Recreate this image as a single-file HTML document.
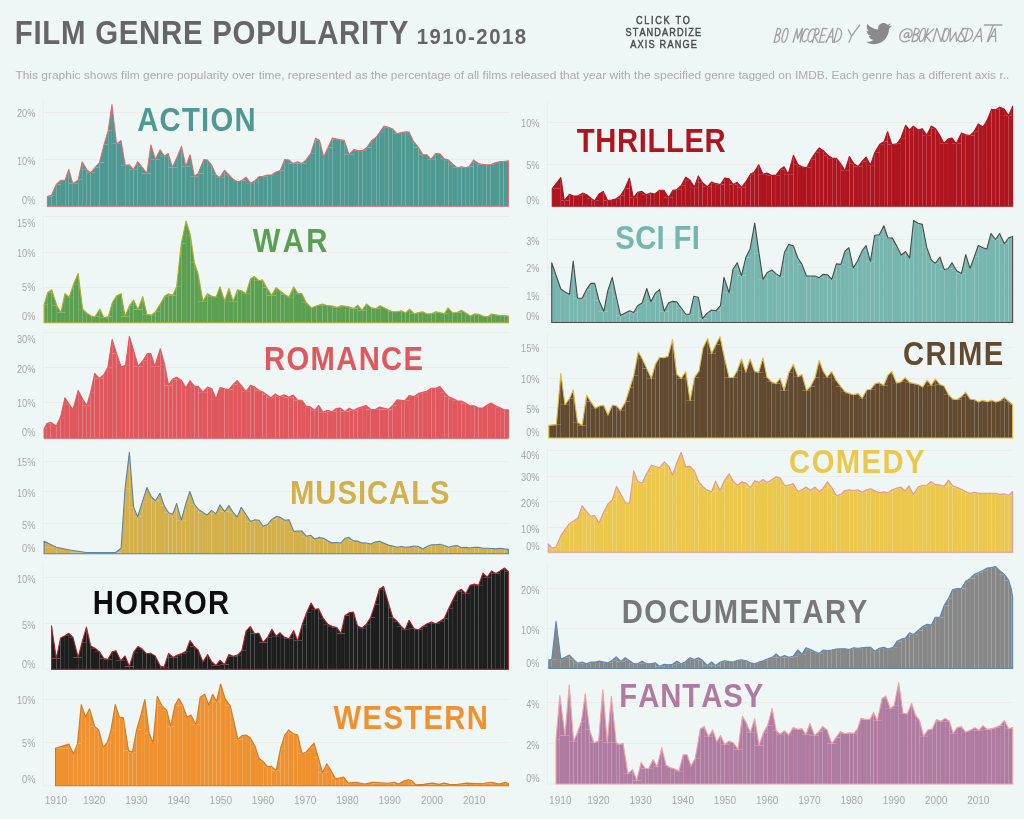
<!DOCTYPE html>
<html><head><meta charset="utf-8"><style>
html,body{margin:0;padding:0;background:#eff7f6;}
body{width:1024px;height:819px;overflow:hidden;position:relative;}
svg{position:absolute;left:0;top:0;will-change:transform;}
svg text{font-family:"Liberation Sans",sans-serif;}
</style></head><body>
<svg width="1024" height="819" viewBox="0 0 1024 819">
<text transform="translate(14.73,44) scale(0.88,1)" x="0" y="0" font-size="33.43" font-weight="bold" fill="#666666" letter-spacing="0.83" style="font-kerning:none">FILM GENRE POPULARITY</text>
<text transform="translate(416.71,44.3) scale(0.9,1)" x="0" y="0" font-size="22.67" font-weight="bold" fill="#666666" letter-spacing="1.66" style="font-kerning:none">1910-2018</text>
<text x="15.43" y="78.8" font-size="11.8" font-weight="normal" fill="#ababab" textLength="993.96" lengthAdjust="spacingAndGlyphs">This graphic shows film genre popularity over time, represented as the percentage of all films released that year with the specified genre tagged on IMDB. Each genre has a different axis r..</text>
<text transform="translate(636.03,23.6) scale(0.84,1)" x="0" y="0" font-size="10.9" font-weight="normal" fill="#4a4a4a" letter-spacing="1.99" style="font-kerning:none" stroke="#4a4a4a" stroke-width="0.45">CLICK TO</text>
<text transform="translate(625.48,35.7) scale(0.84,1)" x="0" y="0" font-size="10.9" font-weight="normal" fill="#4a4a4a" letter-spacing="1.32" style="font-kerning:none" stroke="#4a4a4a" stroke-width="0.45">STANDARDIZE</text>
<text transform="translate(630.28,47.8) scale(0.84,1)" x="0" y="0" font-size="10.9" font-weight="normal" fill="#4a4a4a" letter-spacing="1.42" style="font-kerning:none" stroke="#4a4a4a" stroke-width="0.45">AXIS RANGE</text>
<path d="M777.5,28.4 L774.1,42.3 M777.5,28.4 C782.7,28.1 781.2,34.8 776.0,34.9 M775.9,34.9 C781.9,34.7 780.2,42.6 774.1,42.3 M786.7,28.4 C783.7,28.4 779.9,42.3 783.3,42.3 C786.7,42.3 790.1,28.4 786.7,28.4 M793.1,42.3 L797.0,28.7 L797.5,38.8 L802.4,28.4 L800.1,42.3 M808.6,30.1 C807.3,27.0 803.8,29.8 802.4,36.0 C801.1,42.3 804.0,43.0 806.4,40.2 M814.7,30.1 C813.2,27.0 809.5,29.8 808.2,36.0 C806.8,42.3 810.0,43.0 812.4,40.2 M812.6,42.3 L816.0,28.4 C821.1,28.1 819.5,35.3 814.3,35.3 L817.7,42.3 M827.2,28.7 L822.8,28.4 L819.3,42.3 L824.0,42.0 M821.1,35.3 L824.9,35.1 M826.0,42.3 L832.8,28.4 L832.7,42.3 M829.0,37.0 L832.6,36.7 M837.5,28.4 L833.8,42.3 M837.5,28.4 C844.7,29.1 841.9,41.6 833.8,42.3 M848.3,29.8 L851.6,36.0 L859.8,24.9 M851.6,36.0 L849.0,42.3 M908.0,32.9 C905.4,31.6 903.1,36.2 904.8,37.5 C906.6,38.2 908.6,34.9 908.8,32.9 L908.3,37.5 C909.8,38.2 911.9,36.2 912.1,33.6 C912.5,29.0 907.6,27.6 903.1,30.3 C899.3,32.9 898.3,40.2 902.6,41.5 C904.4,42.0 907.1,41.5 909.4,40.2 M915.3,28.3 L912.0,41.5 M915.3,28.3 C921.4,28.0 920.0,34.4 914.0,34.5 M913.8,34.5 C920.8,34.2 919.1,41.8 912.0,41.5 M924.0,28.3 C920.8,28.3 917.2,41.5 920.7,41.5 C924.2,41.5 927.5,28.3 924.0,28.3 M928.2,28.3 L924.5,41.5 M933.7,29.0 L926.1,36.2 L930.5,41.5 M933.0,41.5 L936.9,28.3 L941.1,41.5 L945.0,28.3 M947.5,28.3 C944.3,28.3 940.7,41.5 944.2,41.5 C947.7,41.5 951.0,28.3 947.5,28.3 M950.5,28.3 L950.0,41.5 L955.8,32.3 L956.5,41.5 L963.0,28.3 M967.2,29.0 C963.9,27.0 960.4,30.9 961.9,34.2 C963.4,37.5 965.9,38.2 962.6,41.2 C960.9,42.2 959.2,41.5 958.3,40.2 M968.1,28.3 L964.5,41.5 M968.1,28.3 C975.8,29.0 973.2,40.8 964.5,41.5 M973.0,41.5 L980.7,28.3 L981.6,41.5 M976.5,36.5 L981.0,36.2 M984.3,25.0 L1001.9,25.0 M993.1,25.0 L987.4,41.5 M988.0,41.5 L995.2,28.3 L995.7,41.5 M991.3,36.5 L995.3,36.2" fill="none" stroke="#a0a0a0" stroke-width="1.3" stroke-linecap="round" stroke-linejoin="round"/>
<path transform="translate(865.6,21.6) scale(0.113)" fill="#8a8a8a" d="M228 34c-8 4-17 6-26 7 9-6 17-14 20-25-9 5-19 9-29 11C184 18 172 13 158 13c-26 0-47 21-47 47 0 4 0 7 1 11C73 69 39 50 16 22c-4 7-6 15-6 24 0 16 8 31 21 39-8 0-15-2-21-6v1c0 23 16 42 38 46-4 1-8 2-12 2-3 0-6 0-9-1 6 19 23 32 44 33-16 13-37 20-59 20-4 0-8 0-11-1 21 13 46 21 72 21 87 0 134-72 134-134v-6c9-7 17-15 23-24z"/>
<line x1="43.2" y1="100" x2="43.2" y2="206.3" stroke="#e6ecec" stroke-width="0.8"/>
<line x1="43.2" y1="206.3" x2="510" y2="206.3" stroke="#e6ecec" stroke-width="0.8"/>
<line x1="43.2" y1="159.5" x2="510" y2="159.5" stroke="#ebe8e8" stroke-width="0.8"/>
<line x1="43.2" y1="112.5" x2="510" y2="112.5" stroke="#ebe8e8" stroke-width="0.8"/>
<text x="16.91" y="117.3" font-size="10" fill="#a8a8a8" textLength="18.41" lengthAdjust="spacingAndGlyphs">20%</text>
<text x="16.91" y="164.6" font-size="10" fill="#a8a8a8" textLength="18.41" lengthAdjust="spacingAndGlyphs">10%</text>
<text x="22.03" y="204.2" font-size="10" fill="#a8a8a8" textLength="13.3" lengthAdjust="spacingAndGlyphs">0%</text>
<g fill="#4e9991"><path d="M47.36 206.3V196.53H51.61V206.3Z"/><path d="M51.61 206.3V195.12H56.28V206.3Z"/><path d="M56.28 206.3V184.5H60.96V206.3Z"/><path d="M60.96 206.3V180.25H65.2V206.3Z"/><path d="M65.2 206.3V179.96H68.74V206.3Z"/><path d="M68.74 206.3V183.79H72.85V206.3Z"/><path d="M72.85 206.3V183.79H78.23V206.3Z"/><path d="M78.23 206.3V179.82H82.19V206.3Z"/><path d="M82.19 206.3V169.63H86.73V206.3Z"/><path d="M86.73 206.3V172.74H90.55V206.3Z"/><path d="M90.55 206.3V172.74H94.94V206.3Z"/><path d="M94.94 206.3V167.5H99.47V206.3Z"/><path d="M99.47 206.3V162.55H104V206.3Z"/><path d="M104 206.3V144.85H108.25V206.3Z"/><path d="M108.25 206.3V130.69H111.93V206.3Z"/><path d="M111.93 206.3V143.86H116.46V206.3Z"/><path d="M116.46 206.3V143.86H120.99V206.3Z"/><path d="M120.99 206.3V165.38H125.24V206.3Z"/><path d="M125.24 206.3V165.38H129.2V206.3Z"/><path d="M129.2 206.3V169.63H133.45V206.3Z"/><path d="M133.45 206.3V169.63H137.7V206.3Z"/><path d="M137.7 206.3V166.8H141.95V206.3Z"/><path d="M141.95 206.3V173.59H146.9V206.3Z"/><path d="M146.9 206.3V173.59H150.87V206.3Z"/><path d="M150.87 206.3V159.43H155.4V206.3Z"/><path d="M155.4 206.3V159.43H160.07V206.3Z"/><path d="M160.07 206.3V156.18H164.32V206.3Z"/><path d="M164.32 206.3V156.18H168.25V206.3Z"/><path d="M168.25 206.3V167.33H172.38V206.3Z"/><path d="M172.38 206.3V167.33H177.19V206.3Z"/><path d="M177.19 206.3V157.02H181.48V206.3Z"/><path d="M181.48 206.3V166.47H185.78V206.3Z"/><path d="M185.78 206.3V166.47H190.08V206.3Z"/><path d="M190.08 206.3V176.44H194.38V206.3Z"/><path d="M194.38 206.3V176.44H198.16V206.3Z"/><path d="M198.16 206.3V173.34H203.83V206.3Z"/><path d="M203.83 206.3V159.94H207.27V206.3Z"/><path d="M207.27 206.3V165.09H211.56V206.3Z"/><path d="M211.56 206.3V174.72H215.86V206.3Z"/><path d="M215.86 206.3V177.64H219.81V206.3Z"/><path d="M219.81 206.3V177.64H224.45V206.3Z"/><path d="M224.45 206.3V174.72H228.75V206.3Z"/><path d="M228.75 206.3V179.02H233.05V206.3Z"/><path d="M233.05 206.3V181.94H237.34V206.3Z"/><path d="M237.34 206.3V181.94H241.64V206.3Z"/><path d="M241.64 206.3V180.56H245.94V206.3Z"/><path d="M245.94 206.3V183.14H250.58V206.3Z"/><path d="M250.58 206.3V183.14H254.53V206.3Z"/><path d="M254.53 206.3V181.08H258.83V206.3Z"/><path d="M258.83 206.3V176.78H263.12V206.3Z"/><path d="M263.12 206.3V176.27H267.42V206.3Z"/><path d="M267.42 206.3V175.06H271.72V206.3Z"/><path d="M271.72 206.3V175.06H276.02V206.3Z"/><path d="M276.02 206.3V171.97H280.31V206.3Z"/><path d="M280.31 206.3V170.42H284.61V206.3Z"/><path d="M284.61 206.3V159.94H288.91V206.3Z"/><path d="M288.91 206.3V163.55H293.2V206.3Z"/><path d="M293.2 206.3V163.55H297.5V206.3Z"/><path d="M297.5 206.3V163.55H301.8V206.3Z"/><path d="M301.8 206.3V163.55H306.09V206.3Z"/><path d="M306.09 206.3V159.94H310.91V206.3Z"/><path d="M310.91 206.3V153.23H315.55V206.3Z"/><path d="M315.55 206.3V140.34H319.5V206.3Z"/><path d="M319.5 206.3V157.02H323.62V206.3Z"/><path d="M323.62 206.3V157.02H328.09V206.3Z"/><path d="M328.09 206.3V147.56H332.39V206.3Z"/><path d="M332.39 206.3V139.83H340.3V206.3Z"/><path d="M340.3 206.3V140.34H344.25V206.3Z"/><path d="M344.25 206.3V154.44H348.89V206.3Z"/><path d="M348.89 206.3V154.44H354.05V206.3Z"/><path d="M354.05 206.3V150.66H358.34V206.3Z"/><path d="M358.34 206.3V150.66H362.64V206.3Z"/><path d="M362.64 206.3V150.66H366.94V206.3Z"/><path d="M366.94 206.3V147.56H371.23V206.3Z"/><path d="M371.23 206.3V141.03H376.39V206.3Z"/><path d="M376.39 206.3V136.91H379.83V206.3Z"/><path d="M379.83 206.3V132.09H384.12V206.3Z"/><path d="M384.12 206.3V127.28H388.42V206.3Z"/><path d="M388.42 206.3V129H392.72V206.3Z"/><path d="M392.72 206.3V133.81H397.02V206.3Z"/><path d="M397.02 206.3V133.81H401.31V206.3Z"/><path d="M401.31 206.3V132.61H405.61V206.3Z"/><path d="M405.61 206.3V132.09H409.05V206.3Z"/><path d="M409.05 206.3V141.03H413.34V206.3Z"/><path d="M413.34 206.3V147.56H418.5V206.3Z"/><path d="M418.5 206.3V154.44H422.8V206.3Z"/><path d="M422.8 206.3V154.78H427.09V206.3Z"/><path d="M427.09 206.3V159.25H430.88V206.3Z"/><path d="M430.88 206.3V159.25H435.69V206.3Z"/><path d="M435.69 206.3V153.92H439.98V206.3Z"/><path d="M439.98 206.3V158.73H444.28V206.3Z"/><path d="M444.28 206.3V160.11H448.58V206.3Z"/><path d="M448.58 206.3V164.23H452.88V206.3Z"/><path d="M452.88 206.3V167.84H457.17V206.3Z"/><path d="M457.17 206.3V167.84H461.47V206.3Z"/><path d="M461.47 206.3V167.84H465.77V206.3Z"/><path d="M465.77 206.3V167.84H469.2V206.3Z"/><path d="M469.2 206.3V166.47H473.5V206.3Z"/><path d="M473.5 206.3V163.03H477.8V206.3Z"/><path d="M477.8 206.3V164.41H482.09V206.3Z"/><path d="M482.09 206.3V164.75H486.39V206.3Z"/><path d="M486.39 206.3V164.75H490.69V206.3Z"/><path d="M490.69 206.3V164.75H494.98V206.3Z"/><path d="M494.98 206.3V162.69H499.28V206.3Z"/><path d="M499.28 206.3V161.66H503.58V206.3Z"/><path d="M503.58 206.3V161.66H508.39V206.3Z"/><path d="M47.36 196.53L47.36 196.53L51.61 195.12L51.61 196.53Z"/><path d="M51.61 195.12L51.61 195.12L56.28 184.5L56.28 195.12Z"/><path d="M56.28 184.5L56.28 184.5L60.96 180.25L60.96 184.5Z"/><path d="M60.96 180.25L60.96 180.25L65.2 179.96L65.2 180.25Z"/><path d="M65.2 179.96L65.2 179.96L68.74 169.35L68.74 179.96Z"/><path d="M68.74 183.79L68.74 169.35L72.85 183.79L72.85 183.79Z"/><path d="M72.85 183.79L72.85 183.79L78.23 179.82L78.23 183.79Z"/><path d="M78.23 179.82L78.23 179.82L82.19 161.84L82.19 179.82Z"/><path d="M82.19 169.63L82.19 161.84L86.73 169.63L86.73 169.63Z"/><path d="M86.73 172.74L86.73 169.63L90.55 172.74L90.55 172.74Z"/><path d="M90.55 172.74L90.55 172.74L94.94 167.5L94.94 172.74Z"/><path d="M94.94 167.5L94.94 167.5L99.47 162.55L99.47 167.5Z"/><path d="M99.47 162.55L99.47 162.55L104 144.85L104 162.55Z"/><path d="M104 144.85L104 144.85L108.25 130.69L108.25 144.85Z"/><path d="M108.25 130.69L108.25 130.69L111.93 104.5L111.93 130.69Z"/><path d="M111.93 143.86L111.93 104.5L116.46 143.86L116.46 143.86Z"/><path d="M116.46 143.86L116.46 143.86L120.99 140.6L120.99 143.86Z"/><path d="M120.99 165.38L120.99 140.6L125.24 165.38L125.24 165.38Z"/><path d="M125.24 165.38L125.24 165.38L129.2 164.67L129.2 165.38Z"/><path d="M129.2 169.63L129.2 164.67L133.45 169.63L133.45 169.63Z"/><path d="M133.45 169.63L133.45 169.63L137.7 161.84L137.7 169.63Z"/><path d="M137.7 166.8L137.7 161.84L141.95 166.8L141.95 166.8Z"/><path d="M141.95 173.59L141.95 166.8L146.9 173.59L146.9 173.59Z"/><path d="M146.9 173.59L146.9 173.59L150.87 144.85L150.87 173.59Z"/><path d="M150.87 159.43L150.87 144.85L155.4 159.43L155.4 159.43Z"/><path d="M155.4 159.43L155.4 159.43L160.07 149.81L160.07 159.43Z"/><path d="M160.07 156.18L160.07 149.81L164.32 156.18L164.32 156.18Z"/><path d="M164.32 156.18L164.32 156.18L168.25 153.58L168.25 156.18Z"/><path d="M168.25 167.33L168.25 153.58L172.38 167.33L172.38 167.33Z"/><path d="M172.38 167.33L172.38 167.33L177.19 157.02L177.19 167.33Z"/><path d="M177.19 157.02L177.19 157.02L181.48 146.36L181.48 157.02Z"/><path d="M181.48 166.47L181.48 146.36L185.78 166.47L185.78 166.47Z"/><path d="M185.78 166.47L185.78 166.47L190.08 154.78L190.08 166.47Z"/><path d="M190.08 176.44L190.08 154.78L194.38 176.44L194.38 176.44Z"/><path d="M194.38 176.44L194.38 176.44L198.16 173.34L198.16 176.44Z"/><path d="M198.16 173.34L198.16 173.34L203.83 159.59L203.83 173.34Z"/><path d="M203.83 159.94L203.83 159.59L207.27 159.94L207.27 159.94Z"/><path d="M207.27 165.09L207.27 159.94L211.56 165.09L211.56 165.09Z"/><path d="M211.56 174.72L211.56 165.09L215.86 174.72L215.86 174.72Z"/><path d="M215.86 177.64L215.86 174.72L219.81 177.64L219.81 177.64Z"/><path d="M219.81 177.64L219.81 177.64L224.45 170.25L224.45 177.64Z"/><path d="M224.45 174.72L224.45 170.25L228.75 174.72L228.75 174.72Z"/><path d="M228.75 179.02L228.75 174.72L233.05 179.02L233.05 179.02Z"/><path d="M233.05 181.94L233.05 179.02L237.34 181.94L237.34 181.94Z"/><path d="M237.34 181.94L237.34 181.94L241.64 180.56L241.64 181.94Z"/><path d="M241.64 180.56L241.64 180.56L245.94 177.12L245.94 180.56Z"/><path d="M245.94 183.14L245.94 177.12L250.58 183.14L250.58 183.14Z"/><path d="M250.58 183.14L250.58 183.14L254.53 181.08L254.53 183.14Z"/><path d="M254.53 181.08L254.53 181.08L258.83 176.78L258.83 181.08Z"/><path d="M258.83 176.78L258.83 176.78L263.12 176.27L263.12 176.78Z"/><path d="M263.12 176.27L263.12 176.27L267.42 175.06L267.42 176.27Z"/><path d="M271.72 175.06L271.72 175.06L276.02 171.97L276.02 175.06Z"/><path d="M276.02 171.97L276.02 171.97L280.31 170.42L280.31 171.97Z"/><path d="M280.31 170.42L280.31 170.42L284.61 159.59L284.61 170.42Z"/><path d="M284.61 159.94L284.61 159.59L288.91 159.94L288.91 159.94Z"/><path d="M288.91 163.55L288.91 159.94L293.2 163.55L293.2 163.55Z"/><path d="M293.2 163.55L293.2 163.55L297.5 161.66L297.5 163.55Z"/><path d="M297.5 163.55L297.5 161.66L301.8 163.55L301.8 163.55Z"/><path d="M301.8 163.55L301.8 163.55L306.09 159.94L306.09 163.55Z"/><path d="M306.09 159.94L306.09 159.94L310.91 153.23L310.91 159.94Z"/><path d="M310.91 153.23L310.91 153.23L315.55 138.11L315.55 153.23Z"/><path d="M315.55 140.34L315.55 138.11L319.5 140.34L319.5 140.34Z"/><path d="M319.5 157.02L319.5 140.34L323.62 157.02L323.62 157.02Z"/><path d="M323.62 157.02L323.62 157.02L328.09 147.56L328.09 157.02Z"/><path d="M328.09 147.56L328.09 147.56L332.39 138.11L332.39 147.56Z"/><path d="M332.39 139.83L332.39 138.11L340.3 139.83L340.3 139.83Z"/><path d="M340.3 140.34L340.3 139.83L344.25 140.34L344.25 140.34Z"/><path d="M344.25 154.44L344.25 140.34L348.89 154.44L348.89 154.44Z"/><path d="M348.89 154.44L348.89 154.44L354.05 149.62L354.05 154.44Z"/><path d="M354.05 150.66L354.05 149.62L358.34 150.66L358.34 150.66Z"/><path d="M362.64 150.66L362.64 150.66L366.94 147.56L366.94 150.66Z"/><path d="M366.94 147.56L366.94 147.56L371.23 141.03L371.23 147.56Z"/><path d="M371.23 141.03L371.23 141.03L376.39 136.91L376.39 141.03Z"/><path d="M376.39 136.91L376.39 136.91L379.83 132.09L379.83 136.91Z"/><path d="M379.83 132.09L379.83 132.09L384.12 126.08L384.12 132.09Z"/><path d="M384.12 127.28L384.12 126.08L388.42 127.28L388.42 127.28Z"/><path d="M388.42 129L388.42 127.28L392.72 129L392.72 129Z"/><path d="M392.72 133.81L392.72 129L397.02 133.81L397.02 133.81Z"/><path d="M397.02 133.81L397.02 133.81L401.31 132.61L401.31 133.81Z"/><path d="M401.31 132.61L401.31 132.61L405.61 131.75L405.61 132.61Z"/><path d="M405.61 132.09L405.61 131.75L409.05 132.09L409.05 132.09Z"/><path d="M409.05 141.03L409.05 132.09L413.34 141.03L413.34 141.03Z"/><path d="M413.34 147.56L413.34 141.03L418.5 147.56L418.5 147.56Z"/><path d="M418.5 154.44L418.5 147.56L422.8 154.44L422.8 154.44Z"/><path d="M422.8 154.78L422.8 154.44L427.09 154.78L427.09 154.78Z"/><path d="M427.09 159.25L427.09 154.78L430.88 159.25L430.88 159.25Z"/><path d="M430.88 159.25L430.88 159.25L435.69 153.58L435.69 159.25Z"/><path d="M435.69 153.92L435.69 153.58L439.98 153.92L439.98 153.92Z"/><path d="M439.98 158.73L439.98 153.92L444.28 158.73L444.28 158.73Z"/><path d="M444.28 160.11L444.28 158.73L448.58 160.11L448.58 160.11Z"/><path d="M448.58 164.23L448.58 160.11L452.88 164.23L452.88 164.23Z"/><path d="M452.88 167.84L452.88 164.23L457.17 167.84L457.17 167.84Z"/><path d="M457.17 167.84L457.17 167.84L461.47 166.81L461.47 167.84Z"/><path d="M461.47 167.84L461.47 166.81L465.77 167.84L465.77 167.84Z"/><path d="M465.77 167.84L465.77 167.84L469.2 166.47L469.2 167.84Z"/><path d="M469.2 166.47L469.2 166.47L473.5 159.94L473.5 166.47Z"/><path d="M473.5 163.03L473.5 159.94L477.8 163.03L477.8 163.03Z"/><path d="M477.8 164.41L477.8 163.03L482.09 164.41L482.09 164.41Z"/><path d="M482.09 164.75L482.09 164.41L486.39 164.75L486.39 164.75Z"/><path d="M490.69 164.75L490.69 164.75L494.98 162.69L494.98 164.75Z"/><path d="M494.98 162.69L494.98 162.69L499.28 161.66L499.28 162.69Z"/><path d="M503.58 161.66L503.58 161.66L508.39 160.8L508.39 161.66Z"/></g>
<polygon points="47.36,206.3 47.36,196.53 51.61,195.12 56.28,184.5 60.96,180.25 65.2,179.96 68.74,169.35 72.85,183.79 78.23,179.82 82.19,161.84 86.73,169.63 90.55,172.74 94.94,167.5 99.47,162.55 104,144.85 108.25,130.69 111.93,104.5 116.46,143.86 120.99,140.6 125.24,165.38 129.2,164.67 133.45,169.63 137.7,161.84 141.95,166.8 146.9,173.59 150.87,144.85 155.4,159.43 160.07,149.81 164.32,156.18 168.25,153.58 172.38,167.33 177.19,157.02 181.48,146.36 185.78,166.47 190.08,154.78 194.38,176.44 198.16,173.34 203.83,159.59 207.27,159.94 211.56,165.09 215.86,174.72 219.81,177.64 224.45,170.25 228.75,174.72 233.05,179.02 237.34,181.94 241.64,180.56 245.94,177.12 250.58,183.14 254.53,181.08 258.83,176.78 263.12,176.27 267.42,175.06 271.72,175.06 276.02,171.97 280.31,170.42 284.61,159.59 288.91,159.94 293.2,163.55 297.5,161.66 301.8,163.55 306.09,159.94 310.91,153.23 315.55,138.11 319.5,140.34 323.62,157.02 328.09,147.56 332.39,138.11 340.3,139.83 344.25,140.34 348.89,154.44 354.05,149.62 358.34,150.66 362.64,150.66 366.94,147.56 371.23,141.03 376.39,136.91 379.83,132.09 384.12,126.08 388.42,127.28 392.72,129 397.02,133.81 401.31,132.61 405.61,131.75 409.05,132.09 413.34,141.03 418.5,147.56 422.8,154.44 427.09,154.78 430.88,159.25 435.69,153.58 439.98,153.92 444.28,158.73 448.58,160.11 452.88,164.23 457.17,167.84 461.47,166.81 465.77,167.84 469.2,166.47 473.5,159.94 477.8,163.03 482.09,164.41 486.39,164.75 490.69,164.75 494.98,162.69 499.28,161.66 503.58,161.66 508.39,160.8 508.39,206.3" fill="none" stroke="#de6b70" stroke-width="1.1" stroke-linejoin="round"/>
<text transform="translate(137.17,131.3) scale(0.86,1)" x="0" y="0" font-size="34.01" font-weight="bold" fill="#4e9991" letter-spacing="1.48" style="font-kerning:none">ACTION</text>
<line x1="43.2" y1="216.3" x2="43.2" y2="322.7" stroke="#e6ecec" stroke-width="0.8"/>
<line x1="43.2" y1="322.7" x2="510" y2="322.7" stroke="#e6ecec" stroke-width="0.8"/>
<line x1="43.2" y1="287.5" x2="510" y2="287.5" stroke="#ebe8e8" stroke-width="0.8"/>
<line x1="43.2" y1="252.5" x2="510" y2="252.5" stroke="#ebe8e8" stroke-width="0.8"/>
<line x1="43.2" y1="216.5" x2="510" y2="216.5" stroke="#ebe8e8" stroke-width="0.8"/>
<text x="16.91" y="226.6" font-size="10" fill="#a8a8a8" textLength="18.41" lengthAdjust="spacingAndGlyphs">15%</text>
<text x="16.91" y="257.2" font-size="10" fill="#a8a8a8" textLength="18.41" lengthAdjust="spacingAndGlyphs">10%</text>
<text x="22.03" y="291.4" font-size="10" fill="#a8a8a8" textLength="13.3" lengthAdjust="spacingAndGlyphs">5%</text>
<text x="22.03" y="319.6" font-size="10" fill="#a8a8a8" textLength="13.3" lengthAdjust="spacingAndGlyphs">0%</text>
<g fill="#5ba050"><path d="M44.12 322.7V304.81H47.73V322.7Z"/><path d="M47.73 322.7V292.44H51.69V322.7Z"/><path d="M51.69 322.7V305.67H56.84V322.7Z"/><path d="M56.84 322.7V312.55H60.97V322.7Z"/><path d="M60.97 322.7V312.55H64.92V322.7Z"/><path d="M64.92 322.7V297.08H69.22V322.7Z"/><path d="M69.22 322.7V297.08H73.52V322.7Z"/><path d="M73.52 322.7V284.19H78.16V322.7Z"/><path d="M78.16 322.7V309.11H82.62V322.7Z"/><path d="M82.62 322.7V313.06H86.75V322.7Z"/><path d="M86.75 322.7V315.98H91.22V322.7Z"/><path d="M91.22 322.7V316.84H95V322.7Z"/><path d="M95 322.7V316.84H99.81V322.7Z"/><path d="M99.81 322.7V317.7H103.94V322.7Z"/><path d="M103.94 322.7V317.7H108.41V322.7Z"/><path d="M108.41 322.7V316.5H112.19V322.7Z"/><path d="M112.19 322.7V303.09H116.48V322.7Z"/><path d="M116.48 322.7V295.88H121.12V322.7Z"/><path d="M121.12 322.7V316.5H125.08V322.7Z"/><path d="M125.08 322.7V316.5H129.38V322.7Z"/><path d="M129.38 322.7V305.67H133.67V322.7Z"/><path d="M133.67 322.7V309.62H137.97V322.7Z"/><path d="M137.97 322.7V309.62H142.78V322.7Z"/><path d="M142.78 322.7V314.27H146.91V322.7Z"/><path d="M146.91 322.7V315.12H151.38V322.7Z"/><path d="M151.38 322.7V315.12H155.5V322.7Z"/><path d="M155.5 322.7V311.69H160.31V322.7Z"/><path d="M160.31 322.7V303.95H164.61V322.7Z"/><path d="M164.61 322.7V296.22H168.56V322.7Z"/><path d="M168.56 322.7V295.36H172.69V322.7Z"/><path d="M172.69 322.7V295.36H176.64V322.7Z"/><path d="M176.64 322.7V286.77H181.28V322.7Z"/><path d="M181.28 322.7V243.8H186.09V322.7Z"/><path d="M186.09 322.7V235.2H190.39V322.7Z"/><path d="M190.39 322.7V262.7H194.34V322.7Z"/><path d="M194.34 322.7V273.88H198.12V322.7Z"/><path d="M198.12 322.7V301.38H202.94V322.7Z"/><path d="M202.94 322.7V301.38H207.58V322.7Z"/><path d="M207.58 322.7V296.22H211.88V322.7Z"/><path d="M211.88 322.7V297.08H216.02V322.7Z"/><path d="M216.02 322.7V297.08H219.97V322.7Z"/><path d="M219.97 322.7V301.03H224.61V322.7Z"/><path d="M224.61 322.7V301.03H228.91V322.7Z"/><path d="M228.91 322.7V301.38H233.2V322.7Z"/><path d="M233.2 322.7V301.38H237.5V322.7Z"/><path d="M237.5 322.7V291.06H241.8V322.7Z"/><path d="M241.8 322.7V293.64H246.09V322.7Z"/><path d="M246.09 322.7V293.64H250.39V322.7Z"/><path d="M250.39 322.7V279.03H254.34V322.7Z"/><path d="M254.34 322.7V280.75H258.98V322.7Z"/><path d="M258.98 322.7V280.75H262.42V322.7Z"/><path d="M262.42 322.7V287.62H266.72V322.7Z"/><path d="M266.72 322.7V295.36H271.53V322.7Z"/><path d="M271.53 322.7V295.36H276.17V322.7Z"/><path d="M276.17 322.7V291.06H280.47V322.7Z"/><path d="M280.47 322.7V294.5H284.77V322.7Z"/><path d="M284.77 322.7V297.08H289.06V322.7Z"/><path d="M289.06 322.7V297.08H293.7V322.7Z"/><path d="M293.7 322.7V293.64H298V322.7Z"/><path d="M298 322.7V293.64H301.95V322.7Z"/><path d="M301.95 322.7V302.23H305.91V322.7Z"/><path d="M305.91 322.7V307.91H311.41V322.7Z"/><path d="M311.41 322.7V307.91H316.56V322.7Z"/><path d="M316.56 322.7V305.67H322.58V322.7Z"/><path d="M322.58 322.7V305.67H327.73V322.7Z"/><path d="M327.73 322.7V306.02H332.38V322.7Z"/><path d="M332.38 322.7V307.39H336.84V322.7Z"/><path d="M336.84 322.7V307.39H340.97V322.7Z"/><path d="M340.97 322.7V306.19H345.78V322.7Z"/><path d="M345.78 322.7V307.05H349.56V322.7Z"/><path d="M349.56 322.7V308.59H353.52V322.7Z"/><path d="M353.52 322.7V308.59H357.81V322.7Z"/><path d="M357.81 322.7V310.31H362.11V322.7Z"/><path d="M362.11 322.7V310.31H366.41V322.7Z"/><path d="M366.41 322.7V307.91H371.56V322.7Z"/><path d="M371.56 322.7V308.59H375.86V322.7Z"/><path d="M375.86 322.7V308.59H380.16V322.7Z"/><path d="M380.16 322.7V309.97H388.42V322.7Z"/><path d="M388.42 322.7V311.69H392.72V322.7Z"/><path d="M392.72 322.7V311.69H397.02V322.7Z"/><path d="M397.02 322.7V311.69H401.31V322.7Z"/><path d="M401.31 322.7V312.89H405.61V322.7Z"/><path d="M405.61 322.7V312.89H409.56V322.7Z"/><path d="M409.56 322.7V313.75H414.2V322.7Z"/><path d="M414.2 322.7V313.75H418.5V322.7Z"/><path d="M418.5 322.7V312.55H422.8V322.7Z"/><path d="M422.8 322.7V313.92H427.09V322.7Z"/><path d="M427.09 322.7V313.92H431.39V322.7Z"/><path d="M431.39 322.7V313.75H435.69V322.7Z"/><path d="M435.69 322.7V312.55H439.98V322.7Z"/><path d="M439.98 322.7V313.75H444.28V322.7Z"/><path d="M444.28 322.7V313.75H448.06V322.7Z"/><path d="M448.06 322.7V312.89H452.53V322.7Z"/><path d="M452.53 322.7V312.89H457.17V322.7Z"/><path d="M457.17 322.7V312.55H461.47V322.7Z"/><path d="M461.47 322.7V312.89H465.77V322.7Z"/><path d="M465.77 322.7V315.98H470.41V322.7Z"/><path d="M470.41 322.7V315.98H474.36V322.7Z"/><path d="M474.36 322.7V314.27H478.66V322.7Z"/><path d="M478.66 322.7V315.98H482.95V322.7Z"/><path d="M482.95 322.7V316.84H487.25V322.7Z"/><path d="M487.25 322.7V316.84H491.55V322.7Z"/><path d="M491.55 322.7V314.78H495.84V322.7Z"/><path d="M495.84 322.7V315.64H500.14V322.7Z"/><path d="M500.14 322.7V315.64H504.44V322.7Z"/><path d="M504.44 322.7V315.98H508.39V322.7Z"/><path d="M44.12 304.81L44.12 304.81L47.73 292.44L47.73 304.81Z"/><path d="M47.73 292.44L47.73 292.44L51.69 289.69L51.69 292.44Z"/><path d="M51.69 305.67L51.69 289.69L56.84 305.67L56.84 305.67Z"/><path d="M56.84 312.55L56.84 305.67L60.97 312.55L60.97 312.55Z"/><path d="M60.97 312.55L60.97 312.55L64.92 293.64L64.92 312.55Z"/><path d="M64.92 297.08L64.92 293.64L69.22 297.08L69.22 297.08Z"/><path d="M69.22 297.08L69.22 297.08L73.52 284.19L73.52 297.08Z"/><path d="M73.52 284.19L73.52 284.19L78.16 273.36L78.16 284.19Z"/><path d="M78.16 309.11L78.16 273.36L82.62 309.11L82.62 309.11Z"/><path d="M82.62 313.06L82.62 309.11L86.75 313.06L86.75 313.06Z"/><path d="M86.75 315.98L86.75 313.06L91.22 315.98L91.22 315.98Z"/><path d="M91.22 316.84L91.22 315.98L95 316.84L95 316.84Z"/><path d="M95 316.84L95 316.84L99.81 309.11L99.81 316.84Z"/><path d="M99.81 317.7L99.81 309.11L103.94 317.7L103.94 317.7Z"/><path d="M103.94 317.7L103.94 317.7L108.41 316.5L108.41 317.7Z"/><path d="M108.41 316.5L108.41 316.5L112.19 303.09L112.19 316.5Z"/><path d="M112.19 303.09L112.19 303.09L116.48 295.88L116.48 303.09Z"/><path d="M116.48 295.88L116.48 295.88L121.12 293.64L121.12 295.88Z"/><path d="M121.12 316.5L121.12 293.64L125.08 316.5L125.08 316.5Z"/><path d="M125.08 316.5L125.08 316.5L129.38 305.67L129.38 316.5Z"/><path d="M129.38 305.67L129.38 305.67L133.67 300L133.67 305.67Z"/><path d="M133.67 309.62L133.67 300L137.97 309.62L137.97 309.62Z"/><path d="M137.97 309.62L137.97 309.62L142.78 296.56L142.78 309.62Z"/><path d="M142.78 314.27L142.78 296.56L146.91 314.27L146.91 314.27Z"/><path d="M146.91 315.12L146.91 314.27L151.38 315.12L151.38 315.12Z"/><path d="M151.38 315.12L151.38 315.12L155.5 311.69L155.5 315.12Z"/><path d="M155.5 311.69L155.5 311.69L160.31 303.95L160.31 311.69Z"/><path d="M160.31 303.95L160.31 303.95L164.61 296.22L164.61 303.95Z"/><path d="M164.61 296.22L164.61 296.22L168.56 293.64L168.56 296.22Z"/><path d="M168.56 295.36L168.56 293.64L172.69 295.36L172.69 295.36Z"/><path d="M172.69 295.36L172.69 295.36L176.64 286.77L176.64 295.36Z"/><path d="M176.64 286.77L176.64 286.77L181.28 243.8L181.28 286.77Z"/><path d="M181.28 243.8L181.28 243.8L186.09 220.94L186.09 243.8Z"/><path d="M186.09 235.2L186.09 220.94L190.39 235.2L190.39 235.2Z"/><path d="M190.39 262.7L190.39 235.2L194.34 262.7L194.34 262.7Z"/><path d="M194.34 273.88L194.34 262.7L198.12 273.88L198.12 273.88Z"/><path d="M198.12 301.38L198.12 273.88L202.94 301.38L202.94 301.38Z"/><path d="M202.94 301.38L202.94 301.38L207.58 293.64L207.58 301.38Z"/><path d="M207.58 296.22L207.58 293.64L211.88 296.22L211.88 296.22Z"/><path d="M211.88 297.08L211.88 296.22L216.02 297.08L216.02 297.08Z"/><path d="M216.02 297.08L216.02 297.08L219.97 286.77L219.97 297.08Z"/><path d="M219.97 301.03L219.97 286.77L224.61 301.03L224.61 301.03Z"/><path d="M224.61 301.03L224.61 301.03L228.91 288.48L228.91 301.03Z"/><path d="M228.91 301.38L228.91 288.48L233.2 301.38L233.2 301.38Z"/><path d="M233.2 301.38L233.2 301.38L237.5 289.69L237.5 301.38Z"/><path d="M237.5 291.06L237.5 289.69L241.8 291.06L241.8 291.06Z"/><path d="M241.8 293.64L241.8 291.06L246.09 293.64L246.09 293.64Z"/><path d="M246.09 293.64L246.09 293.64L250.39 279.03L250.39 293.64Z"/><path d="M250.39 279.03L250.39 279.03L254.34 276.45L254.34 279.03Z"/><path d="M254.34 280.75L254.34 276.45L258.98 280.75L258.98 280.75Z"/><path d="M258.98 280.75L258.98 280.75L262.42 279.89L262.42 280.75Z"/><path d="M262.42 287.62L262.42 279.89L266.72 287.62L266.72 287.62Z"/><path d="M266.72 295.36L266.72 287.62L271.53 295.36L271.53 295.36Z"/><path d="M271.53 295.36L271.53 295.36L276.17 287.62L276.17 295.36Z"/><path d="M276.17 291.06L276.17 287.62L280.47 291.06L280.47 291.06Z"/><path d="M280.47 294.5L280.47 291.06L284.77 294.5L284.77 294.5Z"/><path d="M284.77 297.08L284.77 294.5L289.06 297.08L289.06 297.08Z"/><path d="M289.06 297.08L289.06 297.08L293.7 286.77L293.7 297.08Z"/><path d="M293.7 293.64L293.7 286.77L298 293.64L298 293.64Z"/><path d="M301.95 302.23L301.95 293.64L305.91 302.23L305.91 302.23Z"/><path d="M305.91 307.91L305.91 302.23L311.41 307.91L311.41 307.91Z"/><path d="M311.41 307.91L311.41 307.91L316.56 305.67L316.56 307.91Z"/><path d="M316.56 305.67L316.56 305.67L322.58 303.95L322.58 305.67Z"/><path d="M322.58 305.67L322.58 303.95L327.73 305.67L327.73 305.67Z"/><path d="M327.73 306.02L327.73 305.67L332.38 306.02L332.38 306.02Z"/><path d="M332.38 307.39L332.38 306.02L336.84 307.39L336.84 307.39Z"/><path d="M336.84 307.39L336.84 307.39L340.97 305.67L340.97 307.39Z"/><path d="M340.97 306.19L340.97 305.67L345.78 306.19L345.78 306.19Z"/><path d="M345.78 307.05L345.78 306.19L349.56 307.05L349.56 307.05Z"/><path d="M349.56 308.59L349.56 307.05L353.52 308.59L353.52 308.59Z"/><path d="M353.52 308.59L353.52 308.59L357.81 305.16L357.81 308.59Z"/><path d="M357.81 310.31L357.81 305.16L362.11 310.31L362.11 310.31Z"/><path d="M362.11 310.31L362.11 310.31L366.41 303.95L366.41 310.31Z"/><path d="M366.41 307.91L366.41 303.95L371.56 307.91L371.56 307.91Z"/><path d="M371.56 308.59L371.56 307.91L375.86 308.59L375.86 308.59Z"/><path d="M375.86 308.59L375.86 308.59L380.16 305.67L380.16 308.59Z"/><path d="M380.16 309.97L380.16 305.67L388.42 309.97L388.42 309.97Z"/><path d="M388.42 311.69L388.42 309.97L392.72 311.69L392.72 311.69Z"/><path d="M397.02 311.69L397.02 311.69L401.31 310.83L401.31 311.69Z"/><path d="M401.31 312.89L401.31 310.83L405.61 312.89L405.61 312.89Z"/><path d="M405.61 312.89L405.61 312.89L409.56 309.11L409.56 312.89Z"/><path d="M409.56 313.75L409.56 309.11L414.2 313.75L414.2 313.75Z"/><path d="M414.2 313.75L414.2 313.75L418.5 312.55L418.5 313.75Z"/><path d="M418.5 312.55L418.5 312.55L422.8 311.69L422.8 312.55Z"/><path d="M422.8 313.92L422.8 311.69L427.09 313.92L427.09 313.92Z"/><path d="M427.09 313.92L427.09 313.92L431.39 313.75L431.39 313.92Z"/><path d="M431.39 313.75L431.39 313.75L435.69 311.69L435.69 313.75Z"/><path d="M435.69 312.55L435.69 311.69L439.98 312.55L439.98 312.55Z"/><path d="M439.98 313.75L439.98 312.55L444.28 313.75L444.28 313.75Z"/><path d="M444.28 313.75L444.28 313.75L448.06 307.91L448.06 313.75Z"/><path d="M448.06 312.89L448.06 307.91L452.53 312.89L452.53 312.89Z"/><path d="M452.53 312.89L452.53 312.89L457.17 312.55L457.17 312.89Z"/><path d="M457.17 312.55L457.17 312.55L461.47 310.31L461.47 312.55Z"/><path d="M461.47 312.89L461.47 310.31L465.77 312.89L465.77 312.89Z"/><path d="M465.77 315.98L465.77 312.89L470.41 315.98L470.41 315.98Z"/><path d="M470.41 315.98L470.41 315.98L474.36 313.92L474.36 315.98Z"/><path d="M474.36 314.27L474.36 313.92L478.66 314.27L478.66 314.27Z"/><path d="M478.66 315.98L478.66 314.27L482.95 315.98L482.95 315.98Z"/><path d="M482.95 316.84L482.95 315.98L487.25 316.84L487.25 316.84Z"/><path d="M487.25 316.84L487.25 316.84L491.55 313.92L491.55 316.84Z"/><path d="M491.55 314.78L491.55 313.92L495.84 314.78L495.84 314.78Z"/><path d="M495.84 315.64L495.84 314.78L500.14 315.64L500.14 315.64Z"/><path d="M504.44 315.98L504.44 315.64L508.39 315.98L508.39 315.98Z"/></g>
<polygon points="44.12,322.7 44.12,304.81 47.73,292.44 51.69,289.69 56.84,305.67 60.97,312.55 64.92,293.64 69.22,297.08 73.52,284.19 78.16,273.36 82.62,309.11 86.75,313.06 91.22,315.98 95,316.84 99.81,309.11 103.94,317.7 108.41,316.5 112.19,303.09 116.48,295.88 121.12,293.64 125.08,316.5 129.38,305.67 133.67,300 137.97,309.62 142.78,296.56 146.91,314.27 151.38,315.12 155.5,311.69 160.31,303.95 164.61,296.22 168.56,293.64 172.69,295.36 176.64,286.77 181.28,243.8 186.09,220.94 190.39,235.2 194.34,262.7 198.12,273.88 202.94,301.38 207.58,293.64 211.88,296.22 216.02,297.08 219.97,286.77 224.61,301.03 228.91,288.48 233.2,301.38 237.5,289.69 241.8,291.06 246.09,293.64 250.39,279.03 254.34,276.45 258.98,280.75 262.42,279.89 266.72,287.62 271.53,295.36 276.17,287.62 280.47,291.06 284.77,294.5 289.06,297.08 293.7,286.77 298,293.64 301.95,293.64 305.91,302.23 311.41,307.91 316.56,305.67 322.58,303.95 327.73,305.67 332.38,306.02 336.84,307.39 340.97,305.67 345.78,306.19 349.56,307.05 353.52,308.59 357.81,305.16 362.11,310.31 366.41,303.95 371.56,307.91 375.86,308.59 380.16,305.67 388.42,309.97 392.72,311.69 397.02,311.69 401.31,310.83 405.61,312.89 409.56,309.11 414.2,313.75 418.5,312.55 422.8,311.69 427.09,313.92 431.39,313.75 435.69,311.69 439.98,312.55 444.28,313.75 448.06,307.91 452.53,312.89 457.17,312.55 461.47,310.31 465.77,312.89 470.41,315.98 474.36,313.92 478.66,314.27 482.95,315.98 487.25,316.84 491.55,313.92 495.84,314.78 500.14,315.64 504.44,315.64 508.39,315.98 508.39,322.7" fill="none" stroke="#b3ad2a" stroke-width="1.1" stroke-linejoin="round"/>
<text transform="translate(252.67,252.4) scale(0.86,1)" x="0" y="0" font-size="34.01" font-weight="bold" fill="#5ba050" letter-spacing="2.89" style="font-kerning:none">WAR</text>
<line x1="43.2" y1="332" x2="43.2" y2="438.2" stroke="#e6ecec" stroke-width="0.8"/>
<line x1="43.2" y1="438.2" x2="510" y2="438.2" stroke="#e6ecec" stroke-width="0.8"/>
<line x1="43.2" y1="402.5" x2="510" y2="402.5" stroke="#ebe8e8" stroke-width="0.8"/>
<line x1="43.2" y1="367.5" x2="510" y2="367.5" stroke="#ebe8e8" stroke-width="0.8"/>
<line x1="43.2" y1="332.5" x2="510" y2="332.5" stroke="#ebe8e8" stroke-width="0.8"/>
<text x="16.91" y="343.4" font-size="10" fill="#a8a8a8" textLength="18.41" lengthAdjust="spacingAndGlyphs">30%</text>
<text x="16.91" y="372.6" font-size="10" fill="#a8a8a8" textLength="18.41" lengthAdjust="spacingAndGlyphs">20%</text>
<text x="16.91" y="407.2" font-size="10" fill="#a8a8a8" textLength="18.41" lengthAdjust="spacingAndGlyphs">10%</text>
<text x="22.03" y="435.6" font-size="10" fill="#a8a8a8" textLength="13.3" lengthAdjust="spacingAndGlyphs">0%</text>
<g fill="#e0585d"><path d="M44.12 438.2V428.78H46.88V438.2Z"/><path d="M46.88 438.2V423.62H50.66V438.2Z"/><path d="M50.66 438.2V426.03H56.33V438.2Z"/><path d="M56.33 438.2V426.03H60.62V438.2Z"/><path d="M60.62 438.2V417.09H64.92V438.2Z"/><path d="M64.92 438.2V404.2H69.22V438.2Z"/><path d="M69.22 438.2V409.88H73V438.2Z"/><path d="M73 438.2V409.88H78.16V438.2Z"/><path d="M78.16 438.2V399.05H82.62V438.2Z"/><path d="M82.62 438.2V405.41H86.75V438.2Z"/><path d="M86.75 438.2V405.41H90.7V438.2Z"/><path d="M90.7 438.2V392.17H94.66V438.2Z"/><path d="M94.66 438.2V378.42H99.3V438.2Z"/><path d="M99.3 438.2V378.42H103.59V438.2Z"/><path d="M103.59 438.2V374.98H107.89V438.2Z"/><path d="M107.89 438.2V367.25H112.19V438.2Z"/><path d="M112.19 438.2V353.5H116.48V438.2Z"/><path d="M116.48 438.2V366.91H121.12V438.2Z"/><path d="M121.12 438.2V366.91H125.59V438.2Z"/><path d="M125.59 438.2V365.19H129.38V438.2Z"/><path d="M129.38 438.2V350.92H133.67V438.2Z"/><path d="M133.67 438.2V366.39H138.31V438.2Z"/><path d="M138.31 438.2V366.39H143.12V438.2Z"/><path d="M143.12 438.2V360.38H147.42V438.2Z"/><path d="M147.42 438.2V353.5H150.86V438.2Z"/><path d="M150.86 438.2V366.39H154.81V438.2Z"/><path d="M154.81 438.2V366.39H160.31V438.2Z"/><path d="M160.31 438.2V364.67H164.61V438.2Z"/><path d="M164.61 438.2V385.3H168.56V438.2Z"/><path d="M168.56 438.2V385.3H172.34V438.2Z"/><path d="M172.34 438.2V379.28H176.64V438.2Z"/><path d="M176.64 438.2V380.14H181.28V438.2Z"/><path d="M181.28 438.2V387.88H185.75V438.2Z"/><path d="M185.75 438.2V387.88H190.05V438.2Z"/><path d="M190.05 438.2V386.16H194.34V438.2Z"/><path d="M194.34 438.2V386.5H198.47V438.2Z"/><path d="M198.47 438.2V392.17H202.94V438.2Z"/><path d="M202.94 438.2V392.17H207.58V438.2Z"/><path d="M207.58 438.2V388.73H211.88V438.2Z"/><path d="M211.88 438.2V399.05H216.02V438.2Z"/><path d="M216.02 438.2V399.05H219.97V438.2Z"/><path d="M219.97 438.2V388.73H224.61V438.2Z"/><path d="M224.61 438.2V389.59H228.91V438.2Z"/><path d="M228.91 438.2V389.59H233.2V438.2Z"/><path d="M233.2 438.2V384.44H237.16V438.2Z"/><path d="M237.16 438.2V386.16H241.8V438.2Z"/><path d="M241.8 438.2V391.66H246.09V438.2Z"/><path d="M246.09 438.2V391.66H250.39V438.2Z"/><path d="M250.39 438.2V387.02H254.69V438.2Z"/><path d="M254.69 438.2V390.45H258.98V438.2Z"/><path d="M258.98 438.2V391.66H262.42V438.2Z"/><path d="M262.42 438.2V394.75H266.72V438.2Z"/><path d="M266.72 438.2V397.84H271.02V438.2Z"/><path d="M271.02 438.2V397.84H275.31V438.2Z"/><path d="M275.31 438.2V396.81H279.61V438.2Z"/><path d="M279.61 438.2V396.81H283.91V438.2Z"/><path d="M283.91 438.2V397.33H288.72V438.2Z"/><path d="M288.72 438.2V397.33H293.36V438.2Z"/><path d="M293.36 438.2V400.25H297.66V438.2Z"/><path d="M297.66 438.2V400.25H301.95V438.2Z"/><path d="M301.95 438.2V405.92H305.91V438.2Z"/><path d="M305.91 438.2V407.12H310.55V438.2Z"/><path d="M310.55 438.2V410.22H314.84V438.2Z"/><path d="M314.84 438.2V410.22H318.62V438.2Z"/><path d="M318.62 438.2V412.28H323.09V438.2Z"/><path d="M323.09 438.2V412.28H327.22V438.2Z"/><path d="M327.22 438.2V411.59H332.03V438.2Z"/><path d="M332.03 438.2V411.59H336.33V438.2Z"/><path d="M336.33 438.2V408.5H340.62V438.2Z"/><path d="M340.62 438.2V411.59H344.92V438.2Z"/><path d="M344.92 438.2V411.59H349.22V438.2Z"/><path d="M349.22 438.2V410.56H353.52V438.2Z"/><path d="M353.52 438.2V410.56H357.47V438.2Z"/><path d="M357.47 438.2V408.16H362.11V438.2Z"/><path d="M362.11 438.2V406.78H366.06V438.2Z"/><path d="M366.06 438.2V409.36H370.7V438.2Z"/><path d="M370.7 438.2V409.7H375V438.2Z"/><path d="M375 438.2V409.7H379.3V438.2Z"/><path d="M379.3 438.2V409.36H388.42V438.2Z"/><path d="M388.42 438.2V409.36H392.72V438.2Z"/><path d="M392.72 438.2V405.41H397.02V438.2Z"/><path d="M397.02 438.2V400.25H401.31V438.2Z"/><path d="M401.31 438.2V400.77H404.75V438.2Z"/><path d="M404.75 438.2V400.77H409.05V438.2Z"/><path d="M409.05 438.2V396.47H414.2V438.2Z"/><path d="M414.2 438.2V396.47H418.5V438.2Z"/><path d="M418.5 438.2V393.38H422.8V438.2Z"/><path d="M422.8 438.2V392.17H427.09V438.2Z"/><path d="M427.09 438.2V390.97H431.39V438.2Z"/><path d="M431.39 438.2V388.22H435.69V438.2Z"/><path d="M435.69 438.2V388.22H439.98V438.2Z"/><path d="M439.98 438.2V392.17H444.28V438.2Z"/><path d="M444.28 438.2V396.81H448.58V438.2Z"/><path d="M448.58 438.2V398.53H452.88V438.2Z"/><path d="M452.88 438.2V400.77H457.17V438.2Z"/><path d="M457.17 438.2V401.11H461.47V438.2Z"/><path d="M461.47 438.2V403.34H465.77V438.2Z"/><path d="M465.77 438.2V405.92H470.06V438.2Z"/><path d="M470.06 438.2V405.92H474.36V438.2Z"/><path d="M474.36 438.2V407.98H478.66V438.2Z"/><path d="M478.66 438.2V407.98H482.95V438.2Z"/><path d="M482.95 438.2V407.98H487.25V438.2Z"/><path d="M487.25 438.2V405.06H491.03V438.2Z"/><path d="M491.03 438.2V405.92H495.84V438.2Z"/><path d="M495.84 438.2V407.64H500.14V438.2Z"/><path d="M500.14 438.2V409.88H504.44V438.2Z"/><path d="M504.44 438.2V409.88H508.39V438.2Z"/><path d="M44.12 428.78L44.12 428.78L46.88 423.62L46.88 428.78Z"/><path d="M46.88 423.62L46.88 423.62L50.66 422.25L50.66 423.62Z"/><path d="M50.66 426.03L50.66 422.25L56.33 426.03L56.33 426.03Z"/><path d="M56.33 426.03L56.33 426.03L60.62 417.09L60.62 426.03Z"/><path d="M60.62 417.09L60.62 417.09L64.92 397.84L64.92 417.09Z"/><path d="M64.92 404.2L64.92 397.84L69.22 404.2L69.22 404.2Z"/><path d="M69.22 409.88L69.22 404.2L73 409.88L73 409.88Z"/><path d="M73 409.88L73 409.88L78.16 390.45L78.16 409.88Z"/><path d="M78.16 399.05L78.16 390.45L82.62 399.05L82.62 399.05Z"/><path d="M82.62 405.41L82.62 399.05L86.75 405.41L86.75 405.41Z"/><path d="M86.75 405.41L86.75 405.41L90.7 392.17L90.7 405.41Z"/><path d="M90.7 392.17L90.7 392.17L94.66 373.27L94.66 392.17Z"/><path d="M94.66 378.42L94.66 373.27L99.3 378.42L99.3 378.42Z"/><path d="M99.3 378.42L99.3 378.42L103.59 374.98L103.59 378.42Z"/><path d="M103.59 374.98L103.59 374.98L107.89 367.25L107.89 374.98Z"/><path d="M107.89 367.25L107.89 367.25L112.19 339.41L112.19 367.25Z"/><path d="M112.19 353.5L112.19 339.41L116.48 353.5L116.48 353.5Z"/><path d="M116.48 366.91L116.48 353.5L121.12 366.91L121.12 366.91Z"/><path d="M121.12 366.91L121.12 366.91L125.59 365.19L125.59 366.91Z"/><path d="M125.59 365.19L125.59 365.19L129.38 336.31L129.38 365.19Z"/><path d="M129.38 350.92L129.38 336.31L133.67 350.92L133.67 350.92Z"/><path d="M133.67 366.39L133.67 350.92L138.31 366.39L138.31 366.39Z"/><path d="M138.31 366.39L138.31 366.39L143.12 360.38L143.12 366.39Z"/><path d="M143.12 360.38L143.12 360.38L147.42 353.5L147.42 360.38Z"/><path d="M150.86 366.39L150.86 353.5L154.81 366.39L154.81 366.39Z"/><path d="M154.81 366.39L154.81 366.39L160.31 348.69L160.31 366.39Z"/><path d="M160.31 364.67L160.31 348.69L164.61 364.67L164.61 364.67Z"/><path d="M164.61 385.3L164.61 364.67L168.56 385.3L168.56 385.3Z"/><path d="M168.56 385.3L168.56 385.3L172.34 379.28L172.34 385.3Z"/><path d="M172.34 379.28L172.34 379.28L176.64 377.22L176.64 379.28Z"/><path d="M176.64 380.14L176.64 377.22L181.28 380.14L181.28 380.14Z"/><path d="M181.28 387.88L181.28 380.14L185.75 387.88L185.75 387.88Z"/><path d="M185.75 387.88L185.75 387.88L190.05 380.66L190.05 387.88Z"/><path d="M190.05 386.16L190.05 380.66L194.34 386.16L194.34 386.16Z"/><path d="M194.34 386.5L194.34 386.16L198.47 386.5L198.47 386.5Z"/><path d="M198.47 392.17L198.47 386.5L202.94 392.17L202.94 392.17Z"/><path d="M202.94 392.17L202.94 392.17L207.58 387.02L207.58 392.17Z"/><path d="M207.58 388.73L207.58 387.02L211.88 388.73L211.88 388.73Z"/><path d="M211.88 399.05L211.88 388.73L216.02 399.05L216.02 399.05Z"/><path d="M216.02 399.05L216.02 399.05L219.97 387.53L219.97 399.05Z"/><path d="M219.97 388.73L219.97 387.53L224.61 388.73L224.61 388.73Z"/><path d="M224.61 389.59L224.61 388.73L228.91 389.59L228.91 389.59Z"/><path d="M228.91 389.59L228.91 389.59L233.2 384.44L233.2 389.59Z"/><path d="M233.2 384.44L233.2 384.44L237.16 380.66L237.16 384.44Z"/><path d="M237.16 386.16L237.16 380.66L241.8 386.16L241.8 386.16Z"/><path d="M241.8 391.66L241.8 386.16L246.09 391.66L246.09 391.66Z"/><path d="M246.09 391.66L246.09 391.66L250.39 385.3L250.39 391.66Z"/><path d="M250.39 387.02L250.39 385.3L254.69 387.02L254.69 387.02Z"/><path d="M254.69 390.45L254.69 387.02L258.98 390.45L258.98 390.45Z"/><path d="M258.98 391.66L258.98 390.45L262.42 391.66L262.42 391.66Z"/><path d="M262.42 394.75L262.42 391.66L266.72 394.75L266.72 394.75Z"/><path d="M266.72 397.84L266.72 394.75L271.02 397.84L271.02 397.84Z"/><path d="M271.02 397.84L271.02 397.84L275.31 393.89L275.31 397.84Z"/><path d="M275.31 396.81L275.31 393.89L279.61 396.81L279.61 396.81Z"/><path d="M279.61 396.81L279.61 396.81L283.91 394.75L283.91 396.81Z"/><path d="M283.91 397.33L283.91 394.75L288.72 397.33L288.72 397.33Z"/><path d="M288.72 397.33L288.72 397.33L293.36 395.09L293.36 397.33Z"/><path d="M293.36 400.25L293.36 395.09L297.66 400.25L297.66 400.25Z"/><path d="M301.95 405.92L301.95 400.25L305.91 405.92L305.91 405.92Z"/><path d="M305.91 407.12L305.91 405.92L310.55 407.12L310.55 407.12Z"/><path d="M310.55 410.22L310.55 407.12L314.84 410.22L314.84 410.22Z"/><path d="M314.84 410.22L314.84 410.22L318.62 405.41L318.62 410.22Z"/><path d="M318.62 412.28L318.62 405.41L323.09 412.28L323.09 412.28Z"/><path d="M323.09 412.28L323.09 412.28L327.22 410.22L327.22 412.28Z"/><path d="M327.22 411.59L327.22 410.22L332.03 411.59L332.03 411.59Z"/><path d="M332.03 411.59L332.03 411.59L336.33 408.5L336.33 411.59Z"/><path d="M336.33 408.5L336.33 408.5L340.62 408.16L340.62 408.5Z"/><path d="M340.62 411.59L340.62 408.16L344.92 411.59L344.92 411.59Z"/><path d="M344.92 411.59L344.92 411.59L349.22 408.16L349.22 411.59Z"/><path d="M349.22 410.56L349.22 408.16L353.52 410.56L353.52 410.56Z"/><path d="M353.52 410.56L353.52 410.56L357.47 408.16L357.47 410.56Z"/><path d="M357.47 408.16L357.47 408.16L362.11 406.78L362.11 408.16Z"/><path d="M362.11 406.78L362.11 406.78L366.06 405.41L366.06 406.78Z"/><path d="M366.06 409.36L366.06 405.41L370.7 409.36L370.7 409.36Z"/><path d="M370.7 409.7L370.7 409.36L375 409.7L375 409.7Z"/><path d="M375 409.7L375 409.7L379.3 407.12L379.3 409.7Z"/><path d="M379.3 409.36L379.3 407.12L388.42 409.36L388.42 409.36Z"/><path d="M388.42 409.36L388.42 409.36L392.72 405.41L392.72 409.36Z"/><path d="M392.72 405.41L392.72 405.41L397.02 399.91L397.02 405.41Z"/><path d="M397.02 400.25L397.02 399.91L401.31 400.25L401.31 400.25Z"/><path d="M401.31 400.77L401.31 400.25L404.75 400.77L404.75 400.77Z"/><path d="M404.75 400.77L404.75 400.77L409.05 395.61L409.05 400.77Z"/><path d="M409.05 396.47L409.05 395.61L414.2 396.47L414.2 396.47Z"/><path d="M414.2 396.47L414.2 396.47L418.5 393.38L418.5 396.47Z"/><path d="M418.5 393.38L418.5 393.38L422.8 392.17L422.8 393.38Z"/><path d="M422.8 392.17L422.8 392.17L427.09 390.97L427.09 392.17Z"/><path d="M427.09 390.97L427.09 390.97L431.39 388.22L431.39 390.97Z"/><path d="M435.69 388.22L435.69 388.22L439.98 386.5L439.98 388.22Z"/><path d="M439.98 392.17L439.98 386.5L444.28 392.17L444.28 392.17Z"/><path d="M444.28 396.81L444.28 392.17L448.58 396.81L448.58 396.81Z"/><path d="M448.58 398.53L448.58 396.81L452.88 398.53L452.88 398.53Z"/><path d="M452.88 400.77L452.88 398.53L457.17 400.77L457.17 400.77Z"/><path d="M457.17 401.11L457.17 400.77L461.47 401.11L461.47 401.11Z"/><path d="M461.47 403.34L461.47 401.11L465.77 403.34L465.77 403.34Z"/><path d="M465.77 405.92L465.77 403.34L470.06 405.92L470.06 405.92Z"/><path d="M474.36 407.98L474.36 405.92L478.66 407.98L478.66 407.98Z"/><path d="M482.95 407.98L482.95 407.98L487.25 405.06L487.25 407.98Z"/><path d="M487.25 405.06L487.25 405.06L491.03 403L491.03 405.06Z"/><path d="M491.03 405.92L491.03 403L495.84 405.92L495.84 405.92Z"/><path d="M495.84 407.64L495.84 405.92L500.14 407.64L500.14 407.64Z"/><path d="M500.14 409.88L500.14 407.64L504.44 409.88L504.44 409.88Z"/></g>
<polygon points="44.12,438.2 44.12,428.78 46.88,423.62 50.66,422.25 56.33,426.03 60.62,417.09 64.92,397.84 69.22,404.2 73,409.88 78.16,390.45 82.62,399.05 86.75,405.41 90.7,392.17 94.66,373.27 99.3,378.42 103.59,374.98 107.89,367.25 112.19,339.41 116.48,353.5 121.12,366.91 125.59,365.19 129.38,336.31 133.67,350.92 138.31,366.39 143.12,360.38 147.42,353.5 150.86,353.5 154.81,366.39 160.31,348.69 164.61,364.67 168.56,385.3 172.34,379.28 176.64,377.22 181.28,380.14 185.75,387.88 190.05,380.66 194.34,386.16 198.47,386.5 202.94,392.17 207.58,387.02 211.88,388.73 216.02,399.05 219.97,387.53 224.61,388.73 228.91,389.59 233.2,384.44 237.16,380.66 241.8,386.16 246.09,391.66 250.39,385.3 254.69,387.02 258.98,390.45 262.42,391.66 266.72,394.75 271.02,397.84 275.31,393.89 279.61,396.81 283.91,394.75 288.72,397.33 293.36,395.09 297.66,400.25 301.95,400.25 305.91,405.92 310.55,407.12 314.84,410.22 318.62,405.41 323.09,412.28 327.22,410.22 332.03,411.59 336.33,408.5 340.62,408.16 344.92,411.59 349.22,408.16 353.52,410.56 357.47,408.16 362.11,406.78 366.06,405.41 370.7,409.36 375,409.7 379.3,407.12 388.42,409.36 392.72,405.41 397.02,399.91 401.31,400.25 404.75,400.77 409.05,395.61 414.2,396.47 418.5,393.38 422.8,392.17 427.09,390.97 431.39,388.22 435.69,388.22 439.98,386.5 444.28,392.17 448.58,396.81 452.88,398.53 457.17,400.77 461.47,401.11 465.77,403.34 470.06,405.92 474.36,405.92 478.66,407.98 482.95,407.98 487.25,405.06 491.03,403 495.84,405.92 500.14,407.64 504.44,409.88 508.39,409.88 508.39,438.2" fill="none" stroke="#e0585d" stroke-width="1.1" stroke-linejoin="round"/>
<text transform="translate(263.94,369.8) scale(0.86,1)" x="0" y="0" font-size="34.01" font-weight="bold" fill="#e0585d" letter-spacing="1.57" style="font-kerning:none">ROMANCE</text>
<line x1="43.2" y1="447" x2="43.2" y2="553.8" stroke="#e6ecec" stroke-width="0.8"/>
<line x1="43.2" y1="553.8" x2="510" y2="553.8" stroke="#e6ecec" stroke-width="0.8"/>
<line x1="43.2" y1="523.5" x2="510" y2="523.5" stroke="#ebe8e8" stroke-width="0.8"/>
<line x1="43.2" y1="491.5" x2="510" y2="491.5" stroke="#ebe8e8" stroke-width="0.8"/>
<line x1="43.2" y1="461.5" x2="510" y2="461.5" stroke="#ebe8e8" stroke-width="0.8"/>
<text x="16.91" y="466.3" font-size="10" fill="#a8a8a8" textLength="18.41" lengthAdjust="spacingAndGlyphs">15%</text>
<text x="16.91" y="496.6" font-size="10" fill="#a8a8a8" textLength="18.41" lengthAdjust="spacingAndGlyphs">10%</text>
<text x="22.03" y="528.6" font-size="10" fill="#a8a8a8" textLength="13.3" lengthAdjust="spacingAndGlyphs">5%</text>
<text x="22.03" y="552.3" font-size="10" fill="#a8a8a8" textLength="13.3" lengthAdjust="spacingAndGlyphs">0%</text>
<g fill="#d4b04b"><path d="M44.12 553.8V547.19H56.33V553.8Z"/><path d="M56.33 553.8V549.94H70.08V553.8Z"/><path d="M70.08 553.8V552.52H86.06V553.8Z"/><path d="M86.06 553.8V552.52H115.62V553.8Z"/><path d="M115.62 553.8V552.52H121.12V553.8Z"/><path d="M121.12 553.8V548.22H125.08V553.8Z"/><path d="M125.08 553.8V488.41H129.38V553.8Z"/><path d="M129.38 553.8V507.31H133.67V553.8Z"/><path d="M133.67 553.8V516.77H137.62V553.8Z"/><path d="M137.62 553.8V516.77H142.27V553.8Z"/><path d="M142.27 553.8V502.16H146.91V553.8Z"/><path d="M146.91 553.8V497H151.38V553.8Z"/><path d="M151.38 553.8V500.78H155.5V553.8Z"/><path d="M155.5 553.8V500.78H159.97V553.8Z"/><path d="M159.97 553.8V505.59H164.09V553.8Z"/><path d="M164.09 553.8V512.81H168.56V553.8Z"/><path d="M168.56 553.8V514.19H172.69V553.8Z"/><path d="M172.69 553.8V514.19H176.64V553.8Z"/><path d="M176.64 553.8V520.2H181.28V553.8Z"/><path d="M181.28 553.8V520.2H185.75V553.8Z"/><path d="M185.75 553.8V503.88H189.88V553.8Z"/><path d="M189.88 553.8V504.22H194.34V553.8Z"/><path d="M194.34 553.8V509.38H198.47V553.8Z"/><path d="M198.47 553.8V512.47H202.94V553.8Z"/><path d="M202.94 553.8V515.05H207.06V553.8Z"/><path d="M207.06 553.8V515.05H211.53V553.8Z"/><path d="M211.53 553.8V513.84H216.02V553.8Z"/><path d="M216.02 553.8V513.84H219.97V553.8Z"/><path d="M219.97 553.8V511.61H224.61V553.8Z"/><path d="M224.61 553.8V511.61H228.91V553.8Z"/><path d="M228.91 553.8V512.47H233.2V553.8Z"/><path d="M233.2 553.8V517.11H237.16V553.8Z"/><path d="M237.16 553.8V517.11H241.28V553.8Z"/><path d="M241.28 553.8V514.19H245.75V553.8Z"/><path d="M245.75 553.8V521.41H250.39V553.8Z"/><path d="M250.39 553.8V521.41H254.69V553.8Z"/><path d="M254.69 553.8V520.2H258.98V553.8Z"/><path d="M258.98 553.8V526.22H263.28V553.8Z"/><path d="M263.28 553.8V526.22H267.58V553.8Z"/><path d="M267.58 553.8V524.5H271.88V553.8Z"/><path d="M271.88 553.8V519.34H276.69V553.8Z"/><path d="M276.69 553.8V517.62H280.81V553.8Z"/><path d="M280.81 553.8V520.2H284.77V553.8Z"/><path d="M284.77 553.8V520.2H289.06V553.8Z"/><path d="M289.06 553.8V531.38H293.7V553.8Z"/><path d="M293.7 553.8V531.38H298V553.8Z"/><path d="M298 553.8V531.03H301.95V553.8Z"/><path d="M301.95 553.8V536.19H306.25V553.8Z"/><path d="M306.25 553.8V536.19H310.55V553.8Z"/><path d="M310.55 553.8V539.11H314.84V553.8Z"/><path d="M314.84 553.8V539.11H319.14V553.8Z"/><path d="M319.14 553.8V538.25H323.44V553.8Z"/><path d="M323.44 553.8V540.83H327.73V553.8Z"/><path d="M327.73 553.8V542.89H332.03V553.8Z"/><path d="M332.03 553.8V542.89H336.33V553.8Z"/><path d="M336.33 553.8V543.06H340.62V553.8Z"/><path d="M340.62 553.8V543.06H344.92V553.8Z"/><path d="M344.92 553.8V538.25H348.88V553.8Z"/><path d="M348.88 553.8V540.83H353.52V553.8Z"/><path d="M353.52 553.8V541.17H357.81V553.8Z"/><path d="M357.81 553.8V542.89H362.11V553.8Z"/><path d="M362.11 553.8V543.06H366.41V553.8Z"/><path d="M366.41 553.8V543.92H370.7V553.8Z"/><path d="M370.7 553.8V543.92H375V553.8Z"/><path d="M375 553.8V542.03H379.3V553.8Z"/><path d="M379.3 553.8V545.12H388.42V553.8Z"/><path d="M388.42 553.8V545.98H392.72V553.8Z"/><path d="M392.72 553.8V547.19H397.02V553.8Z"/><path d="M397.02 553.8V547.19H401.31V553.8Z"/><path d="M401.31 553.8V547.19H405.61V553.8Z"/><path d="M405.61 553.8V547.19H409.91V553.8Z"/><path d="M409.91 553.8V546.84H414.2V553.8Z"/><path d="M414.2 553.8V546.5H418.5V553.8Z"/><path d="M418.5 553.8V548.91H422.8V553.8Z"/><path d="M422.8 553.8V548.91H427.09V553.8Z"/><path d="M427.09 553.8V546.5H431.39V553.8Z"/><path d="M431.39 553.8V544.78H435.69V553.8Z"/><path d="M435.69 553.8V544.78H439.98V553.8Z"/><path d="M439.98 553.8V545.47H444.28V553.8Z"/><path d="M444.28 553.8V547.19H448.58V553.8Z"/><path d="M448.58 553.8V547.19H452.88V553.8Z"/><path d="M452.88 553.8V545.98H457.17V553.8Z"/><path d="M457.17 553.8V547.7H461.47V553.8Z"/><path d="M461.47 553.8V547.7H465.77V553.8Z"/><path d="M465.77 553.8V548.05H470.06V553.8Z"/><path d="M470.06 553.8V548.05H474.36V553.8Z"/><path d="M474.36 553.8V547.36H478.66V553.8Z"/><path d="M478.66 553.8V548.22H482.95V553.8Z"/><path d="M482.95 553.8V548.22H487.25V553.8Z"/><path d="M487.25 553.8V548.56H491.55V553.8Z"/><path d="M491.55 553.8V548.91H495.84V553.8Z"/><path d="M495.84 553.8V548.91H500.14V553.8Z"/><path d="M500.14 553.8V548.91H504.44V553.8Z"/><path d="M504.44 553.8V549.42H508.39V553.8Z"/><path d="M44.12 547.19L44.12 541.34L56.33 547.19L56.33 547.19Z"/><path d="M56.33 549.94L56.33 547.19L70.08 549.94L70.08 549.94Z"/><path d="M70.08 552.52L70.08 549.94L86.06 552.52L86.06 552.52Z"/><path d="M115.62 552.52L115.62 552.52L121.12 548.22L121.12 552.52Z"/><path d="M121.12 548.22L121.12 548.22L125.08 488.41L125.08 548.22Z"/><path d="M125.08 488.41L125.08 488.41L129.38 452.31L129.38 488.41Z"/><path d="M129.38 507.31L129.38 452.31L133.67 507.31L133.67 507.31Z"/><path d="M133.67 516.77L133.67 507.31L137.62 516.77L137.62 516.77Z"/><path d="M137.62 516.77L137.62 516.77L142.27 502.16L142.27 516.77Z"/><path d="M142.27 502.16L142.27 502.16L146.91 487.55L146.91 502.16Z"/><path d="M146.91 497L146.91 487.55L151.38 497L151.38 497Z"/><path d="M151.38 500.78L151.38 497L155.5 500.78L155.5 500.78Z"/><path d="M155.5 500.78L155.5 500.78L159.97 493.22L159.97 500.78Z"/><path d="M159.97 505.59L159.97 493.22L164.09 505.59L164.09 505.59Z"/><path d="M164.09 512.81L164.09 505.59L168.56 512.81L168.56 512.81Z"/><path d="M168.56 514.19L168.56 512.81L172.69 514.19L172.69 514.19Z"/><path d="M172.69 514.19L172.69 514.19L176.64 503.53L176.64 514.19Z"/><path d="M176.64 520.2L176.64 503.53L181.28 520.2L181.28 520.2Z"/><path d="M181.28 520.2L181.28 520.2L185.75 503.88L185.75 520.2Z"/><path d="M185.75 503.88L185.75 503.88L189.88 491.5L189.88 503.88Z"/><path d="M189.88 504.22L189.88 491.5L194.34 504.22L194.34 504.22Z"/><path d="M194.34 509.38L194.34 504.22L198.47 509.38L198.47 509.38Z"/><path d="M198.47 512.47L198.47 509.38L202.94 512.47L202.94 512.47Z"/><path d="M202.94 515.05L202.94 512.47L207.06 515.05L207.06 515.05Z"/><path d="M207.06 515.05L207.06 515.05L211.53 510.41L211.53 515.05Z"/><path d="M211.53 513.84L211.53 510.41L216.02 513.84L216.02 513.84Z"/><path d="M216.02 513.84L216.02 513.84L219.97 504.73L219.97 513.84Z"/><path d="M219.97 511.61L219.97 504.73L224.61 511.61L224.61 511.61Z"/><path d="M224.61 511.61L224.61 511.61L228.91 505.59L228.91 511.61Z"/><path d="M228.91 512.47L228.91 505.59L233.2 512.47L233.2 512.47Z"/><path d="M233.2 517.11L233.2 512.47L237.16 517.11L237.16 517.11Z"/><path d="M237.16 517.11L237.16 517.11L241.28 507.31L241.28 517.11Z"/><path d="M241.28 514.19L241.28 507.31L245.75 514.19L245.75 514.19Z"/><path d="M245.75 521.41L245.75 514.19L250.39 521.41L250.39 521.41Z"/><path d="M250.39 521.41L250.39 521.41L254.69 519.69L254.69 521.41Z"/><path d="M254.69 520.2L254.69 519.69L258.98 520.2L258.98 520.2Z"/><path d="M258.98 526.22L258.98 520.2L263.28 526.22L263.28 526.22Z"/><path d="M263.28 526.22L263.28 526.22L267.58 524.5L267.58 526.22Z"/><path d="M267.58 524.5L267.58 524.5L271.88 519.34L271.88 524.5Z"/><path d="M271.88 519.34L271.88 519.34L276.69 516.25L276.69 519.34Z"/><path d="M276.69 517.62L276.69 516.25L280.81 517.62L280.81 517.62Z"/><path d="M280.81 520.2L280.81 517.62L284.77 520.2L284.77 520.2Z"/><path d="M284.77 520.2L284.77 520.2L289.06 519.69L289.06 520.2Z"/><path d="M289.06 531.38L289.06 519.69L293.7 531.38L293.7 531.38Z"/><path d="M293.7 531.38L293.7 531.38L298 531.03L298 531.38Z"/><path d="M301.95 536.19L301.95 531.03L306.25 536.19L306.25 536.19Z"/><path d="M306.25 536.19L306.25 536.19L310.55 535.16L310.55 536.19Z"/><path d="M310.55 539.11L310.55 535.16L314.84 539.11L314.84 539.11Z"/><path d="M314.84 539.11L314.84 539.11L319.14 537.39L319.14 539.11Z"/><path d="M319.14 538.25L319.14 537.39L323.44 538.25L323.44 538.25Z"/><path d="M323.44 540.83L323.44 538.25L327.73 540.83L327.73 540.83Z"/><path d="M327.73 542.89L327.73 540.83L332.03 542.89L332.03 542.89Z"/><path d="M332.03 542.89L332.03 542.89L336.33 542.55L336.33 542.89Z"/><path d="M336.33 543.06L336.33 542.55L340.62 543.06L340.62 543.06Z"/><path d="M340.62 543.06L340.62 543.06L344.92 538.25L344.92 543.06Z"/><path d="M344.92 538.25L344.92 538.25L348.88 537.39L348.88 538.25Z"/><path d="M348.88 540.83L348.88 537.39L353.52 540.83L353.52 540.83Z"/><path d="M353.52 541.17L353.52 540.83L357.81 541.17L357.81 541.17Z"/><path d="M357.81 542.89L357.81 541.17L362.11 542.89L362.11 542.89Z"/><path d="M362.11 543.06L362.11 542.89L366.41 543.06L366.41 543.06Z"/><path d="M366.41 543.92L366.41 543.06L370.7 543.92L370.7 543.92Z"/><path d="M370.7 543.92L370.7 543.92L375 542.03L375 543.92Z"/><path d="M375 542.03L375 542.03L379.3 541.34L379.3 542.03Z"/><path d="M379.3 545.12L379.3 541.34L388.42 545.12L388.42 545.12Z"/><path d="M388.42 545.98L388.42 545.12L392.72 545.98L392.72 545.98Z"/><path d="M392.72 547.19L392.72 545.98L397.02 547.19L397.02 547.19Z"/><path d="M397.02 547.19L397.02 547.19L401.31 546.5L401.31 547.19Z"/><path d="M401.31 547.19L401.31 546.5L405.61 547.19L405.61 547.19Z"/><path d="M405.61 547.19L405.61 547.19L409.91 546.84L409.91 547.19Z"/><path d="M409.91 546.84L409.91 546.84L414.2 545.98L414.2 546.84Z"/><path d="M414.2 546.5L414.2 545.98L418.5 546.5L418.5 546.5Z"/><path d="M418.5 548.91L418.5 546.5L422.8 548.91L422.8 548.91Z"/><path d="M422.8 548.91L422.8 548.91L427.09 546.5L427.09 548.91Z"/><path d="M427.09 546.5L427.09 546.5L431.39 544.78L431.39 546.5Z"/><path d="M435.69 544.78L435.69 544.78L439.98 544.27L439.98 544.78Z"/><path d="M439.98 545.47L439.98 544.27L444.28 545.47L444.28 545.47Z"/><path d="M444.28 547.19L444.28 545.47L448.58 547.19L448.58 547.19Z"/><path d="M448.58 547.19L448.58 547.19L452.88 545.98L452.88 547.19Z"/><path d="M452.88 545.98L452.88 545.98L457.17 545.47L457.17 545.98Z"/><path d="M457.17 547.7L457.17 545.47L461.47 547.7L461.47 547.7Z"/><path d="M461.47 547.7L461.47 547.7L465.77 547.36L465.77 547.7Z"/><path d="M465.77 548.05L465.77 547.36L470.06 548.05L470.06 548.05Z"/><path d="M470.06 548.05L470.06 548.05L474.36 547.19L474.36 548.05Z"/><path d="M474.36 547.36L474.36 547.19L478.66 547.36L478.66 547.36Z"/><path d="M478.66 548.22L478.66 547.36L482.95 548.22L482.95 548.22Z"/><path d="M487.25 548.56L487.25 548.22L491.55 548.56L491.55 548.56Z"/><path d="M491.55 548.91L491.55 548.56L495.84 548.91L495.84 548.91Z"/><path d="M495.84 548.91L495.84 548.91L500.14 548.22L500.14 548.91Z"/><path d="M500.14 548.91L500.14 548.22L504.44 548.91L504.44 548.91Z"/><path d="M504.44 549.42L504.44 548.91L508.39 549.42L508.39 549.42Z"/></g>
<polygon points="44.12,553.8 44.12,541.34 56.33,547.19 70.08,549.94 86.06,552.52 115.62,552.52 121.12,548.22 125.08,488.41 129.38,452.31 133.67,507.31 137.62,516.77 142.27,502.16 146.91,487.55 151.38,497 155.5,500.78 159.97,493.22 164.09,505.59 168.56,512.81 172.69,514.19 176.64,503.53 181.28,520.2 185.75,503.88 189.88,491.5 194.34,504.22 198.47,509.38 202.94,512.47 207.06,515.05 211.53,510.41 216.02,513.84 219.97,504.73 224.61,511.61 228.91,505.59 233.2,512.47 237.16,517.11 241.28,507.31 245.75,514.19 250.39,521.41 254.69,519.69 258.98,520.2 263.28,526.22 267.58,524.5 271.88,519.34 276.69,516.25 280.81,517.62 284.77,520.2 289.06,519.69 293.7,531.38 298,531.03 301.95,531.03 306.25,536.19 310.55,535.16 314.84,539.11 319.14,537.39 323.44,538.25 327.73,540.83 332.03,542.89 336.33,542.55 340.62,543.06 344.92,538.25 348.88,537.39 353.52,540.83 357.81,541.17 362.11,542.89 366.41,543.06 370.7,543.92 375,542.03 379.3,541.34 388.42,545.12 392.72,545.98 397.02,547.19 401.31,546.5 405.61,547.19 409.91,546.84 414.2,545.98 418.5,546.5 422.8,548.91 427.09,546.5 431.39,544.78 435.69,544.78 439.98,544.27 444.28,545.47 448.58,547.19 452.88,545.98 457.17,545.47 461.47,547.7 465.77,547.36 470.06,548.05 474.36,547.19 478.66,547.36 482.95,548.22 487.25,548.22 491.55,548.56 495.84,548.91 500.14,548.22 504.44,548.91 508.39,549.42 508.39,553.8" fill="none" stroke="#5b83a6" stroke-width="1.1" stroke-linejoin="round"/>
<text transform="translate(290.04,504.3) scale(0.86,1)" x="0" y="0" font-size="34.01" font-weight="bold" fill="#d4b04b" letter-spacing="1.12" style="font-kerning:none">MUSICALS</text>
<line x1="43.2" y1="563" x2="43.2" y2="669.4" stroke="#e6ecec" stroke-width="0.8"/>
<line x1="43.2" y1="669.4" x2="510" y2="669.4" stroke="#e6ecec" stroke-width="0.8"/>
<line x1="43.2" y1="623.5" x2="510" y2="623.5" stroke="#ebe8e8" stroke-width="0.8"/>
<line x1="43.2" y1="577.5" x2="510" y2="577.5" stroke="#ebe8e8" stroke-width="0.8"/>
<text x="16.91" y="582.6" font-size="10" fill="#a8a8a8" textLength="18.41" lengthAdjust="spacingAndGlyphs">10%</text>
<text x="22.03" y="628.6" font-size="10" fill="#a8a8a8" textLength="13.3" lengthAdjust="spacingAndGlyphs">5%</text>
<text x="22.03" y="667.6" font-size="10" fill="#a8a8a8" textLength="13.3" lengthAdjust="spacingAndGlyphs">0%</text>
<g fill="#1e1e1e"><path d="M51.52 669.4V658.55H56.33V669.4Z"/><path d="M56.33 669.4V658.55H60.62V669.4Z"/><path d="M60.62 669.4V637.92H64.92V669.4Z"/><path d="M64.92 669.4V635.69H68.88V669.4Z"/><path d="M68.88 669.4V637.41H73V669.4Z"/><path d="M73 669.4V657.34H78.16V669.4Z"/><path d="M78.16 669.4V657.34H82.11V669.4Z"/><path d="M82.11 669.4V642.22H86.41V669.4Z"/><path d="M86.41 669.4V646H90.7V669.4Z"/><path d="M90.7 669.4V648.23H95V669.4Z"/><path d="M95 669.4V651.67H99.3V669.4Z"/><path d="M99.3 669.4V658.55H103.94V669.4Z"/><path d="M103.94 669.4V659.41H107.89V669.4Z"/><path d="M107.89 669.4V659.41H112.19V669.4Z"/><path d="M112.19 669.4V651.67H115.97V669.4Z"/><path d="M115.97 669.4V660.78H120.78V669.4Z"/><path d="M120.78 669.4V660.78H125.08V669.4Z"/><path d="M125.08 669.4V666.62H129.38V669.4Z"/><path d="M129.38 669.4V666.62H133.67V669.4Z"/><path d="M133.67 669.4V652.19H137.97V669.4Z"/><path d="M137.97 669.4V649.09H142.27V669.4Z"/><path d="M142.27 669.4V653.91H146.56V669.4Z"/><path d="M146.56 669.4V653.91H150.86V669.4Z"/><path d="M150.86 669.4V655.97H155.16V669.4Z"/><path d="M155.16 669.4V665.94H160.31V669.4Z"/><path d="M160.31 669.4V667.14H164.09V669.4Z"/><path d="M164.09 669.4V667.14H168.56V669.4Z"/><path d="M168.56 669.4V657.34H173.2V669.4Z"/><path d="M173.2 669.4V657.34H177.5V669.4Z"/><path d="M177.5 669.4V655.11H181.8V669.4Z"/><path d="M181.8 669.4V653.39H186.09V669.4Z"/><path d="M186.09 669.4V651.16H190.05V669.4Z"/><path d="M190.05 669.4V646.52H194.34V669.4Z"/><path d="M194.34 669.4V649.95H198.12V669.4Z"/><path d="M198.12 669.4V661.98H202.94V669.4Z"/><path d="M202.94 669.4V661.98H207.58V669.4Z"/><path d="M207.58 669.4V661.98H211.88V669.4Z"/><path d="M211.88 669.4V665.42H216.02V669.4Z"/><path d="M216.02 669.4V665.42H219.97V669.4Z"/><path d="M219.97 669.4V664.56H224.61V669.4Z"/><path d="M224.61 669.4V664.56H228.91V669.4Z"/><path d="M228.91 669.4V656.31H233.2V669.4Z"/><path d="M233.2 669.4V656.31H237.5V669.4Z"/><path d="M237.5 669.4V655.11H241.8V669.4Z"/><path d="M241.8 669.4V650.81H246.09V669.4Z"/><path d="M246.09 669.4V631.05H250.39V669.4Z"/><path d="M250.39 669.4V633.62H254.34V669.4Z"/><path d="M254.34 669.4V633.62H258.98V669.4Z"/><path d="M258.98 669.4V642.56H262.94V669.4Z"/><path d="M262.94 669.4V642.56H267.58V669.4Z"/><path d="M267.58 669.4V637.41H271.88V669.4Z"/><path d="M271.88 669.4V636.2H276.17V669.4Z"/><path d="M276.17 669.4V636.2H280.12V669.4Z"/><path d="M280.12 669.4V637.06H284.25V669.4Z"/><path d="M284.25 669.4V638.78H289.06V669.4Z"/><path d="M289.06 669.4V638.78H293.7V669.4Z"/><path d="M293.7 669.4V640.84H297.66V669.4Z"/><path d="M297.66 669.4V640.84H302.3V669.4Z"/><path d="M302.3 669.4V624.17H306.59V669.4Z"/><path d="M306.59 669.4V612.66H311.06V669.4Z"/><path d="M311.06 669.4V609.22H314.84V669.4Z"/><path d="M314.84 669.4V609.22H318.62V669.4Z"/><path d="M318.62 669.4V618.16H323.09V669.4Z"/><path d="M323.09 669.4V624.17H327.73V669.4Z"/><path d="M327.73 669.4V626.23H332.03V669.4Z"/><path d="M332.03 669.4V627.61H336.84V669.4Z"/><path d="M336.84 669.4V633.62H340.97V669.4Z"/><path d="M340.97 669.4V633.62H344.92V669.4Z"/><path d="M344.92 669.4V615.58H349.22V669.4Z"/><path d="M349.22 669.4V612.66H353.52V669.4Z"/><path d="M353.52 669.4V625.89H357.47V669.4Z"/><path d="M357.47 669.4V628.12H362.11V669.4Z"/><path d="M362.11 669.4V628.12H366.41V669.4Z"/><path d="M366.41 669.4V624.17H370.7V669.4Z"/><path d="M370.7 669.4V617.3H375V669.4Z"/><path d="M375 669.4V604.41H379.3V669.4Z"/><path d="M379.3 669.4V589.28H383.59V669.4Z"/><path d="M383.59 669.4V603.03H388.42V669.4Z"/><path d="M388.42 669.4V617.3H392.72V669.4Z"/><path d="M392.72 669.4V621.25H397.02V669.4Z"/><path d="M397.02 669.4V626.41H401.31V669.4Z"/><path d="M401.31 669.4V629.84H405.09V669.4Z"/><path d="M405.09 669.4V629.84H409.05V669.4Z"/><path d="M409.05 669.4V628.81H414.2V669.4Z"/><path d="M414.2 669.4V629.84H418.5V669.4Z"/><path d="M418.5 669.4V629.84H422.8V669.4Z"/><path d="M422.8 669.4V626.41H427.09V669.4Z"/><path d="M427.09 669.4V623.66H431.39V669.4Z"/><path d="M431.39 669.4V623.66H435.69V669.4Z"/><path d="M435.69 669.4V623.66H439.98V669.4Z"/><path d="M439.98 669.4V621.25H444.28V669.4Z"/><path d="M444.28 669.4V618.5H448.58V669.4Z"/><path d="M448.58 669.4V608.7H452.88V669.4Z"/><path d="M452.88 669.4V600.11H457.17V669.4Z"/><path d="M457.17 669.4V591.52H461.47V669.4Z"/><path d="M461.47 669.4V593.75H465.77V669.4Z"/><path d="M465.77 669.4V593.75H470.06V669.4Z"/><path d="M470.06 669.4V585.16H474.36V669.4Z"/><path d="M474.36 669.4V585.16H478.66V669.4Z"/><path d="M478.66 669.4V585.16H482.95V669.4Z"/><path d="M482.95 669.4V577.25H487.25V669.4Z"/><path d="M487.25 669.4V577.25H491.55V669.4Z"/><path d="M491.55 669.4V573.47H495.84V669.4Z"/><path d="M495.84 669.4V573.47H500.14V669.4Z"/><path d="M500.14 669.4V570.89H504.44V669.4Z"/><path d="M504.44 669.4V571.41H508.39V669.4Z"/><path d="M51.52 658.55L51.52 625.89L56.33 658.55L56.33 658.55Z"/><path d="M56.33 658.55L56.33 658.55L60.62 637.92L60.62 658.55Z"/><path d="M60.62 637.92L60.62 637.92L64.92 635.69L64.92 637.92Z"/><path d="M64.92 635.69L64.92 635.69L68.88 633.28L68.88 635.69Z"/><path d="M68.88 637.41L68.88 633.28L73 637.41L73 637.41Z"/><path d="M73 657.34L73 637.41L78.16 657.34L78.16 657.34Z"/><path d="M78.16 657.34L78.16 657.34L82.11 642.22L82.11 657.34Z"/><path d="M82.11 642.22L82.11 642.22L86.41 627.09L86.41 642.22Z"/><path d="M86.41 646L86.41 627.09L90.7 646L90.7 646Z"/><path d="M90.7 648.23L90.7 646L95 648.23L95 648.23Z"/><path d="M95 651.67L95 648.23L99.3 651.67L99.3 651.67Z"/><path d="M99.3 658.55L99.3 651.67L103.94 658.55L103.94 658.55Z"/><path d="M103.94 659.41L103.94 658.55L107.89 659.41L107.89 659.41Z"/><path d="M107.89 659.41L107.89 659.41L112.19 651.67L112.19 659.41Z"/><path d="M112.19 651.67L112.19 651.67L115.97 650.81L115.97 651.67Z"/><path d="M115.97 660.78L115.97 650.81L120.78 660.78L120.78 660.78Z"/><path d="M120.78 660.78L120.78 660.78L125.08 655.97L125.08 660.78Z"/><path d="M125.08 666.62L125.08 655.97L129.38 666.62L129.38 666.62Z"/><path d="M129.38 666.62L129.38 666.62L133.67 652.19L133.67 666.62Z"/><path d="M133.67 652.19L133.67 652.19L137.97 646.52L137.97 652.19Z"/><path d="M137.97 649.09L137.97 646.52L142.27 649.09L142.27 649.09Z"/><path d="M142.27 653.91L142.27 649.09L146.56 653.91L146.56 653.91Z"/><path d="M146.56 653.91L146.56 653.91L150.86 653.39L150.86 653.91Z"/><path d="M150.86 655.97L150.86 653.39L155.16 655.97L155.16 655.97Z"/><path d="M155.16 665.94L155.16 655.97L160.31 665.94L160.31 665.94Z"/><path d="M160.31 667.14L160.31 665.94L164.09 667.14L164.09 667.14Z"/><path d="M164.09 667.14L164.09 667.14L168.56 653.39L168.56 667.14Z"/><path d="M168.56 657.34L168.56 653.39L173.2 657.34L173.2 657.34Z"/><path d="M173.2 657.34L173.2 657.34L177.5 655.11L177.5 657.34Z"/><path d="M177.5 655.11L177.5 655.11L181.8 653.39L181.8 655.11Z"/><path d="M181.8 653.39L181.8 653.39L186.09 651.16L186.09 653.39Z"/><path d="M186.09 651.16L186.09 651.16L190.05 640.5L190.05 651.16Z"/><path d="M190.05 646.52L190.05 640.5L194.34 646.52L194.34 646.52Z"/><path d="M194.34 649.95L194.34 646.52L198.12 649.95L198.12 649.95Z"/><path d="M198.12 661.98L198.12 649.95L202.94 661.98L202.94 661.98Z"/><path d="M202.94 661.98L202.94 661.98L207.58 654.59L207.58 661.98Z"/><path d="M207.58 661.98L207.58 654.59L211.88 661.98L211.88 661.98Z"/><path d="M211.88 665.42L211.88 661.98L216.02 665.42L216.02 665.42Z"/><path d="M216.02 665.42L216.02 665.42L219.97 660.27L219.97 665.42Z"/><path d="M219.97 664.56L219.97 660.27L224.61 664.56L224.61 664.56Z"/><path d="M224.61 664.56L224.61 664.56L228.91 654.59L228.91 664.56Z"/><path d="M228.91 656.31L228.91 654.59L233.2 656.31L233.2 656.31Z"/><path d="M233.2 656.31L233.2 656.31L237.5 655.11L237.5 656.31Z"/><path d="M237.5 655.11L237.5 655.11L241.8 650.81L241.8 655.11Z"/><path d="M241.8 650.81L241.8 650.81L246.09 631.05L246.09 650.81Z"/><path d="M246.09 631.05L246.09 631.05L250.39 626.41L250.39 631.05Z"/><path d="M250.39 633.62L250.39 626.41L254.34 633.62L254.34 633.62Z"/><path d="M254.34 633.62L254.34 633.62L258.98 633.28L258.98 633.62Z"/><path d="M258.98 642.56L258.98 633.28L262.94 642.56L262.94 642.56Z"/><path d="M262.94 642.56L262.94 642.56L267.58 637.41L267.58 642.56Z"/><path d="M267.58 637.41L267.58 637.41L271.88 629.33L271.88 637.41Z"/><path d="M271.88 636.2L271.88 629.33L276.17 636.2L276.17 636.2Z"/><path d="M276.17 636.2L276.17 636.2L280.12 632.77L280.12 636.2Z"/><path d="M280.12 637.06L280.12 632.77L284.25 637.06L284.25 637.06Z"/><path d="M284.25 638.78L284.25 637.06L289.06 638.78L289.06 638.78Z"/><path d="M289.06 638.78L289.06 638.78L293.7 630.53L293.7 638.78Z"/><path d="M293.7 640.84L293.7 630.53L297.66 640.84L297.66 640.84Z"/><path d="M297.66 640.84L297.66 640.84L302.3 624.17L302.3 640.84Z"/><path d="M302.3 624.17L302.3 624.17L306.59 612.66L306.59 624.17Z"/><path d="M306.59 612.66L306.59 612.66L311.06 603.03L311.06 612.66Z"/><path d="M311.06 609.22L311.06 603.03L314.84 609.22L314.84 609.22Z"/><path d="M314.84 609.22L314.84 609.22L318.62 608.7L318.62 609.22Z"/><path d="M318.62 618.16L318.62 608.7L323.09 618.16L323.09 618.16Z"/><path d="M323.09 624.17L323.09 618.16L327.73 624.17L327.73 624.17Z"/><path d="M327.73 626.23L327.73 624.17L332.03 626.23L332.03 626.23Z"/><path d="M332.03 627.61L332.03 626.23L336.84 627.61L336.84 627.61Z"/><path d="M336.84 633.62L336.84 627.61L340.97 633.62L340.97 633.62Z"/><path d="M340.97 633.62L340.97 633.62L344.92 615.58L344.92 633.62Z"/><path d="M344.92 615.58L344.92 615.58L349.22 612.66L349.22 615.58Z"/><path d="M349.22 612.66L349.22 612.66L353.52 612.14L353.52 612.66Z"/><path d="M353.52 625.89L353.52 612.14L357.47 625.89L357.47 625.89Z"/><path d="M357.47 628.12L357.47 625.89L362.11 628.12L362.11 628.12Z"/><path d="M362.11 628.12L362.11 628.12L366.41 624.17L366.41 628.12Z"/><path d="M366.41 624.17L366.41 624.17L370.7 617.3L370.7 624.17Z"/><path d="M370.7 617.3L370.7 617.3L375 604.41L375 617.3Z"/><path d="M375 604.41L375 604.41L379.3 589.28L379.3 604.41Z"/><path d="M379.3 589.28L379.3 589.28L383.59 586.36L383.59 589.28Z"/><path d="M383.59 603.03L383.59 586.36L388.42 603.03L388.42 603.03Z"/><path d="M388.42 617.3L388.42 603.03L392.72 617.3L392.72 617.3Z"/><path d="M392.72 621.25L392.72 617.3L397.02 621.25L397.02 621.25Z"/><path d="M397.02 626.41L397.02 621.25L401.31 626.41L401.31 626.41Z"/><path d="M401.31 629.84L401.31 626.41L405.09 629.84L405.09 629.84Z"/><path d="M405.09 629.84L405.09 629.84L409.05 620.22L409.05 629.84Z"/><path d="M409.05 628.81L409.05 620.22L414.2 628.81L414.2 628.81Z"/><path d="M414.2 629.84L414.2 628.81L418.5 629.84L418.5 629.84Z"/><path d="M418.5 629.84L418.5 629.84L422.8 626.41L422.8 629.84Z"/><path d="M422.8 626.41L422.8 626.41L427.09 623.66L427.09 626.41Z"/><path d="M427.09 623.66L427.09 623.66L431.39 621.94L431.39 623.66Z"/><path d="M431.39 623.66L431.39 621.94L435.69 623.66L435.69 623.66Z"/><path d="M435.69 623.66L435.69 623.66L439.98 621.25L439.98 623.66Z"/><path d="M439.98 621.25L439.98 621.25L444.28 618.5L444.28 621.25Z"/><path d="M444.28 618.5L444.28 618.5L448.58 608.7L448.58 618.5Z"/><path d="M448.58 608.7L448.58 608.7L452.88 600.11L452.88 608.7Z"/><path d="M452.88 600.11L452.88 600.11L457.17 591.52L457.17 600.11Z"/><path d="M457.17 591.52L457.17 591.52L461.47 589.28L461.47 591.52Z"/><path d="M461.47 593.75L461.47 589.28L465.77 593.75L465.77 593.75Z"/><path d="M465.77 593.75L465.77 593.75L470.06 585.16L470.06 593.75Z"/><path d="M470.06 585.16L470.06 585.16L474.36 584.12L474.36 585.16Z"/><path d="M474.36 585.16L474.36 584.12L478.66 585.16L478.66 585.16Z"/><path d="M478.66 585.16L478.66 585.16L482.95 573.12L482.95 585.16Z"/><path d="M482.95 577.25L482.95 573.12L487.25 577.25L487.25 577.25Z"/><path d="M487.25 577.25L487.25 577.25L491.55 570.89L491.55 577.25Z"/><path d="M491.55 573.47L491.55 570.89L495.84 573.47L495.84 573.47Z"/><path d="M495.84 573.47L495.84 573.47L500.14 570.89L500.14 573.47Z"/><path d="M500.14 570.89L500.14 570.89L504.44 567.97L504.44 570.89Z"/><path d="M504.44 571.41L504.44 567.97L508.39 571.41L508.39 571.41Z"/></g>
<polygon points="51.52,669.4 51.52,625.89 56.33,658.55 60.62,637.92 64.92,635.69 68.88,633.28 73,637.41 78.16,657.34 82.11,642.22 86.41,627.09 90.7,646 95,648.23 99.3,651.67 103.94,658.55 107.89,659.41 112.19,651.67 115.97,650.81 120.78,660.78 125.08,655.97 129.38,666.62 133.67,652.19 137.97,646.52 142.27,649.09 146.56,653.91 150.86,653.39 155.16,655.97 160.31,665.94 164.09,667.14 168.56,653.39 173.2,657.34 177.5,655.11 181.8,653.39 186.09,651.16 190.05,640.5 194.34,646.52 198.12,649.95 202.94,661.98 207.58,654.59 211.88,661.98 216.02,665.42 219.97,660.27 224.61,664.56 228.91,654.59 233.2,656.31 237.5,655.11 241.8,650.81 246.09,631.05 250.39,626.41 254.34,633.62 258.98,633.28 262.94,642.56 267.58,637.41 271.88,629.33 276.17,636.2 280.12,632.77 284.25,637.06 289.06,638.78 293.7,630.53 297.66,640.84 302.3,624.17 306.59,612.66 311.06,603.03 314.84,609.22 318.62,608.7 323.09,618.16 327.73,624.17 332.03,626.23 336.84,627.61 340.97,633.62 344.92,615.58 349.22,612.66 353.52,612.14 357.47,625.89 362.11,628.12 366.41,624.17 370.7,617.3 375,604.41 379.3,589.28 383.59,586.36 388.42,603.03 392.72,617.3 397.02,621.25 401.31,626.41 405.09,629.84 409.05,620.22 414.2,628.81 418.5,629.84 422.8,626.41 427.09,623.66 431.39,621.94 435.69,623.66 439.98,621.25 444.28,618.5 448.58,608.7 452.88,600.11 457.17,591.52 461.47,589.28 465.77,593.75 470.06,585.16 474.36,584.12 478.66,585.16 482.95,573.12 487.25,577.25 491.55,570.89 495.84,573.47 500.14,570.89 504.44,567.97 508.39,571.41 508.39,669.4" fill="none" stroke="#b0222c" stroke-width="1.1" stroke-linejoin="round"/>
<text transform="translate(92.84,613.5) scale(0.86,1)" x="0" y="0" font-size="34.01" font-weight="bold" fill="#0d0d0d" letter-spacing="1.46" style="font-kerning:none">HORROR</text>
<line x1="43.2" y1="679" x2="43.2" y2="785.8" stroke="#e6ecec" stroke-width="0.8"/>
<line x1="43.2" y1="785.8" x2="510" y2="785.8" stroke="#e6ecec" stroke-width="0.8"/>
<line x1="43.2" y1="742.5" x2="510" y2="742.5" stroke="#ebe8e8" stroke-width="0.8"/>
<line x1="43.2" y1="699.5" x2="510" y2="699.5" stroke="#ebe8e8" stroke-width="0.8"/>
<text x="16.91" y="704.2" font-size="10" fill="#a8a8a8" textLength="18.41" lengthAdjust="spacingAndGlyphs">10%</text>
<text x="22.03" y="746.9" font-size="10" fill="#a8a8a8" textLength="13.3" lengthAdjust="spacingAndGlyphs">5%</text>
<text x="22.03" y="783.1" font-size="10" fill="#a8a8a8" textLength="13.3" lengthAdjust="spacingAndGlyphs">0%</text>
<g fill="#f0912f"><path d="M55.47 785.8V748.25H68.88V785.8Z"/><path d="M68.88 785.8V753.92H73.52V785.8Z"/><path d="M73.52 785.8V753.92H77.47V785.8Z"/><path d="M77.47 785.8V743.61H81.25V785.8Z"/><path d="M81.25 785.8V716.97H85.55V785.8Z"/><path d="M85.55 785.8V716.97H89.5V785.8Z"/><path d="M89.5 785.8V726.42H94.66V785.8Z"/><path d="M94.66 785.8V729.86H98.78V785.8Z"/><path d="M98.78 785.8V747.05H103.25V785.8Z"/><path d="M103.25 785.8V747.05H107.38V785.8Z"/><path d="M107.38 785.8V742.41H110.81V785.8Z"/><path d="M110.81 785.8V730.72H115.28V785.8Z"/><path d="M115.28 785.8V716.97H119.41V785.8Z"/><path d="M119.41 785.8V717.83H123.36V785.8Z"/><path d="M123.36 785.8V750.48H128.52V785.8Z"/><path d="M128.52 785.8V752.2H132.47V785.8Z"/><path d="M132.47 785.8V752.2H136.59V785.8Z"/><path d="M136.59 785.8V729.86H141.06V785.8Z"/><path d="M141.06 785.8V714.39H144.84V785.8Z"/><path d="M144.84 785.8V733.3H149.14V785.8Z"/><path d="M149.14 785.8V742.75H153.09V785.8Z"/><path d="M153.09 785.8V742.75H157.22V785.8Z"/><path d="M157.22 785.8V705.8H162.03V785.8Z"/><path d="M162.03 785.8V710.44H166.84V785.8Z"/><path d="M166.84 785.8V726.42H170.62V785.8Z"/><path d="M170.62 785.8V726.42H174.92V785.8Z"/><path d="M174.92 785.8V705.28H178.88V785.8Z"/><path d="M178.88 785.8V705.28H182.66V785.8Z"/><path d="M182.66 785.8V716.97H186.95V785.8Z"/><path d="M186.95 785.8V716.97H190.91V785.8Z"/><path d="M190.91 785.8V724.7H196.06V785.8Z"/><path d="M196.06 785.8V724.7H200.19V785.8Z"/><path d="M200.19 785.8V697.2H204.66V785.8Z"/><path d="M204.66 785.8V704.94H208.78V785.8Z"/><path d="M208.78 785.8V704.94H212.73V785.8Z"/><path d="M212.73 785.8V701.5H216.53V785.8Z"/><path d="M216.53 785.8V701.5H220.66V785.8Z"/><path d="M220.66 785.8V698.92H225.12V785.8Z"/><path d="M225.12 785.8V705.8H230.28V785.8Z"/><path d="M230.28 785.8V722.12H234.06V785.8Z"/><path d="M234.06 785.8V739.31H237.84V785.8Z"/><path d="M237.84 785.8V739.31H242.31V785.8Z"/><path d="M242.31 785.8V735.53H246.09V785.8Z"/><path d="M246.09 785.8V737.94H250.39V785.8Z"/><path d="M250.39 785.8V746.19H255.03V785.8Z"/><path d="M255.03 785.8V758.22H258.98V785.8Z"/><path d="M258.98 785.8V761.66H263.28V785.8Z"/><path d="M263.28 785.8V766.81H267.58V785.8Z"/><path d="M267.58 785.8V766.81H271.53V785.8Z"/><path d="M271.53 785.8V770.59H276.17V785.8Z"/><path d="M276.17 785.8V770.59H280.47V785.8Z"/><path d="M280.47 785.8V748.77H284.77V785.8Z"/><path d="M284.77 785.8V735.02H288.72V785.8Z"/><path d="M288.72 785.8V733.81H293.36V785.8Z"/><path d="M293.36 785.8V735.02H297.66V785.8Z"/><path d="M297.66 785.8V753.41H301.95V785.8Z"/><path d="M301.95 785.8V753.41H305.91V785.8Z"/><path d="M305.91 785.8V752.2H310.03V785.8Z"/><path d="M310.03 785.8V747.56H313.98V785.8Z"/><path d="M313.98 785.8V757.36H318.28V785.8Z"/><path d="M318.28 785.8V772.83H322.58V785.8Z"/><path d="M322.58 785.8V772.83H326.88V785.8Z"/><path d="M326.88 785.8V771.11H331.17V785.8Z"/><path d="M331.17 785.8V778.84H335.47V785.8Z"/><path d="M335.47 785.8V778.84H339.77V785.8Z"/><path d="M339.77 785.8V777.98H343.72V785.8Z"/><path d="M343.72 785.8V783.14H348.36V785.8Z"/><path d="M348.36 785.8V783.14H356.09V785.8Z"/><path d="M356.09 785.8V784H364.69V785.8Z"/><path d="M364.69 785.8V784H372.42V785.8Z"/><path d="M372.42 785.8V783.31H388.42V785.8Z"/><path d="M388.42 785.8V783.31H394.44V785.8Z"/><path d="M394.44 785.8V784H398.73V785.8Z"/><path d="M398.73 785.8V784H403.89V785.8Z"/><path d="M403.89 785.8V780.91H408.19V785.8Z"/><path d="M408.19 785.8V780.56H411.62V785.8Z"/><path d="M411.62 785.8V784.86H415.92V785.8Z"/><path d="M415.92 785.8V784.86H423.66V785.8Z"/><path d="M423.66 785.8V784.34H432.25V785.8Z"/><path d="M432.25 785.8V784.34H439.12V785.8Z"/><path d="M439.12 785.8V784.34H444.28V785.8Z"/><path d="M444.28 785.8V784.34H449.44V785.8Z"/><path d="M449.44 785.8V784.52H456.31V785.8Z"/><path d="M456.31 785.8V784.52H466.62V785.8Z"/><path d="M466.62 785.8V783.48H475.22V785.8Z"/><path d="M475.22 785.8V783.48H483.81V785.8Z"/><path d="M483.81 785.8V783.31H491.55V785.8Z"/><path d="M491.55 785.8V784H499.28V785.8Z"/><path d="M499.28 785.8V784H505.3V785.8Z"/><path d="M505.3 785.8V783.48H508.39V785.8Z"/><path d="M55.47 748.25L55.47 748.25L68.88 744.12L68.88 748.25Z"/><path d="M68.88 753.92L68.88 744.12L73.52 753.92L73.52 753.92Z"/><path d="M73.52 753.92L73.52 753.92L77.47 743.61L77.47 753.92Z"/><path d="M77.47 743.61L77.47 743.61L81.25 704.59L81.25 743.61Z"/><path d="M81.25 716.97L81.25 704.59L85.55 716.97L85.55 716.97Z"/><path d="M85.55 716.97L85.55 716.97L89.5 708.72L89.5 716.97Z"/><path d="M89.5 726.42L89.5 708.72L94.66 726.42L94.66 726.42Z"/><path d="M94.66 729.86L94.66 726.42L98.78 729.86L98.78 729.86Z"/><path d="M98.78 747.05L98.78 729.86L103.25 747.05L103.25 747.05Z"/><path d="M103.25 747.05L103.25 747.05L107.38 742.41L107.38 747.05Z"/><path d="M107.38 742.41L107.38 742.41L110.81 730.72L110.81 742.41Z"/><path d="M110.81 730.72L110.81 730.72L115.28 704.59L115.28 730.72Z"/><path d="M115.28 716.97L115.28 704.59L119.41 716.97L119.41 716.97Z"/><path d="M119.41 717.83L119.41 716.97L123.36 717.83L123.36 717.83Z"/><path d="M123.36 750.48L123.36 717.83L128.52 750.48L128.52 750.48Z"/><path d="M128.52 752.2L128.52 750.48L132.47 752.2L132.47 752.2Z"/><path d="M132.47 752.2L132.47 752.2L136.59 729.86L136.59 752.2Z"/><path d="M136.59 729.86L136.59 729.86L141.06 714.39L141.06 729.86Z"/><path d="M141.06 714.39L141.06 714.39L144.84 699.44L144.84 714.39Z"/><path d="M144.84 733.3L144.84 699.44L149.14 733.3L149.14 733.3Z"/><path d="M149.14 742.75L149.14 733.3L153.09 742.75L153.09 742.75Z"/><path d="M153.09 742.75L153.09 742.75L157.22 696.34L157.22 742.75Z"/><path d="M157.22 705.8L157.22 696.34L162.03 705.8L162.03 705.8Z"/><path d="M162.03 710.44L162.03 705.8L166.84 710.44L166.84 710.44Z"/><path d="M166.84 726.42L166.84 710.44L170.62 726.42L170.62 726.42Z"/><path d="M170.62 726.42L170.62 726.42L174.92 705.28L174.92 726.42Z"/><path d="M174.92 705.28L174.92 705.28L178.88 698.41L178.88 705.28Z"/><path d="M178.88 705.28L178.88 698.41L182.66 705.28L182.66 705.28Z"/><path d="M182.66 716.97L182.66 705.28L186.95 716.97L186.95 716.97Z"/><path d="M186.95 716.97L186.95 716.97L190.91 714.91L190.91 716.97Z"/><path d="M190.91 724.7L190.91 714.91L196.06 724.7L196.06 724.7Z"/><path d="M196.06 724.7L196.06 724.7L200.19 697.2L200.19 724.7Z"/><path d="M200.19 697.2L200.19 697.2L204.66 694.28L204.66 697.2Z"/><path d="M204.66 704.94L204.66 694.28L208.78 704.94L208.78 704.94Z"/><path d="M208.78 704.94L208.78 704.94L212.73 694.28L212.73 704.94Z"/><path d="M212.73 701.5L212.73 694.28L216.53 701.5L216.53 701.5Z"/><path d="M216.53 701.5L216.53 701.5L220.66 683.97L220.66 701.5Z"/><path d="M220.66 698.92L220.66 683.97L225.12 698.92L225.12 698.92Z"/><path d="M225.12 705.8L225.12 698.92L230.28 705.8L230.28 705.8Z"/><path d="M230.28 722.12L230.28 705.8L234.06 722.12L234.06 722.12Z"/><path d="M234.06 739.31L234.06 722.12L237.84 739.31L237.84 739.31Z"/><path d="M237.84 739.31L237.84 739.31L242.31 735.53L242.31 739.31Z"/><path d="M242.31 735.53L242.31 735.53L246.09 735.02L246.09 735.53Z"/><path d="M246.09 737.94L246.09 735.02L250.39 737.94L250.39 737.94Z"/><path d="M250.39 746.19L250.39 737.94L255.03 746.19L255.03 746.19Z"/><path d="M255.03 758.22L255.03 746.19L258.98 758.22L258.98 758.22Z"/><path d="M258.98 761.66L258.98 758.22L263.28 761.66L263.28 761.66Z"/><path d="M263.28 766.81L263.28 761.66L267.58 766.81L267.58 766.81Z"/><path d="M267.58 766.81L267.58 766.81L271.53 766.3L271.53 766.81Z"/><path d="M271.53 770.59L271.53 766.3L276.17 770.59L276.17 770.59Z"/><path d="M276.17 770.59L276.17 770.59L280.47 748.77L280.47 770.59Z"/><path d="M280.47 748.77L280.47 748.77L284.77 735.02L284.77 748.77Z"/><path d="M284.77 735.02L284.77 735.02L288.72 729.86L288.72 735.02Z"/><path d="M288.72 733.81L288.72 729.86L293.36 733.81L293.36 733.81Z"/><path d="M293.36 735.02L293.36 733.81L297.66 735.02L297.66 735.02Z"/><path d="M297.66 753.41L297.66 735.02L301.95 753.41L301.95 753.41Z"/><path d="M301.95 753.41L301.95 753.41L305.91 752.2L305.91 753.41Z"/><path d="M305.91 752.2L305.91 752.2L310.03 747.56L310.03 752.2Z"/><path d="M310.03 747.56L310.03 747.56L313.98 743.09L313.98 747.56Z"/><path d="M313.98 757.36L313.98 743.09L318.28 757.36L318.28 757.36Z"/><path d="M318.28 772.83L318.28 757.36L322.58 772.83L322.58 772.83Z"/><path d="M322.58 772.83L322.58 772.83L326.88 763.72L326.88 772.83Z"/><path d="M326.88 771.11L326.88 763.72L331.17 771.11L331.17 771.11Z"/><path d="M331.17 778.84L331.17 771.11L335.47 778.84L335.47 778.84Z"/><path d="M335.47 778.84L335.47 778.84L339.77 777.98L339.77 778.84Z"/><path d="M339.77 777.98L339.77 777.98L343.72 777.12L343.72 777.98Z"/><path d="M343.72 783.14L343.72 777.12L348.36 783.14L348.36 783.14Z"/><path d="M348.36 783.14L348.36 783.14L356.09 782.28L356.09 783.14Z"/><path d="M356.09 784L356.09 782.28L364.69 784L364.69 784Z"/><path d="M364.69 784L364.69 784L372.42 782.28L372.42 784Z"/><path d="M372.42 783.31L372.42 782.28L388.42 783.31L388.42 783.31Z"/><path d="M388.42 783.31L388.42 783.31L394.44 782.28L394.44 783.31Z"/><path d="M394.44 784L394.44 782.28L398.73 784L398.73 784Z"/><path d="M398.73 784L398.73 784L403.89 780.91L403.89 784Z"/><path d="M403.89 780.91L403.89 780.91L408.19 779.7L408.19 780.91Z"/><path d="M408.19 780.56L408.19 779.7L411.62 780.56L411.62 780.56Z"/><path d="M411.62 784.86L411.62 780.56L415.92 784.86L415.92 784.86Z"/><path d="M415.92 784.86L415.92 784.86L423.66 784.34L423.66 784.86Z"/><path d="M423.66 784.34L423.66 784.34L432.25 783.14L432.25 784.34Z"/><path d="M432.25 784.34L432.25 783.14L439.12 784.34L439.12 784.34Z"/><path d="M439.12 784.34L439.12 784.34L444.28 783.14L444.28 784.34Z"/><path d="M444.28 784.34L444.28 783.14L449.44 784.34L449.44 784.34Z"/><path d="M449.44 784.52L449.44 784.34L456.31 784.52L456.31 784.52Z"/><path d="M456.31 784.52L456.31 784.52L466.62 783.14L466.62 784.52Z"/><path d="M466.62 783.48L466.62 783.14L475.22 783.48L475.22 783.48Z"/><path d="M475.22 783.48L475.22 783.48L483.81 783.31L483.81 783.48Z"/><path d="M483.81 783.31L483.81 783.31L491.55 782.28L491.55 783.31Z"/><path d="M491.55 784L491.55 782.28L499.28 784L499.28 784Z"/><path d="M499.28 784L499.28 784L505.3 782.28L505.3 784Z"/><path d="M505.3 783.48L505.3 782.28L508.39 783.48L508.39 783.48Z"/></g>
<polygon points="55.47,785.8 55.47,748.25 68.88,744.12 73.52,753.92 77.47,743.61 81.25,704.59 85.55,716.97 89.5,708.72 94.66,726.42 98.78,729.86 103.25,747.05 107.38,742.41 110.81,730.72 115.28,704.59 119.41,716.97 123.36,717.83 128.52,750.48 132.47,752.2 136.59,729.86 141.06,714.39 144.84,699.44 149.14,733.3 153.09,742.75 157.22,696.34 162.03,705.8 166.84,710.44 170.62,726.42 174.92,705.28 178.88,698.41 182.66,705.28 186.95,716.97 190.91,714.91 196.06,724.7 200.19,697.2 204.66,694.28 208.78,704.94 212.73,694.28 216.53,701.5 220.66,683.97 225.12,698.92 230.28,705.8 234.06,722.12 237.84,739.31 242.31,735.53 246.09,735.02 250.39,737.94 255.03,746.19 258.98,758.22 263.28,761.66 267.58,766.81 271.53,766.3 276.17,770.59 280.47,748.77 284.77,735.02 288.72,729.86 293.36,733.81 297.66,735.02 301.95,753.41 305.91,752.2 310.03,747.56 313.98,743.09 318.28,757.36 322.58,772.83 326.88,763.72 331.17,771.11 335.47,778.84 339.77,777.98 343.72,777.12 348.36,783.14 356.09,782.28 364.69,784 372.42,782.28 388.42,783.31 394.44,782.28 398.73,784 403.89,780.91 408.19,779.7 411.62,780.56 415.92,784.86 423.66,784.34 432.25,783.14 439.12,784.34 444.28,783.14 449.44,784.34 456.31,784.52 466.62,783.14 475.22,783.48 483.81,783.31 491.55,782.28 499.28,784 505.3,782.28 508.39,783.48 508.39,785.8" fill="none" stroke="#d27a22" stroke-width="1.1" stroke-linejoin="round"/>
<text transform="translate(333.57,728.9) scale(0.86,1)" x="0" y="0" font-size="34.01" font-weight="bold" fill="#f0912f" letter-spacing="1.58" style="font-kerning:none">WESTERN</text>
<line x1="547.5" y1="100" x2="547.5" y2="206.2" stroke="#e6ecec" stroke-width="0.8"/>
<line x1="547.5" y1="206.2" x2="1014" y2="206.2" stroke="#e6ecec" stroke-width="0.8"/>
<line x1="547.5" y1="164.5" x2="1014" y2="164.5" stroke="#ebe8e8" stroke-width="0.8"/>
<line x1="547.5" y1="122.5" x2="1014" y2="122.5" stroke="#ebe8e8" stroke-width="0.8"/>
<text x="521.11" y="127.4" font-size="10" fill="#a8a8a8" textLength="18.41" lengthAdjust="spacingAndGlyphs">10%</text>
<text x="526.23" y="169.3" font-size="10" fill="#a8a8a8" textLength="13.3" lengthAdjust="spacingAndGlyphs">5%</text>
<text x="526.23" y="204.2" font-size="10" fill="#a8a8a8" textLength="13.3" lengthAdjust="spacingAndGlyphs">0%</text>
<g fill="#b0141f"><path d="M552.25 206.2V188.47H560.84V206.2Z"/><path d="M560.84 206.2V200.5H564.28V206.2Z"/><path d="M564.28 206.2V200.5H569.44V206.2Z"/><path d="M569.44 206.2V196.03H573.56V206.2Z"/><path d="M573.56 206.2V196.03H578.03V206.2Z"/><path d="M578.03 206.2V195.69H582.67V206.2Z"/><path d="M582.67 206.2V194.83H586.97V206.2Z"/><path d="M586.97 206.2V198.78H591.27V206.2Z"/><path d="M591.27 206.2V200.84H594.7V206.2Z"/><path d="M594.7 206.2V200.84H599V206.2Z"/><path d="M599 206.2V193.97H603.3V206.2Z"/><path d="M603.3 206.2V200.5H607.59V206.2Z"/><path d="M607.59 206.2V200.5H611.89V206.2Z"/><path d="M611.89 206.2V199.98H616.19V206.2Z"/><path d="M616.19 206.2V198.78H620.48V206.2Z"/><path d="M620.48 206.2V195.69H624.78V206.2Z"/><path d="M624.78 206.2V188.81H629.42V206.2Z"/><path d="M629.42 206.2V197.75H633.38V206.2Z"/><path d="M633.38 206.2V197.75H637.67V206.2Z"/><path d="M637.67 206.2V192.25H641.97V206.2Z"/><path d="M641.97 206.2V194.83H646.27V206.2Z"/><path d="M646.27 206.2V194.83H650.56V206.2Z"/><path d="M650.56 206.2V193.97H654.86V206.2Z"/><path d="M654.86 206.2V193.97H659.5V206.2Z"/><path d="M659.5 206.2V190.19H663.97V206.2Z"/><path d="M663.97 206.2V197.75H668.61V206.2Z"/><path d="M668.61 206.2V197.75H672.91V206.2Z"/><path d="M672.91 206.2V190.19H676.69V206.2Z"/><path d="M676.69 206.2V189.67H681.16V206.2Z"/><path d="M681.16 206.2V185.72H685.8V206.2Z"/><path d="M685.8 206.2V180.22H690.09V206.2Z"/><path d="M690.09 206.2V187.09H694.39V206.2Z"/><path d="M694.39 206.2V187.09H698.34V206.2Z"/><path d="M698.34 206.2V182.8H702.47V206.2Z"/><path d="M702.47 206.2V186.75H707.28V206.2Z"/><path d="M707.28 206.2V186.75H711.58V206.2Z"/><path d="M711.58 206.2V183.66H715.88V206.2Z"/><path d="M715.88 206.2V184.52H720.53V206.2Z"/><path d="M720.53 206.2V184.52H724.66V206.2Z"/><path d="M724.66 206.2V178.84H729.12V206.2Z"/><path d="M729.12 206.2V184.52H733.25V206.2Z"/><path d="M733.25 206.2V184.52H737.2V206.2Z"/><path d="M737.2 206.2V187.44H741.5V206.2Z"/><path d="M741.5 206.2V187.44H745.8V206.2Z"/><path d="M745.8 206.2V181.94H750.44V206.2Z"/><path d="M750.44 206.2V174.2H754.39V206.2Z"/><path d="M754.39 206.2V171.97H758.69V206.2Z"/><path d="M758.69 206.2V174.2H762.98V206.2Z"/><path d="M762.98 206.2V174.2H766.94V206.2Z"/><path d="M766.94 206.2V175.41H771.58V206.2Z"/><path d="M771.58 206.2V175.41H775.88V206.2Z"/><path d="M775.88 206.2V175.41H780.17V206.2Z"/><path d="M780.17 206.2V169.56H784.12V206.2Z"/><path d="M784.12 206.2V174.2H788.25V206.2Z"/><path d="M788.25 206.2V174.2H793.41V206.2Z"/><path d="M793.41 206.2V164.41H797.88V206.2Z"/><path d="M797.88 206.2V166.81H802V206.2Z"/><path d="M802 206.2V167.84H806.81V206.2Z"/><path d="M806.81 206.2V167.84H811.11V206.2Z"/><path d="M811.11 206.2V159.25H815.41V206.2Z"/><path d="M815.41 206.2V152.72H819.19V206.2Z"/><path d="M819.19 206.2V151H823.66V206.2Z"/><path d="M823.66 206.2V155.3H827.78V206.2Z"/><path d="M827.78 206.2V158.22H832.25V206.2Z"/><path d="M832.25 206.2V158.22H836.38V206.2Z"/><path d="M836.38 206.2V163.89H840.84V206.2Z"/><path d="M840.84 206.2V170.77H844.97V206.2Z"/><path d="M844.97 206.2V170.77H849.44V206.2Z"/><path d="M849.44 206.2V163.38H853.56V206.2Z"/><path d="M853.56 206.2V166.47H858.03V206.2Z"/><path d="M858.03 206.2V166.47H862.16V206.2Z"/><path d="M862.16 206.2V161.31H866.11V206.2Z"/><path d="M866.11 206.2V165.09H870.41V206.2Z"/><path d="M870.41 206.2V165.09H874.7V206.2Z"/><path d="M874.7 206.2V152.72H879.86V206.2Z"/><path d="M879.86 206.2V144.12H884.16V206.2Z"/><path d="M884.16 206.2V141.55H887.59V206.2Z"/><path d="M887.59 206.2V144.47H891.83V206.2Z"/><path d="M891.83 206.2V144.47H896.98V206.2Z"/><path d="M896.98 206.2V143.78H900.94V206.2Z"/><path d="M900.94 206.2V138.11H905.58V206.2Z"/><path d="M905.58 206.2V130.03H909.53V206.2Z"/><path d="M909.53 206.2V130.03H913.31V206.2Z"/><path d="M913.31 206.2V130.03H918.12V206.2Z"/><path d="M918.12 206.2V130.03H922.25V206.2Z"/><path d="M922.25 206.2V135.19H926.72V206.2Z"/><path d="M926.72 206.2V135.19H931.36V206.2Z"/><path d="M931.36 206.2V128.66H935.66V206.2Z"/><path d="M935.66 206.2V135.88H939.95V206.2Z"/><path d="M939.95 206.2V143.27H943.91V206.2Z"/><path d="M943.91 206.2V143.27H948.03V206.2Z"/><path d="M948.03 206.2V138.97H951.98V206.2Z"/><path d="M951.98 206.2V143.78H956.28V206.2Z"/><path d="M956.28 206.2V143.78H961.44V206.2Z"/><path d="M961.44 206.2V134.67H965.73V206.2Z"/><path d="M965.73 206.2V135.53H970.03V206.2Z"/><path d="M970.03 206.2V135.53H974.33V206.2Z"/><path d="M974.33 206.2V131.23H978.28V206.2Z"/><path d="M978.28 206.2V126.94H982.92V206.2Z"/><path d="M982.92 206.2V126.94H986.88V206.2Z"/><path d="M986.88 206.2V120.92H991.52V206.2Z"/><path d="M991.52 206.2V109.75H995.81V206.2Z"/><path d="M995.81 206.2V109.75H999.59V206.2Z"/><path d="M999.59 206.2V108.89H1004.06V206.2Z"/><path d="M1004.06 206.2V115.77H1008.7V206.2Z"/><path d="M1008.7 206.2V115.77H1012.66V206.2Z"/><path d="M552.25 188.47L552.25 188.47L560.84 177.64L560.84 188.47Z"/><path d="M560.84 200.5L560.84 177.64L564.28 200.5L564.28 200.5Z"/><path d="M564.28 200.5L564.28 200.5L569.44 194.31L569.44 200.5Z"/><path d="M569.44 196.03L569.44 194.31L573.56 196.03L573.56 196.03Z"/><path d="M573.56 196.03L573.56 196.03L578.03 195.69L578.03 196.03Z"/><path d="M578.03 195.69L578.03 195.69L582.67 193.11L582.67 195.69Z"/><path d="M582.67 194.83L582.67 193.11L586.97 194.83L586.97 194.83Z"/><path d="M586.97 198.78L586.97 194.83L591.27 198.78L591.27 198.78Z"/><path d="M591.27 200.84L591.27 198.78L594.7 200.84L594.7 200.84Z"/><path d="M594.7 200.84L594.7 200.84L599 193.97L599 200.84Z"/><path d="M599 193.97L599 193.97L603.3 191.39L603.3 193.97Z"/><path d="M603.3 200.5L603.3 191.39L607.59 200.5L607.59 200.5Z"/><path d="M607.59 200.5L607.59 200.5L611.89 199.98L611.89 200.5Z"/><path d="M611.89 199.98L611.89 199.98L616.19 198.78L616.19 199.98Z"/><path d="M616.19 198.78L616.19 198.78L620.48 195.69L620.48 198.78Z"/><path d="M620.48 195.69L620.48 195.69L624.78 188.81L624.78 195.69Z"/><path d="M624.78 188.81L624.78 188.81L629.42 178.16L629.42 188.81Z"/><path d="M629.42 197.75L629.42 178.16L633.38 197.75L633.38 197.75Z"/><path d="M633.38 197.75L633.38 197.75L637.67 192.25L637.67 197.75Z"/><path d="M637.67 192.25L637.67 192.25L641.97 191.39L641.97 192.25Z"/><path d="M641.97 194.83L641.97 191.39L646.27 194.83L646.27 194.83Z"/><path d="M646.27 194.83L646.27 194.83L650.56 193.11L650.56 194.83Z"/><path d="M650.56 193.97L650.56 193.11L654.86 193.97L654.86 193.97Z"/><path d="M654.86 193.97L654.86 193.97L659.5 190.19L659.5 193.97Z"/><path d="M663.97 197.75L663.97 190.19L668.61 197.75L668.61 197.75Z"/><path d="M668.61 197.75L668.61 197.75L672.91 190.19L672.91 197.75Z"/><path d="M672.91 190.19L672.91 190.19L676.69 189.67L676.69 190.19Z"/><path d="M676.69 189.67L676.69 189.67L681.16 185.72L681.16 189.67Z"/><path d="M681.16 185.72L681.16 185.72L685.8 177.12L685.8 185.72Z"/><path d="M685.8 180.22L685.8 177.12L690.09 180.22L690.09 180.22Z"/><path d="M690.09 187.09L690.09 180.22L694.39 187.09L694.39 187.09Z"/><path d="M694.39 187.09L694.39 187.09L698.34 175.92L698.34 187.09Z"/><path d="M698.34 182.8L698.34 175.92L702.47 182.8L702.47 182.8Z"/><path d="M702.47 186.75L702.47 182.8L707.28 186.75L707.28 186.75Z"/><path d="M707.28 186.75L707.28 186.75L711.58 181.94L711.58 186.75Z"/><path d="M711.58 183.66L711.58 181.94L715.88 183.66L715.88 183.66Z"/><path d="M715.88 184.52L715.88 183.66L720.53 184.52L720.53 184.52Z"/><path d="M720.53 184.52L720.53 184.52L724.66 178.16L724.66 184.52Z"/><path d="M724.66 178.84L724.66 178.16L729.12 178.84L729.12 178.84Z"/><path d="M729.12 184.52L729.12 178.84L733.25 184.52L733.25 184.52Z"/><path d="M733.25 184.52L733.25 184.52L737.2 182.28L737.2 184.52Z"/><path d="M737.2 187.44L737.2 182.28L741.5 187.44L741.5 187.44Z"/><path d="M741.5 187.44L741.5 187.44L745.8 181.94L745.8 187.44Z"/><path d="M745.8 181.94L745.8 181.94L750.44 174.2L750.44 181.94Z"/><path d="M750.44 174.2L750.44 174.2L754.39 171.97L754.39 174.2Z"/><path d="M754.39 171.97L754.39 171.97L758.69 164.75L758.69 171.97Z"/><path d="M758.69 174.2L758.69 164.75L762.98 174.2L762.98 174.2Z"/><path d="M762.98 174.2L762.98 174.2L766.94 173L766.94 174.2Z"/><path d="M766.94 175.41L766.94 173L771.58 175.41L771.58 175.41Z"/><path d="M775.88 175.41L775.88 175.41L780.17 169.56L780.17 175.41Z"/><path d="M780.17 169.56L780.17 169.56L784.12 166.81L784.12 169.56Z"/><path d="M784.12 174.2L784.12 166.81L788.25 174.2L788.25 174.2Z"/><path d="M788.25 174.2L788.25 174.2L793.41 155.3L793.41 174.2Z"/><path d="M793.41 164.41L793.41 155.3L797.88 164.41L797.88 164.41Z"/><path d="M797.88 166.81L797.88 164.41L802 166.81L802 166.81Z"/><path d="M802 167.84L802 166.81L806.81 167.84L806.81 167.84Z"/><path d="M806.81 167.84L806.81 167.84L811.11 159.25L811.11 167.84Z"/><path d="M811.11 159.25L811.11 159.25L815.41 152.72L815.41 159.25Z"/><path d="M815.41 152.72L815.41 152.72L819.19 147.91L819.19 152.72Z"/><path d="M819.19 151L819.19 147.91L823.66 151L823.66 151Z"/><path d="M823.66 155.3L823.66 151L827.78 155.3L827.78 155.3Z"/><path d="M827.78 158.22L827.78 155.3L832.25 158.22L832.25 158.22Z"/><path d="M836.38 163.89L836.38 158.22L840.84 163.89L840.84 163.89Z"/><path d="M840.84 170.77L840.84 163.89L844.97 170.77L844.97 170.77Z"/><path d="M844.97 170.77L844.97 170.77L849.44 156.5L849.44 170.77Z"/><path d="M849.44 163.38L849.44 156.5L853.56 163.38L853.56 163.38Z"/><path d="M853.56 166.47L853.56 163.38L858.03 166.47L858.03 166.47Z"/><path d="M858.03 166.47L858.03 166.47L862.16 161.31L862.16 166.47Z"/><path d="M862.16 161.31L862.16 161.31L866.11 157.02L866.11 161.31Z"/><path d="M866.11 165.09L866.11 157.02L870.41 165.09L870.41 165.09Z"/><path d="M870.41 165.09L870.41 165.09L874.7 152.72L874.7 165.09Z"/><path d="M874.7 152.72L874.7 152.72L879.86 144.12L879.86 152.72Z"/><path d="M879.86 144.12L879.86 144.12L884.16 141.55L884.16 144.12Z"/><path d="M884.16 141.55L884.16 141.55L887.59 131.75L887.59 141.55Z"/><path d="M887.59 144.47L887.59 131.75L891.83 144.47L891.83 144.47Z"/><path d="M891.83 144.47L891.83 144.47L896.98 143.78L896.98 144.47Z"/><path d="M896.98 143.78L896.98 143.78L900.94 138.11L900.94 143.78Z"/><path d="M900.94 138.11L900.94 138.11L905.58 125.22L905.58 138.11Z"/><path d="M905.58 130.03L905.58 125.22L909.53 130.03L909.53 130.03Z"/><path d="M909.53 130.03L909.53 130.03L913.31 126.08L913.31 130.03Z"/><path d="M913.31 130.03L913.31 126.08L918.12 130.03L918.12 130.03Z"/><path d="M918.12 130.03L918.12 130.03L922.25 128.66L922.25 130.03Z"/><path d="M922.25 135.19L922.25 128.66L926.72 135.19L926.72 135.19Z"/><path d="M926.72 135.19L926.72 135.19L931.36 126.08L931.36 135.19Z"/><path d="M931.36 128.66L931.36 126.08L935.66 128.66L935.66 128.66Z"/><path d="M935.66 135.88L935.66 128.66L939.95 135.88L939.95 135.88Z"/><path d="M939.95 143.27L939.95 135.88L943.91 143.27L943.91 143.27Z"/><path d="M943.91 143.27L943.91 143.27L948.03 138.97L948.03 143.27Z"/><path d="M948.03 138.97L948.03 138.97L951.98 138.11L951.98 138.97Z"/><path d="M951.98 143.78L951.98 138.11L956.28 143.78L956.28 143.78Z"/><path d="M956.28 143.78L956.28 143.78L961.44 132.95L961.44 143.78Z"/><path d="M961.44 134.67L961.44 132.95L965.73 134.67L965.73 134.67Z"/><path d="M965.73 135.53L965.73 134.67L970.03 135.53L970.03 135.53Z"/><path d="M970.03 135.53L970.03 135.53L974.33 131.23L974.33 135.53Z"/><path d="M974.33 131.23L974.33 131.23L978.28 123.84L978.28 131.23Z"/><path d="M978.28 126.94L978.28 123.84L982.92 126.94L982.92 126.94Z"/><path d="M982.92 126.94L982.92 126.94L986.88 120.92L986.88 126.94Z"/><path d="M986.88 120.92L986.88 120.92L991.52 109.41L991.52 120.92Z"/><path d="M991.52 109.75L991.52 109.41L995.81 109.75L995.81 109.75Z"/><path d="M995.81 109.75L995.81 109.75L999.59 107.17L999.59 109.75Z"/><path d="M999.59 108.89L999.59 107.17L1004.06 108.89L1004.06 108.89Z"/><path d="M1004.06 115.77L1004.06 108.89L1008.7 115.77L1008.7 115.77Z"/><path d="M1008.7 115.77L1008.7 115.77L1012.66 106.31L1012.66 115.77Z"/></g>
<polygon points="552.25,206.2 552.25,188.47 560.84,177.64 564.28,200.5 569.44,194.31 573.56,196.03 578.03,195.69 582.67,193.11 586.97,194.83 591.27,198.78 594.7,200.84 599,193.97 603.3,191.39 607.59,200.5 611.89,199.98 616.19,198.78 620.48,195.69 624.78,188.81 629.42,178.16 633.38,197.75 637.67,192.25 641.97,191.39 646.27,194.83 650.56,193.11 654.86,193.97 659.5,190.19 663.97,190.19 668.61,197.75 672.91,190.19 676.69,189.67 681.16,185.72 685.8,177.12 690.09,180.22 694.39,187.09 698.34,175.92 702.47,182.8 707.28,186.75 711.58,181.94 715.88,183.66 720.53,184.52 724.66,178.16 729.12,178.84 733.25,184.52 737.2,182.28 741.5,187.44 745.8,181.94 750.44,174.2 754.39,171.97 758.69,164.75 762.98,174.2 766.94,173 771.58,175.41 775.88,175.41 780.17,169.56 784.12,166.81 788.25,174.2 793.41,155.3 797.88,164.41 802,166.81 806.81,167.84 811.11,159.25 815.41,152.72 819.19,147.91 823.66,151 827.78,155.3 832.25,158.22 836.38,158.22 840.84,163.89 844.97,170.77 849.44,156.5 853.56,163.38 858.03,166.47 862.16,161.31 866.11,157.02 870.41,165.09 874.7,152.72 879.86,144.12 884.16,141.55 887.59,131.75 891.83,144.47 896.98,143.78 900.94,138.11 905.58,125.22 909.53,130.03 913.31,126.08 918.12,130.03 922.25,128.66 926.72,135.19 931.36,126.08 935.66,128.66 939.95,135.88 943.91,143.27 948.03,138.97 951.98,138.11 956.28,143.78 961.44,132.95 965.73,134.67 970.03,135.53 974.33,131.23 978.28,123.84 982.92,126.94 986.88,120.92 991.52,109.41 995.81,109.75 999.59,107.17 1004.06,108.89 1008.7,115.77 1012.66,106.31 1012.66,206.2" fill="none" stroke="#b0141f" stroke-width="1.1" stroke-linejoin="round"/>
<text transform="translate(576.67,151.5) scale(0.86,1)" x="0" y="0" font-size="34.01" font-weight="bold" fill="#b0141f" letter-spacing="0.75" style="font-kerning:none">THRILLER</text>
<line x1="547.5" y1="216.3" x2="547.5" y2="322.5" stroke="#e6ecec" stroke-width="0.8"/>
<line x1="547.5" y1="322.5" x2="1014" y2="322.5" stroke="#e6ecec" stroke-width="0.8"/>
<line x1="547.5" y1="294.5" x2="1014" y2="294.5" stroke="#ebe8e8" stroke-width="0.8"/>
<line x1="547.5" y1="267.5" x2="1014" y2="267.5" stroke="#ebe8e8" stroke-width="0.8"/>
<line x1="547.5" y1="239.5" x2="1014" y2="239.5" stroke="#ebe8e8" stroke-width="0.8"/>
<text x="526.23" y="244.9" font-size="10" fill="#a8a8a8" textLength="13.3" lengthAdjust="spacingAndGlyphs">3%</text>
<text x="526.23" y="272" font-size="10" fill="#a8a8a8" textLength="13.3" lengthAdjust="spacingAndGlyphs">2%</text>
<text x="526.23" y="299.6" font-size="10" fill="#a8a8a8" textLength="13.3" lengthAdjust="spacingAndGlyphs">1%</text>
<text x="526.23" y="320.3" font-size="10" fill="#a8a8a8" textLength="13.3" lengthAdjust="spacingAndGlyphs">0%</text>
<g fill="#76b6ae"><path d="M551.73 322.5V275.25H556.03V322.5Z"/><path d="M556.03 322.5V289H560.84V322.5Z"/><path d="M560.84 322.5V291.92H564.97V322.5Z"/><path d="M564.97 322.5V294.16H569.44V322.5Z"/><path d="M569.44 322.5V294.16H573.22V322.5Z"/><path d="M573.22 322.5V298.28H577.52V322.5Z"/><path d="M577.52 322.5V298.28H582.16V322.5Z"/><path d="M582.16 322.5V298.28H586.62V322.5Z"/><path d="M586.62 322.5V289.34H590.75V322.5Z"/><path d="M590.75 322.5V283.33H594.7V322.5Z"/><path d="M594.7 322.5V300.52H599V322.5Z"/><path d="M599 322.5V311.34H603.81V322.5Z"/><path d="M603.81 322.5V311.34H607.94V322.5Z"/><path d="M607.94 322.5V290.2H612.23V322.5Z"/><path d="M612.23 322.5V296.22H616.19V322.5Z"/><path d="M616.19 322.5V315.47H620.48V322.5Z"/><path d="M620.48 322.5V315.47H625.12V322.5Z"/><path d="M625.12 322.5V313.06H629.59V322.5Z"/><path d="M629.59 322.5V312.55H633.72V322.5Z"/><path d="M633.72 322.5V312.55H637.67V322.5Z"/><path d="M637.67 322.5V305.67H641.97V322.5Z"/><path d="M641.97 322.5V303.09H646.78V322.5Z"/><path d="M646.78 322.5V301.72H650.91V322.5Z"/><path d="M650.91 322.5V301.72H655.38V322.5Z"/><path d="M655.38 322.5V293.12H659.5V322.5Z"/><path d="M659.5 322.5V311.34H664.31V322.5Z"/><path d="M664.31 322.5V311.34H668.61V322.5Z"/><path d="M668.61 322.5V302.75H672.56V322.5Z"/><path d="M672.56 322.5V301.72H676.69V322.5Z"/><path d="M676.69 322.5V308.25H681.5V322.5Z"/><path d="M681.5 322.5V314.27H685.8V322.5Z"/><path d="M685.8 322.5V314.27H689.75V322.5Z"/><path d="M689.75 322.5V314.27H693.88V322.5Z"/><path d="M693.88 322.5V297.59H698.34V322.5Z"/><path d="M698.34 322.5V318.56H702.47V322.5Z"/><path d="M702.47 322.5V318.56H706.94V322.5Z"/><path d="M706.94 322.5V313.41H711.58V322.5Z"/><path d="M711.58 322.5V310.83H715.88V322.5Z"/><path d="M715.88 322.5V310.83H720.53V322.5Z"/><path d="M720.53 322.5V305.67H723.97V322.5Z"/><path d="M723.97 322.5V292.78H729.12V322.5Z"/><path d="M729.12 322.5V292.78H732.91V322.5Z"/><path d="M732.91 322.5V269.58H737.2V322.5Z"/><path d="M737.2 322.5V275.59H741.5V322.5Z"/><path d="M741.5 322.5V275.59H745.8V322.5Z"/><path d="M745.8 322.5V257.55H750.09V322.5Z"/><path d="M750.09 322.5V248.95H754.73V322.5Z"/><path d="M754.73 322.5V253.25H759.03V322.5Z"/><path d="M759.03 322.5V279.38H762.98V322.5Z"/><path d="M762.98 322.5V279.38H767.28V322.5Z"/><path d="M767.28 322.5V272.5H772.09V322.5Z"/><path d="M772.09 322.5V273.88H776.22V322.5Z"/><path d="M776.22 322.5V276.45H780.17V322.5Z"/><path d="M780.17 322.5V276.45H784.47V322.5Z"/><path d="M784.47 322.5V252.39H788.77V322.5Z"/><path d="M788.77 322.5V246.03H793.41V322.5Z"/><path d="M793.41 322.5V258.06H797.88V322.5Z"/><path d="M797.88 322.5V264.42H802V322.5Z"/><path d="M802 322.5V275.94H806.47V322.5Z"/><path d="M806.47 322.5V275.94H810.59V322.5Z"/><path d="M810.59 322.5V275.94H815.06V322.5Z"/><path d="M815.06 322.5V277.66H819.19V322.5Z"/><path d="M819.19 322.5V277.66H823.14V322.5Z"/><path d="M823.14 322.5V274.73H827.44V322.5Z"/><path d="M827.44 322.5V279.38H831.73V322.5Z"/><path d="M831.73 322.5V279.38H836.38V322.5Z"/><path d="M836.38 322.5V264.42H840.84V322.5Z"/><path d="M840.84 322.5V264.42H844.97V322.5Z"/><path d="M844.97 322.5V251.19H848.92V322.5Z"/><path d="M848.92 322.5V267.86H853.22V322.5Z"/><path d="M853.22 322.5V267.86H857.52V322.5Z"/><path d="M857.52 322.5V260.98H862.16V322.5Z"/><path d="M862.16 322.5V250.67H866.11V322.5Z"/><path d="M866.11 322.5V261.5H870.41V322.5Z"/><path d="M870.41 322.5V261.5H874.7V322.5Z"/><path d="M874.7 322.5V235.2H879.34V322.5Z"/><path d="M879.34 322.5V234.69H883.81V322.5Z"/><path d="M883.81 322.5V237.78H887.94V322.5Z"/><path d="M887.94 322.5V238.12H892.34V322.5Z"/><path d="M892.34 322.5V246.38H896.98V322.5Z"/><path d="M896.98 322.5V254.97H901.28V322.5Z"/><path d="M901.28 322.5V254.97H905.58V322.5Z"/><path d="M905.58 322.5V258.06H909.53V322.5Z"/><path d="M909.53 322.5V258.06H913.66V322.5Z"/><path d="M913.66 322.5V223.17H918.12V322.5Z"/><path d="M918.12 322.5V224.38H922.25V322.5Z"/><path d="M922.25 322.5V247.23H926.72V322.5Z"/><path d="M926.72 322.5V260.12H931.36V322.5Z"/><path d="M931.36 322.5V263.22H935.31V322.5Z"/><path d="M935.31 322.5V263.22H939.95V322.5Z"/><path d="M939.95 322.5V269.58H944.25V322.5Z"/><path d="M944.25 322.5V269.58H948.03V322.5Z"/><path d="M948.03 322.5V268.72H951.98V322.5Z"/><path d="M951.98 322.5V270.78H956.62V322.5Z"/><path d="M956.62 322.5V273.53H961.44V322.5Z"/><path d="M961.44 322.5V273.53H965.73V322.5Z"/><path d="M965.73 322.5V268.38H970.03V322.5Z"/><path d="M970.03 322.5V268.38H974.33V322.5Z"/><path d="M974.33 322.5V256.69H978.28V322.5Z"/><path d="M978.28 322.5V247.75H982.92V322.5Z"/><path d="M982.92 322.5V248.95H986.88V322.5Z"/><path d="M986.88 322.5V248.95H991V322.5Z"/><path d="M991 322.5V239.5H995.47V322.5Z"/><path d="M995.47 322.5V239.5H999.59V322.5Z"/><path d="M999.59 322.5V243.8H1004.41V322.5Z"/><path d="M1004.41 322.5V243.8H1008.7V322.5Z"/><path d="M1008.7 322.5V237.78H1012.66V322.5Z"/><path d="M551.73 275.25L551.73 262.7L556.03 275.25L556.03 275.25Z"/><path d="M556.03 289L556.03 275.25L560.84 289L560.84 289Z"/><path d="M560.84 291.92L560.84 289L564.97 291.92L564.97 291.92Z"/><path d="M564.97 294.16L564.97 291.92L569.44 294.16L569.44 294.16Z"/><path d="M569.44 294.16L569.44 294.16L573.22 260.98L573.22 294.16Z"/><path d="M573.22 298.28L573.22 260.98L577.52 298.28L577.52 298.28Z"/><path d="M582.16 298.28L582.16 298.28L586.62 289.34L586.62 298.28Z"/><path d="M586.62 289.34L586.62 289.34L590.75 283.33L590.75 289.34Z"/><path d="M594.7 300.52L594.7 283.33L599 300.52L599 300.52Z"/><path d="M599 311.34L599 300.52L603.81 311.34L603.81 311.34Z"/><path d="M603.81 311.34L603.81 311.34L607.94 290.2L607.94 311.34Z"/><path d="M607.94 290.2L607.94 290.2L612.23 277.31L612.23 290.2Z"/><path d="M612.23 296.22L612.23 277.31L616.19 296.22L616.19 296.22Z"/><path d="M616.19 315.47L616.19 296.22L620.48 315.47L620.48 315.47Z"/><path d="M620.48 315.47L620.48 315.47L625.12 313.06L625.12 315.47Z"/><path d="M625.12 313.06L625.12 313.06L629.59 310.83L629.59 313.06Z"/><path d="M629.59 312.55L629.59 310.83L633.72 312.55L633.72 312.55Z"/><path d="M633.72 312.55L633.72 312.55L637.67 305.67L637.67 312.55Z"/><path d="M637.67 305.67L637.67 305.67L641.97 303.09L641.97 305.67Z"/><path d="M641.97 303.09L641.97 303.09L646.78 288.48L646.78 303.09Z"/><path d="M646.78 301.72L646.78 288.48L650.91 301.72L650.91 301.72Z"/><path d="M650.91 301.72L650.91 301.72L655.38 293.12L655.38 301.72Z"/><path d="M655.38 293.12L655.38 293.12L659.5 289.69L659.5 293.12Z"/><path d="M659.5 311.34L659.5 289.69L664.31 311.34L664.31 311.34Z"/><path d="M664.31 311.34L664.31 311.34L668.61 302.75L668.61 311.34Z"/><path d="M668.61 302.75L668.61 302.75L672.56 301.38L672.56 302.75Z"/><path d="M672.56 301.72L672.56 301.38L676.69 301.72L676.69 301.72Z"/><path d="M676.69 308.25L676.69 301.72L681.5 308.25L681.5 308.25Z"/><path d="M681.5 314.27L681.5 308.25L685.8 314.27L685.8 314.27Z"/><path d="M689.75 314.27L689.75 314.27L693.88 296.22L693.88 314.27Z"/><path d="M693.88 297.59L693.88 296.22L698.34 297.59L698.34 297.59Z"/><path d="M698.34 318.56L698.34 297.59L702.47 318.56L702.47 318.56Z"/><path d="M702.47 318.56L702.47 318.56L706.94 313.41L706.94 318.56Z"/><path d="M706.94 313.41L706.94 313.41L711.58 309.97L711.58 313.41Z"/><path d="M711.58 310.83L711.58 309.97L715.88 310.83L715.88 310.83Z"/><path d="M715.88 310.83L715.88 310.83L720.53 305.67L720.53 310.83Z"/><path d="M720.53 305.67L720.53 305.67L723.97 277.31L723.97 305.67Z"/><path d="M723.97 292.78L723.97 277.31L729.12 292.78L729.12 292.78Z"/><path d="M729.12 292.78L729.12 292.78L732.91 269.58L732.91 292.78Z"/><path d="M732.91 269.58L732.91 269.58L737.2 262.7L737.2 269.58Z"/><path d="M737.2 275.59L737.2 262.7L741.5 275.59L741.5 275.59Z"/><path d="M741.5 275.59L741.5 275.59L745.8 257.55L745.8 275.59Z"/><path d="M745.8 257.55L745.8 257.55L750.09 248.95L750.09 257.55Z"/><path d="M750.09 248.95L750.09 248.95L754.73 223.17L754.73 248.95Z"/><path d="M754.73 253.25L754.73 223.17L759.03 253.25L759.03 253.25Z"/><path d="M759.03 279.38L759.03 253.25L762.98 279.38L762.98 279.38Z"/><path d="M762.98 279.38L762.98 279.38L767.28 272.5L767.28 279.38Z"/><path d="M767.28 272.5L767.28 272.5L772.09 270.09L772.09 272.5Z"/><path d="M772.09 273.88L772.09 270.09L776.22 273.88L776.22 273.88Z"/><path d="M776.22 276.45L776.22 273.88L780.17 276.45L780.17 276.45Z"/><path d="M780.17 276.45L780.17 276.45L784.47 252.39L784.47 276.45Z"/><path d="M784.47 252.39L784.47 252.39L788.77 244.31L788.77 252.39Z"/><path d="M788.77 246.03L788.77 244.31L793.41 246.03L793.41 246.03Z"/><path d="M793.41 258.06L793.41 246.03L797.88 258.06L797.88 258.06Z"/><path d="M797.88 264.42L797.88 258.06L802 264.42L802 264.42Z"/><path d="M802 275.94L802 264.42L806.47 275.94L806.47 275.94Z"/><path d="M815.06 277.66L815.06 275.94L819.19 277.66L819.19 277.66Z"/><path d="M819.19 277.66L819.19 277.66L823.14 274.22L823.14 277.66Z"/><path d="M823.14 274.73L823.14 274.22L827.44 274.73L827.44 274.73Z"/><path d="M827.44 279.38L827.44 274.73L831.73 279.38L831.73 279.38Z"/><path d="M831.73 279.38L831.73 279.38L836.38 263.91L836.38 279.38Z"/><path d="M836.38 264.42L836.38 263.91L840.84 264.42L840.84 264.42Z"/><path d="M840.84 264.42L840.84 264.42L844.97 251.19L844.97 264.42Z"/><path d="M844.97 251.19L844.97 251.19L848.92 247.75L848.92 251.19Z"/><path d="M848.92 267.86L848.92 247.75L853.22 267.86L853.22 267.86Z"/><path d="M853.22 267.86L853.22 267.86L857.52 260.98L857.52 267.86Z"/><path d="M857.52 260.98L857.52 260.98L862.16 250.67L862.16 260.98Z"/><path d="M862.16 250.67L862.16 250.67L866.11 245.52L866.11 250.67Z"/><path d="M866.11 261.5L866.11 245.52L870.41 261.5L870.41 261.5Z"/><path d="M870.41 261.5L870.41 261.5L874.7 235.2L874.7 261.5Z"/><path d="M874.7 235.2L874.7 235.2L879.34 234.69L879.34 235.2Z"/><path d="M879.34 234.69L879.34 234.69L883.81 225.75L883.81 234.69Z"/><path d="M883.81 237.78L883.81 225.75L887.94 237.78L887.94 237.78Z"/><path d="M887.94 238.12L887.94 237.78L892.34 238.12L892.34 238.12Z"/><path d="M892.34 246.38L892.34 238.12L896.98 246.38L896.98 246.38Z"/><path d="M896.98 254.97L896.98 246.38L901.28 254.97L901.28 254.97Z"/><path d="M901.28 254.97L901.28 254.97L905.58 251.53L905.58 254.97Z"/><path d="M905.58 258.06L905.58 251.53L909.53 258.06L909.53 258.06Z"/><path d="M909.53 258.06L909.53 258.06L913.66 220.59L913.66 258.06Z"/><path d="M913.66 223.17L913.66 220.59L918.12 223.17L918.12 223.17Z"/><path d="M918.12 224.38L918.12 223.17L922.25 224.38L922.25 224.38Z"/><path d="M922.25 247.23L922.25 224.38L926.72 247.23L926.72 247.23Z"/><path d="M926.72 260.12L926.72 247.23L931.36 260.12L931.36 260.12Z"/><path d="M931.36 263.22L931.36 260.12L935.31 263.22L935.31 263.22Z"/><path d="M935.31 263.22L935.31 263.22L939.95 257.03L939.95 263.22Z"/><path d="M939.95 269.58L939.95 257.03L944.25 269.58L944.25 269.58Z"/><path d="M944.25 269.58L944.25 269.58L948.03 268.72L948.03 269.58Z"/><path d="M948.03 268.72L948.03 268.72L951.98 262.7L951.98 268.72Z"/><path d="M951.98 270.78L951.98 262.7L956.62 270.78L956.62 270.78Z"/><path d="M956.62 273.53L956.62 270.78L961.44 273.53L961.44 273.53Z"/><path d="M961.44 273.53L961.44 273.53L965.73 254.62L965.73 273.53Z"/><path d="M965.73 268.38L965.73 254.62L970.03 268.38L970.03 268.38Z"/><path d="M970.03 268.38L970.03 268.38L974.33 256.69L974.33 268.38Z"/><path d="M974.33 256.69L974.33 256.69L978.28 245.52L978.28 256.69Z"/><path d="M978.28 247.75L978.28 245.52L982.92 247.75L982.92 247.75Z"/><path d="M982.92 248.95L982.92 247.75L986.88 248.95L986.88 248.95Z"/><path d="M986.88 248.95L986.88 248.95L991 233.48L991 248.95Z"/><path d="M991 239.5L991 233.48L995.47 239.5L995.47 239.5Z"/><path d="M995.47 239.5L995.47 239.5L999.59 233.48L999.59 239.5Z"/><path d="M999.59 243.8L999.59 233.48L1004.41 243.8L1004.41 243.8Z"/><path d="M1004.41 243.8L1004.41 243.8L1008.7 237.78L1008.7 243.8Z"/><path d="M1008.7 237.78L1008.7 237.78L1012.66 236.41L1012.66 237.78Z"/></g>
<polygon points="551.73,322.5 551.73,262.7 556.03,275.25 560.84,289 564.97,291.92 569.44,294.16 573.22,260.98 577.52,298.28 582.16,298.28 586.62,289.34 590.75,283.33 594.7,283.33 599,300.52 603.81,311.34 607.94,290.2 612.23,277.31 616.19,296.22 620.48,315.47 625.12,313.06 629.59,310.83 633.72,312.55 637.67,305.67 641.97,303.09 646.78,288.48 650.91,301.72 655.38,293.12 659.5,289.69 664.31,311.34 668.61,302.75 672.56,301.38 676.69,301.72 681.5,308.25 685.8,314.27 689.75,314.27 693.88,296.22 698.34,297.59 702.47,318.56 706.94,313.41 711.58,309.97 715.88,310.83 720.53,305.67 723.97,277.31 729.12,292.78 732.91,269.58 737.2,262.7 741.5,275.59 745.8,257.55 750.09,248.95 754.73,223.17 759.03,253.25 762.98,279.38 767.28,272.5 772.09,270.09 776.22,273.88 780.17,276.45 784.47,252.39 788.77,244.31 793.41,246.03 797.88,258.06 802,264.42 806.47,275.94 810.59,275.94 815.06,275.94 819.19,277.66 823.14,274.22 827.44,274.73 831.73,279.38 836.38,263.91 840.84,264.42 844.97,251.19 848.92,247.75 853.22,267.86 857.52,260.98 862.16,250.67 866.11,245.52 870.41,261.5 874.7,235.2 879.34,234.69 883.81,225.75 887.94,237.78 892.34,238.12 896.98,246.38 901.28,254.97 905.58,251.53 909.53,258.06 913.66,220.59 918.12,223.17 922.25,224.38 926.72,247.23 931.36,260.12 935.31,263.22 939.95,257.03 944.25,269.58 948.03,268.72 951.98,262.7 956.62,270.78 961.44,273.53 965.73,254.62 970.03,268.38 974.33,256.69 978.28,245.52 982.92,247.75 986.88,248.95 991,233.48 995.47,239.5 999.59,233.48 1004.41,243.8 1008.7,237.78 1012.66,236.41 1012.66,322.5" fill="none" stroke="#4a4a4a" stroke-width="1.1" stroke-linejoin="round"/>
<text transform="translate(615.36,248.8) scale(0.86,1)" x="0" y="0" font-size="34.01" font-weight="bold" fill="#76b6ae" letter-spacing="0.38" style="font-kerning:none">SCI FI</text>
<line x1="547.5" y1="332" x2="547.5" y2="438" stroke="#e6ecec" stroke-width="0.8"/>
<line x1="547.5" y1="438" x2="1014" y2="438" stroke="#e6ecec" stroke-width="0.8"/>
<line x1="547.5" y1="407.5" x2="1014" y2="407.5" stroke="#ebe8e8" stroke-width="0.8"/>
<line x1="547.5" y1="378.5" x2="1014" y2="378.5" stroke="#ebe8e8" stroke-width="0.8"/>
<line x1="547.5" y1="347.5" x2="1014" y2="347.5" stroke="#ebe8e8" stroke-width="0.8"/>
<text x="521.11" y="352.4" font-size="10" fill="#a8a8a8" textLength="18.41" lengthAdjust="spacingAndGlyphs">15%</text>
<text x="521.11" y="382.6" font-size="10" fill="#a8a8a8" textLength="18.41" lengthAdjust="spacingAndGlyphs">10%</text>
<text x="526.23" y="413" font-size="10" fill="#a8a8a8" textLength="13.3" lengthAdjust="spacingAndGlyphs">5%</text>
<text x="526.23" y="435.6" font-size="10" fill="#a8a8a8" textLength="13.3" lengthAdjust="spacingAndGlyphs">0%</text>
<g fill="#624a30"><path d="M548.81 438V425.34H556.38V438Z"/><path d="M556.38 438V424.31H560.84V438Z"/><path d="M560.84 438V404.72H564.97V438Z"/><path d="M564.97 438V404.72H569.44V438Z"/><path d="M569.44 438V398.53H573.22V438Z"/><path d="M573.22 438V422.25H577.52V438Z"/><path d="M577.52 438V425.34H582.16V438Z"/><path d="M582.16 438V425.34H586.62V438Z"/><path d="M586.62 438V401.62H590.75V438Z"/><path d="M590.75 438V408.16H595.22V438Z"/><path d="M595.22 438V408.16H599.34V438Z"/><path d="M599.34 438V405.92H603.81V438Z"/><path d="M603.81 438V415.03H607.94V438Z"/><path d="M607.94 438V415.03H612.41V438Z"/><path d="M612.41 438V405.92H616.53V438Z"/><path d="M616.53 438V410.22H620.48V438Z"/><path d="M620.48 438V410.22H625.64V438Z"/><path d="M625.64 438V401.62H629.94V438Z"/><path d="M629.94 438V387.53H633.72V438Z"/><path d="M633.72 438V375.84H638.19V438Z"/><path d="M638.19 438V358.66H642.31V438Z"/><path d="M642.31 438V368.62H646.78V438Z"/><path d="M646.78 438V378.42H651.42V438Z"/><path d="M651.42 438V378.42H655.38V438Z"/><path d="M655.38 438V364.16H659.5V438Z"/><path d="M659.5 438V357.8H663.97V438Z"/><path d="M663.97 438V357.8H668.09V438Z"/><path d="M668.09 438V356.08H672.56V438Z"/><path d="M672.56 438V374.12H676.69V438Z"/><path d="M676.69 438V378.42H681.16V438Z"/><path d="M681.16 438V378.42H685.8V438Z"/><path d="M685.8 438V400.77H690.09V438Z"/><path d="M690.09 438V400.77H694.39V438Z"/><path d="M694.39 438V377.56H699.03V438Z"/><path d="M699.03 438V371.03H702.98V438Z"/><path d="M702.98 438V348H707.62V438Z"/><path d="M707.62 438V353.5H711.58V438Z"/><path d="M711.58 438V353.5H715.88V438Z"/><path d="M715.88 438V344.56H720.02V438Z"/><path d="M720.02 438V356.94H724.31V438Z"/><path d="M724.31 438V377.56H729.12V438Z"/><path d="M729.12 438V377.56H733.25V438Z"/><path d="M733.25 438V377.56H737.2V438Z"/><path d="M737.2 438V370.69H741.5V438Z"/><path d="M741.5 438V372.06H745.8V438Z"/><path d="M745.8 438V372.06H750.09V438Z"/><path d="M750.09 438V371.03H754.39V438Z"/><path d="M754.39 438V372.41H758.69V438Z"/><path d="M758.69 438V372.41H762.98V438Z"/><path d="M762.98 438V377.22H766.94V438Z"/><path d="M766.94 438V381.86H771.58V438Z"/><path d="M771.58 438V383.58H775.88V438Z"/><path d="M775.88 438V383.58H780.17V438Z"/><path d="M780.17 438V390.45H784.12V438Z"/><path d="M784.12 438V390.45H788.77V438Z"/><path d="M788.77 438V372.75H793.41V438Z"/><path d="M793.41 438V376.7H797.88V438Z"/><path d="M797.88 438V376.7H802V438Z"/><path d="M802 438V390.45H806.47V438Z"/><path d="M806.47 438V390.45H810.59V438Z"/><path d="M810.59 438V386.5H815.06V438Z"/><path d="M815.06 438V377.56H819.19V438Z"/><path d="M819.19 438V371.03H823.14V438Z"/><path d="M823.14 438V377.22H827.09V438Z"/><path d="M827.09 438V377.22H831.73V438Z"/><path d="M831.73 438V380.14H836.03V438Z"/><path d="M836.03 438V386.5H840.84V438Z"/><path d="M840.84 438V391.66H844.97V438Z"/><path d="M844.97 438V393.38H849.44V438Z"/><path d="M849.44 438V394.75H853.56V438Z"/><path d="M853.56 438V394.75H858.03V438Z"/><path d="M858.03 438V398.19H862.16V438Z"/><path d="M862.16 438V398.19H866.62V438Z"/><path d="M866.62 438V389.94H870.75V438Z"/><path d="M870.75 438V389.25H875.22V438Z"/><path d="M875.22 438V383.58H879.34V438Z"/><path d="M879.34 438V385.3H883.81V438Z"/><path d="M883.81 438V385.3H887.94V438Z"/><path d="M887.94 438V374.98H891.83V438Z"/><path d="M891.83 438V383.06H896.47V438Z"/><path d="M896.47 438V383.06H900.94V438Z"/><path d="M900.94 438V381.86H905.06V438Z"/><path d="M905.06 438V382.38H909.53V438Z"/><path d="M909.53 438V383.58H914.17V438Z"/><path d="M914.17 438V384.44H918.47V438Z"/><path d="M918.47 438V387.02H922.77V438Z"/><path d="M922.77 438V387.02H927.06V438Z"/><path d="M927.06 438V385.3H931.36V438Z"/><path d="M931.36 438V385.3H935.31V438Z"/><path d="M935.31 438V384.44H939.95V438Z"/><path d="M939.95 438V385.81H943.91V438Z"/><path d="M943.91 438V394.75H948.55V438Z"/><path d="M948.55 438V399.05H952.84V438Z"/><path d="M952.84 438V399.56H957.14V438Z"/><path d="M957.14 438V399.56H961.44V438Z"/><path d="M961.44 438V396.47H965.73V438Z"/><path d="M965.73 438V399.05H970.03V438Z"/><path d="M970.03 438V399.56H974.33V438Z"/><path d="M974.33 438V401.97H978.62V438Z"/><path d="M978.62 438V401.97H982.92V438Z"/><path d="M982.92 438V401.62H987.22V438Z"/><path d="M987.22 438V401.62H991.52V438Z"/><path d="M991.52 438V401.97H995.81V438Z"/><path d="M995.81 438V401.97H1000.11V438Z"/><path d="M1000.11 438V400.77H1004.41V438Z"/><path d="M1004.41 438V401.28H1008.7V438Z"/><path d="M1008.7 438V404.72H1012.66V438Z"/><path d="M548.81 425.34L548.81 425.34L556.38 424.31L556.38 425.34Z"/><path d="M556.38 424.31L556.38 424.31L560.84 373.27L560.84 424.31Z"/><path d="M560.84 404.72L560.84 373.27L564.97 404.72L564.97 404.72Z"/><path d="M564.97 404.72L564.97 404.72L569.44 398.53L569.44 404.72Z"/><path d="M569.44 398.53L569.44 398.53L573.22 389.94L573.22 398.53Z"/><path d="M573.22 422.25L573.22 389.94L577.52 422.25L577.52 422.25Z"/><path d="M577.52 425.34L577.52 422.25L582.16 425.34L582.16 425.34Z"/><path d="M582.16 425.34L582.16 425.34L586.62 395.09L586.62 425.34Z"/><path d="M586.62 401.62L586.62 395.09L590.75 401.62L590.75 401.62Z"/><path d="M590.75 408.16L590.75 401.62L595.22 408.16L595.22 408.16Z"/><path d="M595.22 408.16L595.22 408.16L599.34 405.92L599.34 408.16Z"/><path d="M599.34 405.92L599.34 405.92L603.81 405.41L603.81 405.92Z"/><path d="M603.81 415.03L603.81 405.41L607.94 415.03L607.94 415.03Z"/><path d="M607.94 415.03L607.94 415.03L612.41 405.06L612.41 415.03Z"/><path d="M612.41 405.92L612.41 405.06L616.53 405.92L616.53 405.92Z"/><path d="M616.53 410.22L616.53 405.92L620.48 410.22L620.48 410.22Z"/><path d="M620.48 410.22L620.48 410.22L625.64 401.62L625.64 410.22Z"/><path d="M625.64 401.62L625.64 401.62L629.94 387.53L629.94 401.62Z"/><path d="M629.94 387.53L629.94 387.53L633.72 375.84L633.72 387.53Z"/><path d="M633.72 375.84L633.72 375.84L638.19 351.78L638.19 375.84Z"/><path d="M638.19 358.66L638.19 351.78L642.31 358.66L642.31 358.66Z"/><path d="M642.31 368.62L642.31 358.66L646.78 368.62L646.78 368.62Z"/><path d="M646.78 378.42L646.78 368.62L651.42 378.42L651.42 378.42Z"/><path d="M651.42 378.42L651.42 378.42L655.38 364.16L655.38 378.42Z"/><path d="M655.38 364.16L655.38 364.16L659.5 357.28L659.5 364.16Z"/><path d="M659.5 357.8L659.5 357.28L663.97 357.8L663.97 357.8Z"/><path d="M663.97 357.8L663.97 357.8L668.09 356.08L668.09 357.8Z"/><path d="M668.09 356.08L668.09 356.08L672.56 339.41L672.56 356.08Z"/><path d="M672.56 374.12L672.56 339.41L676.69 374.12L676.69 374.12Z"/><path d="M676.69 378.42L676.69 374.12L681.16 378.42L681.16 378.42Z"/><path d="M681.16 378.42L681.16 378.42L685.8 371.55L685.8 378.42Z"/><path d="M685.8 400.77L685.8 371.55L690.09 400.77L690.09 400.77Z"/><path d="M690.09 400.77L690.09 400.77L694.39 377.56L694.39 400.77Z"/><path d="M694.39 377.56L694.39 377.56L699.03 371.03L699.03 377.56Z"/><path d="M699.03 371.03L699.03 371.03L702.98 348L702.98 371.03Z"/><path d="M702.98 348L702.98 348L707.62 338.38L707.62 348Z"/><path d="M707.62 353.5L707.62 338.38L711.58 353.5L711.58 353.5Z"/><path d="M711.58 353.5L711.58 353.5L715.88 344.56L715.88 353.5Z"/><path d="M715.88 344.56L715.88 344.56L720.02 336.66L720.02 344.56Z"/><path d="M720.02 356.94L720.02 336.66L724.31 356.94L724.31 356.94Z"/><path d="M724.31 377.56L724.31 356.94L729.12 377.56L729.12 377.56Z"/><path d="M733.25 377.56L733.25 377.56L737.2 370.69L737.2 377.56Z"/><path d="M737.2 370.69L737.2 370.69L741.5 359L741.5 370.69Z"/><path d="M741.5 372.06L741.5 359L745.8 372.06L745.8 372.06Z"/><path d="M745.8 372.06L745.8 372.06L750.09 359L750.09 372.06Z"/><path d="M750.09 371.03L750.09 359L754.39 371.03L754.39 371.03Z"/><path d="M754.39 372.41L754.39 371.03L758.69 372.41L758.69 372.41Z"/><path d="M758.69 372.41L758.69 372.41L762.98 357.8L762.98 372.41Z"/><path d="M762.98 377.22L762.98 357.8L766.94 377.22L766.94 377.22Z"/><path d="M766.94 381.86L766.94 377.22L771.58 381.86L771.58 381.86Z"/><path d="M771.58 383.58L771.58 381.86L775.88 383.58L775.88 383.58Z"/><path d="M775.88 383.58L775.88 383.58L780.17 378.42L780.17 383.58Z"/><path d="M780.17 390.45L780.17 378.42L784.12 390.45L784.12 390.45Z"/><path d="M784.12 390.45L784.12 390.45L788.77 372.75L788.77 390.45Z"/><path d="M788.77 372.75L788.77 372.75L793.41 364.16L793.41 372.75Z"/><path d="M793.41 376.7L793.41 364.16L797.88 376.7L797.88 376.7Z"/><path d="M797.88 376.7L797.88 376.7L802 374.47L802 376.7Z"/><path d="M802 390.45L802 374.47L806.47 390.45L806.47 390.45Z"/><path d="M806.47 390.45L806.47 390.45L810.59 386.5L810.59 390.45Z"/><path d="M810.59 386.5L810.59 386.5L815.06 377.56L815.06 386.5Z"/><path d="M815.06 377.56L815.06 377.56L819.19 360.38L819.19 377.56Z"/><path d="M819.19 371.03L819.19 360.38L823.14 371.03L823.14 371.03Z"/><path d="M823.14 377.22L823.14 371.03L827.09 377.22L827.09 377.22Z"/><path d="M827.09 377.22L827.09 377.22L831.73 371.55L831.73 377.22Z"/><path d="M831.73 380.14L831.73 371.55L836.03 380.14L836.03 380.14Z"/><path d="M836.03 386.5L836.03 380.14L840.84 386.5L840.84 386.5Z"/><path d="M840.84 391.66L840.84 386.5L844.97 391.66L844.97 391.66Z"/><path d="M844.97 393.38L844.97 391.66L849.44 393.38L849.44 393.38Z"/><path d="M849.44 394.75L849.44 393.38L853.56 394.75L853.56 394.75Z"/><path d="M853.56 394.75L853.56 394.75L858.03 393.38L858.03 394.75Z"/><path d="M858.03 398.19L858.03 393.38L862.16 398.19L862.16 398.19Z"/><path d="M862.16 398.19L862.16 398.19L866.62 389.94L866.62 398.19Z"/><path d="M866.62 389.94L866.62 389.94L870.75 389.25L870.75 389.94Z"/><path d="M870.75 389.25L870.75 389.25L875.22 383.58L875.22 389.25Z"/><path d="M875.22 383.58L875.22 383.58L879.34 382.72L879.34 383.58Z"/><path d="M879.34 385.3L879.34 382.72L883.81 385.3L883.81 385.3Z"/><path d="M883.81 385.3L883.81 385.3L887.94 374.98L887.94 385.3Z"/><path d="M887.94 374.98L887.94 374.98L891.83 371.55L891.83 374.98Z"/><path d="M891.83 383.06L891.83 371.55L896.47 383.06L896.47 383.06Z"/><path d="M896.47 383.06L896.47 383.06L900.94 381.86L900.94 383.06Z"/><path d="M900.94 381.86L900.94 381.86L905.06 377.56L905.06 381.86Z"/><path d="M905.06 382.38L905.06 377.56L909.53 382.38L909.53 382.38Z"/><path d="M909.53 383.58L909.53 382.38L914.17 383.58L914.17 383.58Z"/><path d="M914.17 384.44L914.17 383.58L918.47 384.44L918.47 384.44Z"/><path d="M918.47 387.02L918.47 384.44L922.77 387.02L922.77 387.02Z"/><path d="M922.77 387.02L922.77 387.02L927.06 380.14L927.06 387.02Z"/><path d="M927.06 385.3L927.06 380.14L931.36 385.3L931.36 385.3Z"/><path d="M931.36 385.3L931.36 385.3L935.31 378.94L935.31 385.3Z"/><path d="M935.31 384.44L935.31 378.94L939.95 384.44L939.95 384.44Z"/><path d="M939.95 385.81L939.95 384.44L943.91 385.81L943.91 385.81Z"/><path d="M943.91 394.75L943.91 385.81L948.55 394.75L948.55 394.75Z"/><path d="M948.55 399.05L948.55 394.75L952.84 399.05L952.84 399.05Z"/><path d="M952.84 399.56L952.84 399.05L957.14 399.56L957.14 399.56Z"/><path d="M957.14 399.56L957.14 399.56L961.44 396.47L961.44 399.56Z"/><path d="M961.44 396.47L961.44 396.47L965.73 392.17L965.73 396.47Z"/><path d="M965.73 399.05L965.73 392.17L970.03 399.05L970.03 399.05Z"/><path d="M970.03 399.56L970.03 399.05L974.33 399.56L974.33 399.56Z"/><path d="M974.33 401.97L974.33 399.56L978.62 401.97L978.62 401.97Z"/><path d="M978.62 401.97L978.62 401.97L982.92 400.25L982.92 401.97Z"/><path d="M982.92 401.62L982.92 400.25L987.22 401.62L987.22 401.62Z"/><path d="M987.22 401.62L987.22 401.62L991.52 400.25L991.52 401.62Z"/><path d="M991.52 401.97L991.52 400.25L995.81 401.97L995.81 401.97Z"/><path d="M995.81 401.97L995.81 401.97L1000.11 400.77L1000.11 401.97Z"/><path d="M1000.11 400.77L1000.11 400.77L1004.41 397.33L1004.41 400.77Z"/><path d="M1004.41 401.28L1004.41 397.33L1008.7 401.28L1008.7 401.28Z"/><path d="M1008.7 404.72L1008.7 401.28L1012.66 404.72L1012.66 404.72Z"/></g>
<polygon points="548.81,438 548.81,425.34 556.38,424.31 560.84,373.27 564.97,404.72 569.44,398.53 573.22,389.94 577.52,422.25 582.16,425.34 586.62,395.09 590.75,401.62 595.22,408.16 599.34,405.92 603.81,405.41 607.94,415.03 612.41,405.06 616.53,405.92 620.48,410.22 625.64,401.62 629.94,387.53 633.72,375.84 638.19,351.78 642.31,358.66 646.78,368.62 651.42,378.42 655.38,364.16 659.5,357.28 663.97,357.8 668.09,356.08 672.56,339.41 676.69,374.12 681.16,378.42 685.8,371.55 690.09,400.77 694.39,377.56 699.03,371.03 702.98,348 707.62,338.38 711.58,353.5 715.88,344.56 720.02,336.66 724.31,356.94 729.12,377.56 733.25,377.56 737.2,370.69 741.5,359 745.8,372.06 750.09,359 754.39,371.03 758.69,372.41 762.98,357.8 766.94,377.22 771.58,381.86 775.88,383.58 780.17,378.42 784.12,390.45 788.77,372.75 793.41,364.16 797.88,376.7 802,374.47 806.47,390.45 810.59,386.5 815.06,377.56 819.19,360.38 823.14,371.03 827.09,377.22 831.73,371.55 836.03,380.14 840.84,386.5 844.97,391.66 849.44,393.38 853.56,394.75 858.03,393.38 862.16,398.19 866.62,389.94 870.75,389.25 875.22,383.58 879.34,382.72 883.81,385.3 887.94,374.98 891.83,371.55 896.47,383.06 900.94,381.86 905.06,377.56 909.53,382.38 914.17,383.58 918.47,384.44 922.77,387.02 927.06,380.14 931.36,385.3 935.31,378.94 939.95,384.44 943.91,385.81 948.55,394.75 952.84,399.05 957.14,399.56 961.44,396.47 965.73,392.17 970.03,399.05 974.33,399.56 978.62,401.97 982.92,400.25 987.22,401.62 991.52,400.25 995.81,401.97 1000.11,400.77 1004.41,397.33 1008.7,401.28 1012.66,404.72 1012.66,438" fill="none" stroke="#e2bd45" stroke-width="1.1" stroke-linejoin="round"/>
<text transform="translate(902.9,364.9) scale(0.86,1)" x="0" y="0" font-size="34.01" font-weight="bold" fill="#624a30" letter-spacing="1.8" style="font-kerning:none">CRIME</text>
<line x1="547.5" y1="447" x2="547.5" y2="552.2" stroke="#e6ecec" stroke-width="0.8"/>
<line x1="547.5" y1="552.2" x2="1014" y2="552.2" stroke="#e6ecec" stroke-width="0.8"/>
<line x1="547.5" y1="527.5" x2="1014" y2="527.5" stroke="#ebe8e8" stroke-width="0.8"/>
<line x1="547.5" y1="501.5" x2="1014" y2="501.5" stroke="#ebe8e8" stroke-width="0.8"/>
<line x1="547.5" y1="476.5" x2="1014" y2="476.5" stroke="#ebe8e8" stroke-width="0.8"/>
<line x1="547.5" y1="450.5" x2="1014" y2="450.5" stroke="#ebe8e8" stroke-width="0.8"/>
<text x="521.11" y="459" font-size="10" fill="#a8a8a8" textLength="18.41" lengthAdjust="spacingAndGlyphs">40%</text>
<text x="521.11" y="481.4" font-size="10" fill="#a8a8a8" textLength="18.41" lengthAdjust="spacingAndGlyphs">30%</text>
<text x="521.11" y="507.4" font-size="10" fill="#a8a8a8" textLength="18.41" lengthAdjust="spacingAndGlyphs">20%</text>
<text x="521.11" y="532.5" font-size="10" fill="#a8a8a8" textLength="18.41" lengthAdjust="spacingAndGlyphs">10%</text>
<text x="526.23" y="550.3" font-size="10" fill="#a8a8a8" textLength="13.3" lengthAdjust="spacingAndGlyphs">0%</text>
<g fill="#ebc84b"><path d="M548.3 552.2V548.22H552.25V552.2Z"/><path d="M552.25 552.2V548.22H556.03V552.2Z"/><path d="M556.03 552.2V546.84H560.84V552.2Z"/><path d="M560.84 552.2V535.67H564.97V552.2Z"/><path d="M564.97 552.2V529.66H569.44V552.2Z"/><path d="M569.44 552.2V523.64H573.56V552.2Z"/><path d="M573.56 552.2V521.06H578.03V552.2Z"/><path d="M578.03 552.2V517.97H582.16V552.2Z"/><path d="M582.16 552.2V511.61H586.62V552.2Z"/><path d="M586.62 552.2V516.25H590.75V552.2Z"/><path d="M590.75 552.2V516.25H594.7V552.2Z"/><path d="M594.7 552.2V523.12H599V552.2Z"/><path d="M599 552.2V523.12H603.3V552.2Z"/><path d="M603.3 552.2V512.81H607.94V552.2Z"/><path d="M607.94 552.2V503.88H612.41V552.2Z"/><path d="M612.41 552.2V499.58H616.53V552.2Z"/><path d="M616.53 552.2V494.42H621V552.2Z"/><path d="M621 552.2V503.02H625.64V552.2Z"/><path d="M625.64 552.2V503.02H629.59V552.2Z"/><path d="M629.59 552.2V503.02H633.72V552.2Z"/><path d="M633.72 552.2V481.53H637.67V552.2Z"/><path d="M637.67 552.2V483.25H641.97V552.2Z"/><path d="M641.97 552.2V483.25H646.78V552.2Z"/><path d="M646.78 552.2V473.28H651.42V552.2Z"/><path d="M651.42 552.2V466.41H655.72V552.2Z"/><path d="M655.72 552.2V467.78H659.5V552.2Z"/><path d="M659.5 552.2V467.78H664.31V552.2Z"/><path d="M664.31 552.2V466.06H668.61V552.2Z"/><path d="M668.61 552.2V475H672.56V552.2Z"/><path d="M672.56 552.2V475H676.69V552.2Z"/><path d="M676.69 552.2V462.97H681.16V552.2Z"/><path d="M681.16 552.2V466.92H685.8V552.2Z"/><path d="M685.8 552.2V466.92H690.09V552.2Z"/><path d="M690.09 552.2V470.88H694.39V552.2Z"/><path d="M694.39 552.2V481.53H698.69V552.2Z"/><path d="M698.69 552.2V486.69H702.98V552.2Z"/><path d="M702.98 552.2V490.12H707.28V552.2Z"/><path d="M707.28 552.2V491.84H711.58V552.2Z"/><path d="M711.58 552.2V491.84H715.53V552.2Z"/><path d="M715.53 552.2V490.47H720.02V552.2Z"/><path d="M720.02 552.2V490.47H724.31V552.2Z"/><path d="M724.31 552.2V480.67H729.12V552.2Z"/><path d="M729.12 552.2V481.19H733.25V552.2Z"/><path d="M733.25 552.2V485.31H737.72V552.2Z"/><path d="M737.72 552.2V485.31H741.5V552.2Z"/><path d="M741.5 552.2V482.91H745.8V552.2Z"/><path d="M745.8 552.2V487.55H750.44V552.2Z"/><path d="M750.44 552.2V487.55H754.73V552.2Z"/><path d="M754.73 552.2V482.39H759.03V552.2Z"/><path d="M759.03 552.2V482.39H762.98V552.2Z"/><path d="M762.98 552.2V482.39H767.28V552.2Z"/><path d="M767.28 552.2V482.39H772.09V552.2Z"/><path d="M772.09 552.2V479.47H776.22V552.2Z"/><path d="M776.22 552.2V478.09H780.17V552.2Z"/><path d="M780.17 552.2V485.31H784.47V552.2Z"/><path d="M784.47 552.2V485.31H788.77V552.2Z"/><path d="M788.77 552.2V485.31H793.06V552.2Z"/><path d="M793.06 552.2V491.5H797.88V552.2Z"/><path d="M797.88 552.2V491.5H802V552.2Z"/><path d="M802 552.2V489.78H805.95V552.2Z"/><path d="M805.95 552.2V490.47H810.59V552.2Z"/><path d="M810.59 552.2V490.47H815.06V552.2Z"/><path d="M815.06 552.2V491.5H819.19V552.2Z"/><path d="M819.19 552.2V491.5H823.14V552.2Z"/><path d="M823.14 552.2V488.41H827.44V552.2Z"/><path d="M827.44 552.2V487.55H831.73V552.2Z"/><path d="M831.73 552.2V495.62H836.38V552.2Z"/><path d="M836.38 552.2V495.62H840.84V552.2Z"/><path d="M840.84 552.2V494.42H844.97V552.2Z"/><path d="M844.97 552.2V490.47H849.44V552.2Z"/><path d="M849.44 552.2V490.47H853.56V552.2Z"/><path d="M853.56 552.2V490.47H857.52V552.2Z"/><path d="M857.52 552.2V492.19H862.16V552.2Z"/><path d="M862.16 552.2V492.19H866.62V552.2Z"/><path d="M866.62 552.2V489.78H870.75V552.2Z"/><path d="M870.75 552.2V490.98H875.22V552.2Z"/><path d="M875.22 552.2V492.7H879.34V552.2Z"/><path d="M879.34 552.2V492.7H883.81V552.2Z"/><path d="M883.81 552.2V492.7H887.94V552.2Z"/><path d="M887.94 552.2V492.7H892.34V552.2Z"/><path d="M892.34 552.2V489.78H896.98V552.2Z"/><path d="M896.98 552.2V488.06H900.94V552.2Z"/><path d="M900.94 552.2V490.98H905.06V552.2Z"/><path d="M905.06 552.2V490.98H909.02V552.2Z"/><path d="M909.02 552.2V494.42H913.31V552.2Z"/><path d="M913.31 552.2V494.42H918.12V552.2Z"/><path d="M918.12 552.2V487.03H922.77V552.2Z"/><path d="M922.77 552.2V485.31H926.72V552.2Z"/><path d="M926.72 552.2V485.31H930.84V552.2Z"/><path d="M930.84 552.2V484.62H935.31V552.2Z"/><path d="M935.31 552.2V484.97H939.95V552.2Z"/><path d="M939.95 552.2V486.34H943.91V552.2Z"/><path d="M943.91 552.2V486.34H948.55V552.2Z"/><path d="M948.55 552.2V485.83H952.5V552.2Z"/><path d="M952.5 552.2V487.55H957.14V552.2Z"/><path d="M957.14 552.2V489.27H961.44V552.2Z"/><path d="M961.44 552.2V491.84H965.73V552.2Z"/><path d="M965.73 552.2V493.22H970.03V552.2Z"/><path d="M970.03 552.2V493.22H974.33V552.2Z"/><path d="M974.33 552.2V493.22H978.62V552.2Z"/><path d="M978.62 552.2V493.22H982.92V552.2Z"/><path d="M982.92 552.2V493.22H987.22V552.2Z"/><path d="M987.22 552.2V493.22H991.52V552.2Z"/><path d="M991.52 552.2V493.22H995.81V552.2Z"/><path d="M995.81 552.2V494.42H1000.11V552.2Z"/><path d="M1000.11 552.2V494.42H1004.41V552.2Z"/><path d="M1004.41 552.2V495.28H1008.7V552.2Z"/><path d="M1008.7 552.2V495.28H1012.66V552.2Z"/><path d="M548.3 548.22L548.3 543.75L552.25 548.22L552.25 548.22Z"/><path d="M552.25 548.22L552.25 548.22L556.03 546.84L556.03 548.22Z"/><path d="M556.03 546.84L556.03 546.84L560.84 535.67L560.84 546.84Z"/><path d="M560.84 535.67L560.84 535.67L564.97 529.66L564.97 535.67Z"/><path d="M564.97 529.66L564.97 529.66L569.44 523.64L569.44 529.66Z"/><path d="M569.44 523.64L569.44 523.64L573.56 521.06L573.56 523.64Z"/><path d="M573.56 521.06L573.56 521.06L578.03 517.97L578.03 521.06Z"/><path d="M578.03 517.97L578.03 517.97L582.16 505.59L582.16 517.97Z"/><path d="M582.16 511.61L582.16 505.59L586.62 511.61L586.62 511.61Z"/><path d="M586.62 516.25L586.62 511.61L590.75 516.25L590.75 516.25Z"/><path d="M590.75 516.25L590.75 516.25L594.7 515.56L594.7 516.25Z"/><path d="M594.7 523.12L594.7 515.56L599 523.12L599 523.12Z"/><path d="M599 523.12L599 523.12L603.3 512.81L603.3 523.12Z"/><path d="M603.3 512.81L603.3 512.81L607.94 503.88L607.94 512.81Z"/><path d="M607.94 503.88L607.94 503.88L612.41 499.58L612.41 503.88Z"/><path d="M612.41 499.58L612.41 499.58L616.53 486.34L616.53 499.58Z"/><path d="M616.53 494.42L616.53 486.34L621 494.42L621 494.42Z"/><path d="M621 503.02L621 494.42L625.64 503.02L625.64 503.02Z"/><path d="M629.59 503.02L629.59 503.02L633.72 470.88L633.72 503.02Z"/><path d="M633.72 481.53L633.72 470.88L637.67 481.53L637.67 481.53Z"/><path d="M637.67 483.25L637.67 481.53L641.97 483.25L641.97 483.25Z"/><path d="M641.97 483.25L641.97 483.25L646.78 473.28L646.78 483.25Z"/><path d="M646.78 473.28L646.78 473.28L651.42 465.2L651.42 473.28Z"/><path d="M651.42 466.41L651.42 465.2L655.72 466.41L655.72 466.41Z"/><path d="M655.72 467.78L655.72 466.41L659.5 467.78L659.5 467.78Z"/><path d="M659.5 467.78L659.5 467.78L664.31 461.77L664.31 467.78Z"/><path d="M664.31 466.06L664.31 461.77L668.61 466.06L668.61 466.06Z"/><path d="M668.61 475L668.61 466.06L672.56 475L672.56 475Z"/><path d="M672.56 475L672.56 475L676.69 462.97L676.69 475Z"/><path d="M676.69 462.97L676.69 462.97L681.16 452.31L681.16 462.97Z"/><path d="M681.16 466.92L681.16 452.31L685.8 466.92L685.8 466.92Z"/><path d="M685.8 466.92L685.8 466.92L690.09 466.41L690.09 466.92Z"/><path d="M690.09 470.88L690.09 466.41L694.39 470.88L694.39 470.88Z"/><path d="M694.39 481.53L694.39 470.88L698.69 481.53L698.69 481.53Z"/><path d="M698.69 486.69L698.69 481.53L702.98 486.69L702.98 486.69Z"/><path d="M702.98 490.12L702.98 486.69L707.28 490.12L707.28 490.12Z"/><path d="M707.28 491.84L707.28 490.12L711.58 491.84L711.58 491.84Z"/><path d="M711.58 491.84L711.58 491.84L715.53 481.19L715.53 491.84Z"/><path d="M715.53 490.47L715.53 481.19L720.02 490.47L720.02 490.47Z"/><path d="M720.02 490.47L720.02 490.47L724.31 480.67L724.31 490.47Z"/><path d="M724.31 480.67L724.31 480.67L729.12 473.8L729.12 480.67Z"/><path d="M729.12 481.19L729.12 473.8L733.25 481.19L733.25 481.19Z"/><path d="M733.25 485.31L733.25 481.19L737.72 485.31L737.72 485.31Z"/><path d="M737.72 485.31L737.72 485.31L741.5 481.88L741.5 485.31Z"/><path d="M741.5 482.91L741.5 481.88L745.8 482.91L745.8 482.91Z"/><path d="M745.8 487.55L745.8 482.91L750.44 487.55L750.44 487.55Z"/><path d="M750.44 487.55L750.44 487.55L754.73 480.67L754.73 487.55Z"/><path d="M754.73 482.39L754.73 480.67L759.03 482.39L759.03 482.39Z"/><path d="M759.03 482.39L759.03 482.39L762.98 479.47L762.98 482.39Z"/><path d="M762.98 482.39L762.98 479.47L767.28 482.39L767.28 482.39Z"/><path d="M767.28 482.39L767.28 482.39L772.09 479.47L772.09 482.39Z"/><path d="M772.09 479.47L772.09 479.47L776.22 476.72L776.22 479.47Z"/><path d="M776.22 478.09L776.22 476.72L780.17 478.09L780.17 478.09Z"/><path d="M780.17 485.31L780.17 478.09L784.47 485.31L784.47 485.31Z"/><path d="M788.77 485.31L788.77 485.31L793.06 483.59L793.06 485.31Z"/><path d="M793.06 491.5L793.06 483.59L797.88 491.5L797.88 491.5Z"/><path d="M797.88 491.5L797.88 491.5L802 489.78L802 491.5Z"/><path d="M802 489.78L802 489.78L805.95 487.03L805.95 489.78Z"/><path d="M805.95 490.47L805.95 487.03L810.59 490.47L810.59 490.47Z"/><path d="M810.59 490.47L810.59 490.47L815.06 487.03L815.06 490.47Z"/><path d="M815.06 491.5L815.06 487.03L819.19 491.5L819.19 491.5Z"/><path d="M819.19 491.5L819.19 491.5L823.14 488.41L823.14 491.5Z"/><path d="M823.14 488.41L823.14 488.41L827.44 481.88L827.44 488.41Z"/><path d="M827.44 487.55L827.44 481.88L831.73 487.55L831.73 487.55Z"/><path d="M831.73 495.62L831.73 487.55L836.38 495.62L836.38 495.62Z"/><path d="M836.38 495.62L836.38 495.62L840.84 494.42L840.84 495.62Z"/><path d="M840.84 494.42L840.84 494.42L844.97 490.47L844.97 494.42Z"/><path d="M844.97 490.47L844.97 490.47L849.44 489.78L849.44 490.47Z"/><path d="M849.44 490.47L849.44 489.78L853.56 490.47L853.56 490.47Z"/><path d="M853.56 490.47L853.56 490.47L857.52 489.78L857.52 490.47Z"/><path d="M857.52 492.19L857.52 489.78L862.16 492.19L862.16 492.19Z"/><path d="M862.16 492.19L862.16 492.19L866.62 489.78L866.62 492.19Z"/><path d="M866.62 489.78L866.62 489.78L870.75 488.75L870.75 489.78Z"/><path d="M870.75 490.98L870.75 488.75L875.22 490.98L875.22 490.98Z"/><path d="M875.22 492.7L875.22 490.98L879.34 492.7L879.34 492.7Z"/><path d="M879.34 492.7L879.34 492.7L883.81 491.84L883.81 492.7Z"/><path d="M883.81 492.7L883.81 491.84L887.94 492.7L887.94 492.7Z"/><path d="M887.94 492.7L887.94 492.7L892.34 489.78L892.34 492.7Z"/><path d="M892.34 489.78L892.34 489.78L896.98 488.06L896.98 489.78Z"/><path d="M896.98 488.06L896.98 488.06L900.94 487.03L900.94 488.06Z"/><path d="M900.94 490.98L900.94 487.03L905.06 490.98L905.06 490.98Z"/><path d="M905.06 490.98L905.06 490.98L909.02 485.83L909.02 490.98Z"/><path d="M909.02 494.42L909.02 485.83L913.31 494.42L913.31 494.42Z"/><path d="M913.31 494.42L913.31 494.42L918.12 487.03L918.12 494.42Z"/><path d="M918.12 487.03L918.12 487.03L922.77 485.31L922.77 487.03Z"/><path d="M926.72 485.31L926.72 485.31L930.84 481.53L930.84 485.31Z"/><path d="M930.84 484.62L930.84 481.53L935.31 484.62L935.31 484.62Z"/><path d="M935.31 484.97L935.31 484.62L939.95 484.97L939.95 484.97Z"/><path d="M939.95 486.34L939.95 484.97L943.91 486.34L943.91 486.34Z"/><path d="M943.91 486.34L943.91 486.34L948.55 480.16L948.55 486.34Z"/><path d="M948.55 485.83L948.55 480.16L952.5 485.83L952.5 485.83Z"/><path d="M952.5 487.55L952.5 485.83L957.14 487.55L957.14 487.55Z"/><path d="M957.14 489.27L957.14 487.55L961.44 489.27L961.44 489.27Z"/><path d="M961.44 491.84L961.44 489.27L965.73 491.84L965.73 491.84Z"/><path d="M965.73 493.22L965.73 491.84L970.03 493.22L970.03 493.22Z"/><path d="M970.03 493.22L970.03 493.22L974.33 492.19L974.33 493.22Z"/><path d="M974.33 493.22L974.33 492.19L978.62 493.22L978.62 493.22Z"/><path d="M995.81 494.42L995.81 493.22L1000.11 494.42L1000.11 494.42Z"/><path d="M1000.11 494.42L1000.11 494.42L1004.41 493.91L1004.41 494.42Z"/><path d="M1004.41 495.28L1004.41 493.91L1008.7 495.28L1008.7 495.28Z"/><path d="M1008.7 495.28L1008.7 495.28L1012.66 491.5L1012.66 495.28Z"/></g>
<polygon points="548.3,552.2 548.3,543.75 552.25,548.22 556.03,546.84 560.84,535.67 564.97,529.66 569.44,523.64 573.56,521.06 578.03,517.97 582.16,505.59 586.62,511.61 590.75,516.25 594.7,515.56 599,523.12 603.3,512.81 607.94,503.88 612.41,499.58 616.53,486.34 621,494.42 625.64,503.02 629.59,503.02 633.72,470.88 637.67,481.53 641.97,483.25 646.78,473.28 651.42,465.2 655.72,466.41 659.5,467.78 664.31,461.77 668.61,466.06 672.56,475 676.69,462.97 681.16,452.31 685.8,466.92 690.09,466.41 694.39,470.88 698.69,481.53 702.98,486.69 707.28,490.12 711.58,491.84 715.53,481.19 720.02,490.47 724.31,480.67 729.12,473.8 733.25,481.19 737.72,485.31 741.5,481.88 745.8,482.91 750.44,487.55 754.73,480.67 759.03,482.39 762.98,479.47 767.28,482.39 772.09,479.47 776.22,476.72 780.17,478.09 784.47,485.31 788.77,485.31 793.06,483.59 797.88,491.5 802,489.78 805.95,487.03 810.59,490.47 815.06,487.03 819.19,491.5 823.14,488.41 827.44,481.88 831.73,487.55 836.38,495.62 840.84,494.42 844.97,490.47 849.44,489.78 853.56,490.47 857.52,489.78 862.16,492.19 866.62,489.78 870.75,488.75 875.22,490.98 879.34,492.7 883.81,491.84 887.94,492.7 892.34,489.78 896.98,488.06 900.94,487.03 905.06,490.98 909.02,485.83 913.31,494.42 918.12,487.03 922.77,485.31 926.72,485.31 930.84,481.53 935.31,484.62 939.95,484.97 943.91,486.34 948.55,480.16 952.5,485.83 957.14,487.55 961.44,489.27 965.73,491.84 970.03,493.22 974.33,492.19 978.62,493.22 982.92,493.22 987.22,493.22 991.52,493.22 995.81,493.22 1000.11,494.42 1004.41,493.91 1008.7,495.28 1012.66,491.5 1012.66,552.2" fill="none" stroke="#e5949c" stroke-width="1.1" stroke-linejoin="round"/>
<text transform="translate(789.1,472.5) scale(0.86,1)" x="0" y="0" font-size="34.01" font-weight="bold" fill="#ebc84b" letter-spacing="1.65" style="font-kerning:none">COMEDY</text>
<line x1="547.5" y1="563" x2="547.5" y2="668.4" stroke="#e6ecec" stroke-width="0.8"/>
<line x1="547.5" y1="668.4" x2="1014" y2="668.4" stroke="#e6ecec" stroke-width="0.8"/>
<line x1="547.5" y1="628.5" x2="1014" y2="628.5" stroke="#ebe8e8" stroke-width="0.8"/>
<line x1="547.5" y1="588.5" x2="1014" y2="588.5" stroke="#ebe8e8" stroke-width="0.8"/>
<text x="521.11" y="593.8" font-size="10" fill="#a8a8a8" textLength="18.41" lengthAdjust="spacingAndGlyphs">20%</text>
<text x="521.11" y="634.3" font-size="10" fill="#a8a8a8" textLength="18.41" lengthAdjust="spacingAndGlyphs">10%</text>
<text x="526.23" y="667.3" font-size="10" fill="#a8a8a8" textLength="13.3" lengthAdjust="spacingAndGlyphs">0%</text>
<g fill="#878787"><path d="M548.81 668.4V659.75H551.73V668.4Z"/><path d="M551.73 668.4V659.75H556.03V668.4Z"/><path d="M556.03 668.4V659.06H560.84V668.4Z"/><path d="M560.84 668.4V659.06H564.97V668.4Z"/><path d="M564.97 668.4V657.34H569.44V668.4Z"/><path d="M569.44 668.4V659.41H573.56V668.4Z"/><path d="M573.56 668.4V663.19H577.52V668.4Z"/><path d="M577.52 668.4V663.19H582.16V668.4Z"/><path d="M582.16 668.4V663.7H586.62V668.4Z"/><path d="M586.62 668.4V663.7H590.75V668.4Z"/><path d="M590.75 668.4V661.98H595.22V668.4Z"/><path d="M595.22 668.4V661.98H599.34V668.4Z"/><path d="M599.34 668.4V661.98H603.81V668.4Z"/><path d="M603.81 668.4V662.84H607.94V668.4Z"/><path d="M607.94 668.4V662.84H612.41V668.4Z"/><path d="M612.41 668.4V660.27H616.19V668.4Z"/><path d="M616.19 668.4V661.47H621V668.4Z"/><path d="M621 668.4V661.47H625.12V668.4Z"/><path d="M625.12 668.4V660.78H629.59V668.4Z"/><path d="M629.59 668.4V663.7H633.72V668.4Z"/><path d="M633.72 668.4V663.7H637.67V668.4Z"/><path d="M637.67 668.4V663.7H641.97V668.4Z"/><path d="M641.97 668.4V663.7H646.78V668.4Z"/><path d="M646.78 668.4V663.7H650.91V668.4Z"/><path d="M650.91 668.4V663.7H655.38V668.4Z"/><path d="M655.38 668.4V666.28H659.5V668.4Z"/><path d="M659.5 668.4V666.28H664.31V668.4Z"/><path d="M664.31 668.4V664.91H668.61V668.4Z"/><path d="M668.61 668.4V664.91H672.56V668.4Z"/><path d="M672.56 668.4V664.22H676.69V668.4Z"/><path d="M676.69 668.4V663.7H681.16V668.4Z"/><path d="M681.16 668.4V663.7H685.28V668.4Z"/><path d="M685.28 668.4V661.98H690.09V668.4Z"/><path d="M690.09 668.4V659.41H694.39V668.4Z"/><path d="M694.39 668.4V659.41H698.34V668.4Z"/><path d="M698.34 668.4V660.27H702.47V668.4Z"/><path d="M702.47 668.4V665.42H707.28V668.4Z"/><path d="M707.28 668.4V665.42H711.58V668.4Z"/><path d="M711.58 668.4V665.42H715.53V668.4Z"/><path d="M715.53 668.4V665.42H720.53V668.4Z"/><path d="M720.53 668.4V661.98H724.66V668.4Z"/><path d="M724.66 668.4V661.64H729.12V668.4Z"/><path d="M729.12 668.4V661.98H733.25V668.4Z"/><path d="M733.25 668.4V661.98H737.72V668.4Z"/><path d="M737.72 668.4V660.27H741.84V668.4Z"/><path d="M741.84 668.4V660.78H746.31V668.4Z"/><path d="M746.31 668.4V662.84H750.44V668.4Z"/><path d="M750.44 668.4V663.7H754.73V668.4Z"/><path d="M754.73 668.4V663.7H759.03V668.4Z"/><path d="M759.03 668.4V661.98H762.98V668.4Z"/><path d="M762.98 668.4V660.78H767.28V668.4Z"/><path d="M767.28 668.4V659.06H772.09V668.4Z"/><path d="M772.09 668.4V657.34H776.22V668.4Z"/><path d="M776.22 668.4V657.34H780.17V668.4Z"/><path d="M780.17 668.4V657.34H784.47V668.4Z"/><path d="M784.47 668.4V657.34H788.77V668.4Z"/><path d="M788.77 668.4V657.34H793.06V668.4Z"/><path d="M793.06 668.4V656.31H797.88V668.4Z"/><path d="M797.88 668.4V654.25H802V668.4Z"/><path d="M802 668.4V654.25H805.95V668.4Z"/><path d="M805.95 668.4V649.44H810.59V668.4Z"/><path d="M810.59 668.4V651.67H815.06V668.4Z"/><path d="M815.06 668.4V653.39H819.19V668.4Z"/><path d="M819.19 668.4V653.39H823.14V668.4Z"/><path d="M823.14 668.4V650.47H827.44V668.4Z"/><path d="M827.44 668.4V650.47H831.73V668.4Z"/><path d="M831.73 668.4V649.95H836.38V668.4Z"/><path d="M836.38 668.4V649.09H840.84V668.4Z"/><path d="M840.84 668.4V648.75H844.97V668.4Z"/><path d="M844.97 668.4V649.44H849.44V668.4Z"/><path d="M849.44 668.4V649.44H853.56V668.4Z"/><path d="M853.56 668.4V648.23H858.03V668.4Z"/><path d="M858.03 668.4V648.23H862.16V668.4Z"/><path d="M862.16 668.4V647.72H866.62V668.4Z"/><path d="M866.62 668.4V647.38H870.75V668.4Z"/><path d="M870.75 668.4V651.16H874.7V668.4Z"/><path d="M874.7 668.4V651.16H879.34V668.4Z"/><path d="M879.34 668.4V648.23H883.81V668.4Z"/><path d="M883.81 668.4V649.09H887.94V668.4Z"/><path d="M887.94 668.4V649.09H893.03V668.4Z"/><path d="M893.03 668.4V647.38H896.98V668.4Z"/><path d="M896.98 668.4V641.36H901.28V668.4Z"/><path d="M901.28 668.4V639.12H905.58V668.4Z"/><path d="M905.58 668.4V637.92H909.53V668.4Z"/><path d="M909.53 668.4V634.48H913.66V668.4Z"/><path d="M913.66 668.4V634.48H918.12V668.4Z"/><path d="M918.12 668.4V630.53H922.77V668.4Z"/><path d="M922.77 668.4V626.41H927.06V668.4Z"/><path d="M927.06 668.4V625.03H931.36V668.4Z"/><path d="M931.36 668.4V625.03H935.31V668.4Z"/><path d="M935.31 668.4V617.3H939.95V668.4Z"/><path d="M939.95 668.4V617.3H944.25V668.4Z"/><path d="M944.25 668.4V605.27H948.55V668.4Z"/><path d="M948.55 668.4V598.39H952.5V668.4Z"/><path d="M952.5 668.4V589.8H957.14V668.4Z"/><path d="M957.14 668.4V588.59H961.44V668.4Z"/><path d="M961.44 668.4V588.59H965.73V668.4Z"/><path d="M965.73 668.4V581.2H970.03V668.4Z"/><path d="M970.03 668.4V578.62H974.33V668.4Z"/><path d="M974.33 668.4V574.33H978.62V668.4Z"/><path d="M978.62 668.4V572.61H982.92V668.4Z"/><path d="M982.92 668.4V570.38H987.22V668.4Z"/><path d="M987.22 668.4V567.97H991.52V668.4Z"/><path d="M991.52 668.4V567.45H995.47V668.4Z"/><path d="M995.47 668.4V570.89H1000.11V668.4Z"/><path d="M1000.11 668.4V574.33H1004.41V668.4Z"/><path d="M1004.41 668.4V580.34H1008.7V668.4Z"/><path d="M1008.7 668.4V588.94H1011.28V668.4Z"/><path d="M1011.28 668.4V597.19H1012.66V668.4Z"/><path d="M551.73 659.75L551.73 659.75L556.03 621.25L556.03 659.75Z"/><path d="M556.03 659.06L556.03 621.25L560.84 659.06L560.84 659.06Z"/><path d="M560.84 659.06L560.84 659.06L564.97 657.34L564.97 659.06Z"/><path d="M564.97 657.34L564.97 657.34L569.44 655.11L569.44 657.34Z"/><path d="M569.44 659.41L569.44 655.11L573.56 659.41L573.56 659.41Z"/><path d="M573.56 663.19L573.56 659.41L577.52 663.19L577.52 663.19Z"/><path d="M577.52 663.19L577.52 663.19L582.16 661.98L582.16 663.19Z"/><path d="M582.16 663.7L582.16 661.98L586.62 663.7L586.62 663.7Z"/><path d="M586.62 663.7L586.62 663.7L590.75 661.98L590.75 663.7Z"/><path d="M595.22 661.98L595.22 661.98L599.34 661.12L599.34 661.98Z"/><path d="M599.34 661.98L599.34 661.12L603.81 661.98L603.81 661.98Z"/><path d="M603.81 662.84L603.81 661.98L607.94 662.84L607.94 662.84Z"/><path d="M607.94 662.84L607.94 662.84L612.41 660.27L612.41 662.84Z"/><path d="M612.41 660.27L612.41 660.27L616.19 656.83L616.19 660.27Z"/><path d="M616.19 661.47L616.19 656.83L621 661.47L621 661.47Z"/><path d="M621 661.47L621 661.47L625.12 657.69L625.12 661.47Z"/><path d="M625.12 660.78L625.12 657.69L629.59 660.78L629.59 660.78Z"/><path d="M629.59 663.7L629.59 660.78L633.72 663.7L633.72 663.7Z"/><path d="M637.67 663.7L637.67 663.7L641.97 661.12L641.97 663.7Z"/><path d="M641.97 663.7L641.97 661.12L646.78 663.7L646.78 663.7Z"/><path d="M650.91 663.7L650.91 663.7L655.38 662.84L655.38 663.7Z"/><path d="M655.38 666.28L655.38 662.84L659.5 666.28L659.5 666.28Z"/><path d="M659.5 666.28L659.5 666.28L664.31 664.22L664.31 666.28Z"/><path d="M664.31 664.91L664.31 664.22L668.61 664.91L668.61 664.91Z"/><path d="M668.61 664.91L668.61 664.91L672.56 664.22L672.56 664.91Z"/><path d="M672.56 664.22L672.56 664.22L676.69 661.12L676.69 664.22Z"/><path d="M676.69 663.7L676.69 661.12L681.16 663.7L681.16 663.7Z"/><path d="M681.16 663.7L681.16 663.7L685.28 661.98L685.28 663.7Z"/><path d="M685.28 661.98L685.28 661.98L690.09 657.69L690.09 661.98Z"/><path d="M690.09 659.41L690.09 657.69L694.39 659.41L694.39 659.41Z"/><path d="M694.39 659.41L694.39 659.41L698.34 657.69L698.34 659.41Z"/><path d="M698.34 660.27L698.34 657.69L702.47 660.27L702.47 660.27Z"/><path d="M702.47 665.42L702.47 660.27L707.28 665.42L707.28 665.42Z"/><path d="M707.28 665.42L707.28 665.42L711.58 661.98L711.58 665.42Z"/><path d="M711.58 665.42L711.58 661.98L715.53 665.42L715.53 665.42Z"/><path d="M715.53 665.42L715.53 665.42L720.53 661.98L720.53 665.42Z"/><path d="M720.53 661.98L720.53 661.98L724.66 660.78L724.66 661.98Z"/><path d="M724.66 661.64L724.66 660.78L729.12 661.64L729.12 661.64Z"/><path d="M729.12 661.98L729.12 661.64L733.25 661.98L733.25 661.98Z"/><path d="M733.25 661.98L733.25 661.98L737.72 660.27L737.72 661.98Z"/><path d="M737.72 660.27L737.72 660.27L741.84 659.75L741.84 660.27Z"/><path d="M741.84 660.78L741.84 659.75L746.31 660.78L746.31 660.78Z"/><path d="M746.31 662.84L746.31 660.78L750.44 662.84L750.44 662.84Z"/><path d="M750.44 663.7L750.44 662.84L754.73 663.7L754.73 663.7Z"/><path d="M754.73 663.7L754.73 663.7L759.03 661.98L759.03 663.7Z"/><path d="M759.03 661.98L759.03 661.98L762.98 660.78L762.98 661.98Z"/><path d="M762.98 660.78L762.98 660.78L767.28 659.06L767.28 660.78Z"/><path d="M767.28 659.06L767.28 659.06L772.09 657.34L772.09 659.06Z"/><path d="M772.09 657.34L772.09 657.34L776.22 653.91L776.22 657.34Z"/><path d="M776.22 657.34L776.22 653.91L780.17 657.34L780.17 657.34Z"/><path d="M780.17 657.34L780.17 657.34L784.47 655.62L784.47 657.34Z"/><path d="M784.47 657.34L784.47 655.62L788.77 657.34L788.77 657.34Z"/><path d="M788.77 657.34L788.77 657.34L793.06 656.31L793.06 657.34Z"/><path d="M793.06 656.31L793.06 656.31L797.88 649.95L797.88 656.31Z"/><path d="M797.88 654.25L797.88 649.95L802 654.25L802 654.25Z"/><path d="M802 654.25L802 654.25L805.95 647.72L805.95 654.25Z"/><path d="M805.95 649.44L805.95 647.72L810.59 649.44L810.59 649.44Z"/><path d="M810.59 651.67L810.59 649.44L815.06 651.67L815.06 651.67Z"/><path d="M815.06 653.39L815.06 651.67L819.19 653.39L819.19 653.39Z"/><path d="M819.19 653.39L819.19 653.39L823.14 649.95L823.14 653.39Z"/><path d="M823.14 650.47L823.14 649.95L827.44 650.47L827.44 650.47Z"/><path d="M827.44 650.47L827.44 650.47L831.73 649.95L831.73 650.47Z"/><path d="M831.73 649.95L831.73 649.95L836.38 649.09L836.38 649.95Z"/><path d="M836.38 649.09L836.38 649.09L840.84 648.75L840.84 649.09Z"/><path d="M844.97 649.44L844.97 648.75L849.44 649.44L849.44 649.44Z"/><path d="M849.44 649.44L849.44 649.44L853.56 647.72L853.56 649.44Z"/><path d="M853.56 648.23L853.56 647.72L858.03 648.23L858.03 648.23Z"/><path d="M858.03 648.23L858.03 648.23L862.16 647.72L862.16 648.23Z"/><path d="M862.16 647.72L862.16 647.72L866.62 647.38L866.62 647.72Z"/><path d="M870.75 651.16L870.75 647.38L874.7 651.16L874.7 651.16Z"/><path d="M874.7 651.16L874.7 651.16L879.34 648.23L879.34 651.16Z"/><path d="M879.34 648.23L879.34 648.23L883.81 647.38L883.81 648.23Z"/><path d="M883.81 649.09L883.81 647.38L887.94 649.09L887.94 649.09Z"/><path d="M887.94 649.09L887.94 649.09L893.03 647.38L893.03 649.09Z"/><path d="M893.03 647.38L893.03 647.38L896.98 641.36L896.98 647.38Z"/><path d="M896.98 641.36L896.98 641.36L901.28 639.12L901.28 641.36Z"/><path d="M901.28 639.12L901.28 639.12L905.58 637.92L905.58 639.12Z"/><path d="M905.58 637.92L905.58 637.92L909.53 632.77L909.53 637.92Z"/><path d="M909.53 634.48L909.53 632.77L913.66 634.48L913.66 634.48Z"/><path d="M913.66 634.48L913.66 634.48L918.12 630.53L918.12 634.48Z"/><path d="M918.12 630.53L918.12 630.53L922.77 626.41L922.77 630.53Z"/><path d="M922.77 626.41L922.77 626.41L927.06 624.17L927.06 626.41Z"/><path d="M927.06 625.03L927.06 624.17L931.36 625.03L931.36 625.03Z"/><path d="M931.36 625.03L931.36 625.03L935.31 617.3L935.31 625.03Z"/><path d="M939.95 617.3L939.95 617.3L944.25 605.27L944.25 617.3Z"/><path d="M944.25 605.27L944.25 605.27L948.55 598.39L948.55 605.27Z"/><path d="M948.55 598.39L948.55 598.39L952.5 589.8L952.5 598.39Z"/><path d="M952.5 589.8L952.5 589.8L957.14 588.59L957.14 589.8Z"/><path d="M961.44 588.59L961.44 588.59L965.73 581.2L965.73 588.59Z"/><path d="M965.73 581.2L965.73 581.2L970.03 578.62L970.03 581.2Z"/><path d="M970.03 578.62L970.03 578.62L974.33 574.33L974.33 578.62Z"/><path d="M974.33 574.33L974.33 574.33L978.62 572.61L978.62 574.33Z"/><path d="M978.62 572.61L978.62 572.61L982.92 570.38L982.92 572.61Z"/><path d="M982.92 570.38L982.92 570.38L987.22 567.97L987.22 570.38Z"/><path d="M987.22 567.97L987.22 567.97L991.52 567.45L991.52 567.97Z"/><path d="M991.52 567.45L991.52 567.45L995.47 566.59L995.47 567.45Z"/><path d="M995.47 570.89L995.47 566.59L1000.11 570.89L1000.11 570.89Z"/><path d="M1000.11 574.33L1000.11 570.89L1004.41 574.33L1004.41 574.33Z"/><path d="M1004.41 580.34L1004.41 574.33L1008.7 580.34L1008.7 580.34Z"/><path d="M1008.7 588.94L1008.7 580.34L1011.28 588.94L1011.28 588.94Z"/><path d="M1011.28 597.19L1011.28 588.94L1012.66 597.19L1012.66 597.19Z"/></g>
<polygon points="548.81,668.4 548.81,659.75 551.73,659.75 556.03,621.25 560.84,659.06 564.97,657.34 569.44,655.11 573.56,659.41 577.52,663.19 582.16,661.98 586.62,663.7 590.75,661.98 595.22,661.98 599.34,661.12 603.81,661.98 607.94,662.84 612.41,660.27 616.19,656.83 621,661.47 625.12,657.69 629.59,660.78 633.72,663.7 637.67,663.7 641.97,661.12 646.78,663.7 650.91,663.7 655.38,662.84 659.5,666.28 664.31,664.22 668.61,664.91 672.56,664.22 676.69,661.12 681.16,663.7 685.28,661.98 690.09,657.69 694.39,659.41 698.34,657.69 702.47,660.27 707.28,665.42 711.58,661.98 715.53,665.42 720.53,661.98 724.66,660.78 729.12,661.64 733.25,661.98 737.72,660.27 741.84,659.75 746.31,660.78 750.44,662.84 754.73,663.7 759.03,661.98 762.98,660.78 767.28,659.06 772.09,657.34 776.22,653.91 780.17,657.34 784.47,655.62 788.77,657.34 793.06,656.31 797.88,649.95 802,654.25 805.95,647.72 810.59,649.44 815.06,651.67 819.19,653.39 823.14,649.95 827.44,650.47 831.73,649.95 836.38,649.09 840.84,648.75 844.97,648.75 849.44,649.44 853.56,647.72 858.03,648.23 862.16,647.72 866.62,647.38 870.75,647.38 874.7,651.16 879.34,648.23 883.81,647.38 887.94,649.09 893.03,647.38 896.98,641.36 901.28,639.12 905.58,637.92 909.53,632.77 913.66,634.48 918.12,630.53 922.77,626.41 927.06,624.17 931.36,625.03 935.31,617.3 939.95,617.3 944.25,605.27 948.55,598.39 952.5,589.8 957.14,588.59 961.44,588.59 965.73,581.2 970.03,578.62 974.33,574.33 978.62,572.61 982.92,570.38 987.22,567.97 991.52,567.45 995.47,566.59 1000.11,570.89 1004.41,574.33 1008.7,580.34 1011.28,588.94 1012.66,597.19 1012.66,668.4" fill="none" stroke="#5b87b5" stroke-width="1.1" stroke-linejoin="round"/>
<text transform="translate(621.64,623.1) scale(0.86,1)" x="0" y="0" font-size="34.01" font-weight="bold" fill="#787878" letter-spacing="1.74" style="font-kerning:none">DOCUMENTARY</text>
<line x1="547.5" y1="679" x2="547.5" y2="784" stroke="#e6ecec" stroke-width="0.8"/>
<line x1="547.5" y1="784" x2="1014" y2="784" stroke="#e6ecec" stroke-width="0.8"/>
<line x1="547.5" y1="743.5" x2="1014" y2="743.5" stroke="#ebe8e8" stroke-width="0.8"/>
<line x1="547.5" y1="702.5" x2="1014" y2="702.5" stroke="#ebe8e8" stroke-width="0.8"/>
<text x="526.23" y="707.6" font-size="10" fill="#a8a8a8" textLength="13.3" lengthAdjust="spacingAndGlyphs">4%</text>
<text x="526.23" y="749.3" font-size="10" fill="#a8a8a8" textLength="13.3" lengthAdjust="spacingAndGlyphs">2%</text>
<text x="526.23" y="782.3" font-size="10" fill="#a8a8a8" textLength="13.3" lengthAdjust="spacingAndGlyphs">0%</text>
<g fill="#b07ba0"><path d="M556.03 784V739.31H559.81V784Z"/><path d="M559.81 784V735.53H564.97V784Z"/><path d="M564.97 784V735.53H569.27V784Z"/><path d="M569.27 784V741.38H573.56V784Z"/><path d="M573.56 784V741.38H577.52V784Z"/><path d="M577.52 784V732.44H581.47V784Z"/><path d="M581.47 784V721.27H585.25V784Z"/><path d="M585.25 784V729.86H589.55V784Z"/><path d="M589.55 784V742.75H593.84V784Z"/><path d="M593.84 784V742.75H598.66V784Z"/><path d="M598.66 784V740.69H602.78V784Z"/><path d="M602.78 784V742.75H607.25V784Z"/><path d="M607.25 784V742.75H611.38V784Z"/><path d="M611.38 784V742.75H616.19V784Z"/><path d="M616.19 784V744.47H619.62V784Z"/><path d="M619.62 784V744.47H623.06V784Z"/><path d="M623.06 784V773.69H627.88V784Z"/><path d="M627.88 784V773.69H632.52V784Z"/><path d="M632.52 784V780.56H636.81V784Z"/><path d="M636.81 784V780.56H641.11V784Z"/><path d="M641.11 784V768.53H645.41V784Z"/><path d="M645.41 784V768.53H648.84V784Z"/><path d="M648.84 784V768.19H653.14V784Z"/><path d="M653.14 784V766.81H657.09V784Z"/><path d="M657.09 784V766.81H661.73V784Z"/><path d="M661.73 784V765.09H666.03V784Z"/><path d="M666.03 784V767.67H670.33V784Z"/><path d="M670.33 784V768.88H674.62V784Z"/><path d="M674.62 784V771.11H678.92V784Z"/><path d="M678.92 784V771.11H683.22V784Z"/><path d="M683.22 784V754.78H687V784Z"/><path d="M687 784V765.95H690.95V784Z"/><path d="M690.95 784V765.95H695.25V784Z"/><path d="M695.25 784V758.22H700.41V784Z"/><path d="M700.41 784V728.66H704.19V784Z"/><path d="M704.19 784V736.73H708.66V784Z"/><path d="M708.66 784V736.73H712.78V784Z"/><path d="M712.78 784V741.89H716.73V784Z"/><path d="M716.73 784V741.89H720.53V784Z"/><path d="M720.53 784V744.47H724.66V784Z"/><path d="M724.66 784V744.47H729.12V784Z"/><path d="M729.12 784V742.75H733.25V784Z"/><path d="M733.25 784V749.28H738.06V784Z"/><path d="M738.06 784V749.28H742.36V784Z"/><path d="M742.36 784V722.98H746.31V784Z"/><path d="M746.31 784V732.44H750.44V784Z"/><path d="M750.44 784V732.44H754.73V784Z"/><path d="M754.73 784V745.33H759.03V784Z"/><path d="M759.03 784V745.33H763.5V784Z"/><path d="M763.5 784V732.44H767.62V784Z"/><path d="M767.62 784V725.56H772.09V784Z"/><path d="M772.09 784V730.72H776.22V784Z"/><path d="M776.22 784V734.16H780.17V784Z"/><path d="M780.17 784V734.16H784.47V784Z"/><path d="M784.47 784V735.02H788.77V784Z"/><path d="M788.77 784V735.02H793.06V784Z"/><path d="M793.06 784V729.34H797.88V784Z"/><path d="M797.88 784V729.34H802V784Z"/><path d="M802 784V734.5H805.95V784Z"/><path d="M805.95 784V734.5H809.91V784Z"/><path d="M809.91 784V735.53H814.55V784Z"/><path d="M814.55 784V735.53H818.84V784Z"/><path d="M818.84 784V731.58H822.62V784Z"/><path d="M822.62 784V729.86H827.09V784Z"/><path d="M827.09 784V743.61H831.73V784Z"/><path d="M831.73 784V743.61H836.03V784Z"/><path d="M836.03 784V737.59H840.33V784Z"/><path d="M840.33 784V733.81H844.97V784Z"/><path d="M844.97 784V733.81H849.44V784Z"/><path d="M849.44 784V733.3H853.56V784Z"/><path d="M853.56 784V733.3H857.52V784Z"/><path d="M857.52 784V729H860.95V784Z"/><path d="M860.95 784V719.55H866.11V784Z"/><path d="M866.11 784V719.55H870.41V784Z"/><path d="M870.41 784V719.03H873.5V784Z"/><path d="M873.5 784V720.75H877.28V784Z"/><path d="M877.28 784V720.75H882.09V784Z"/><path d="M882.09 784V698.41H885.88V784Z"/><path d="M885.88 784V708.38H890.11V784Z"/><path d="M890.11 784V708.38H894.06V784Z"/><path d="M894.06 784V705.8H898.7V784Z"/><path d="M898.7 784V713.19H903V784Z"/><path d="M903 784V713.88H907.3V784Z"/><path d="M907.3 784V713.88H911.59V784Z"/><path d="M911.59 784V714.91H915.38V784Z"/><path d="M915.38 784V720.06H919.33V784Z"/><path d="M919.33 784V736.22H923.62V784Z"/><path d="M923.62 784V736.22H927.92V784Z"/><path d="M927.92 784V729.86H932.22V784Z"/><path d="M932.22 784V729H936.52V784Z"/><path d="M936.52 784V721.27H940.81V784Z"/><path d="M940.81 784V721.27H945.11V784Z"/><path d="M945.11 784V721.27H949.41V784Z"/><path d="M949.41 784V733.3H953.19V784Z"/><path d="M953.19 784V733.3H957.14V784Z"/><path d="M957.14 784V727.62H961.09V784Z"/><path d="M961.09 784V732.09H965.73V784Z"/><path d="M965.73 784V732.09H970.03V784Z"/><path d="M970.03 784V730.38H974.84V784Z"/><path d="M974.84 784V730.38H978.97V784Z"/><path d="M978.97 784V730.38H982.92V784Z"/><path d="M982.92 784V729.34H987.22V784Z"/><path d="M987.22 784V729.34H991.52V784Z"/><path d="M991.52 784V728.66H995.81V784Z"/><path d="M995.81 784V727.28H1000.11V784Z"/><path d="M1000.11 784V725.56H1004.41V784Z"/><path d="M1004.41 784V728.66H1008.7V784Z"/><path d="M1008.7 784V728.66H1012.66V784Z"/><path d="M556.03 739.31L556.03 739.31L559.81 695.48L559.81 739.31Z"/><path d="M559.81 735.53L559.81 695.48L564.97 735.53L564.97 735.53Z"/><path d="M564.97 735.53L564.97 735.53L569.27 685.17L569.27 735.53Z"/><path d="M569.27 741.38L569.27 685.17L573.56 741.38L573.56 741.38Z"/><path d="M573.56 741.38L573.56 741.38L577.52 732.44L577.52 741.38Z"/><path d="M577.52 732.44L577.52 732.44L581.47 721.27L581.47 732.44Z"/><path d="M581.47 721.27L581.47 721.27L585.25 693.77L585.25 721.27Z"/><path d="M585.25 729.86L585.25 693.77L589.55 729.86L589.55 729.86Z"/><path d="M589.55 742.75L589.55 729.86L593.84 742.75L593.84 742.75Z"/><path d="M593.84 742.75L593.84 742.75L598.66 740.69L598.66 742.75Z"/><path d="M598.66 740.69L598.66 740.69L602.78 689.47L602.78 740.69Z"/><path d="M602.78 742.75L602.78 689.47L607.25 742.75L607.25 742.75Z"/><path d="M607.25 742.75L607.25 742.75L611.38 696.34L611.38 742.75Z"/><path d="M611.38 742.75L611.38 696.34L616.19 742.75L616.19 742.75Z"/><path d="M616.19 744.47L616.19 742.75L619.62 744.47L619.62 744.47Z"/><path d="M619.62 744.47L619.62 744.47L623.06 743.09L623.06 744.47Z"/><path d="M623.06 773.69L623.06 743.09L627.88 773.69L627.88 773.69Z"/><path d="M627.88 773.69L627.88 773.69L632.52 769.39L632.52 773.69Z"/><path d="M632.52 780.56L632.52 769.39L636.81 780.56L636.81 780.56Z"/><path d="M636.81 780.56L636.81 780.56L641.11 762.52L641.11 780.56Z"/><path d="M641.11 768.53L641.11 762.52L645.41 768.53L645.41 768.53Z"/><path d="M645.41 768.53L645.41 768.53L648.84 768.19L648.84 768.53Z"/><path d="M648.84 768.19L648.84 768.19L653.14 759.59L653.14 768.19Z"/><path d="M653.14 766.81L653.14 759.59L657.09 766.81L657.09 766.81Z"/><path d="M657.09 766.81L657.09 766.81L661.73 747.56L661.73 766.81Z"/><path d="M661.73 765.09L661.73 747.56L666.03 765.09L666.03 765.09Z"/><path d="M666.03 767.67L666.03 765.09L670.33 767.67L670.33 767.67Z"/><path d="M670.33 768.88L670.33 767.67L674.62 768.88L674.62 768.88Z"/><path d="M674.62 771.11L674.62 768.88L678.92 771.11L678.92 771.11Z"/><path d="M678.92 771.11L678.92 771.11L683.22 754.78L683.22 771.11Z"/><path d="M687 765.95L687 754.78L690.95 765.95L690.95 765.95Z"/><path d="M690.95 765.95L690.95 765.95L695.25 758.22L695.25 765.95Z"/><path d="M695.25 758.22L695.25 758.22L700.41 728.66L700.41 758.22Z"/><path d="M700.41 728.66L700.41 728.66L704.19 726.42L704.19 728.66Z"/><path d="M704.19 736.73L704.19 726.42L708.66 736.73L708.66 736.73Z"/><path d="M708.66 736.73L708.66 736.73L712.78 729.86L712.78 736.73Z"/><path d="M712.78 741.89L712.78 729.86L716.73 741.89L716.73 741.89Z"/><path d="M716.73 741.89L716.73 741.89L720.53 735.53L720.53 741.89Z"/><path d="M720.53 744.47L720.53 735.53L724.66 744.47L724.66 744.47Z"/><path d="M724.66 744.47L724.66 744.47L729.12 741.03L729.12 744.47Z"/><path d="M729.12 742.75L729.12 741.03L733.25 742.75L733.25 742.75Z"/><path d="M733.25 749.28L733.25 742.75L738.06 749.28L738.06 749.28Z"/><path d="M738.06 749.28L738.06 749.28L742.36 716.11L742.36 749.28Z"/><path d="M742.36 722.98L742.36 716.11L746.31 722.98L746.31 722.98Z"/><path d="M746.31 732.44L746.31 722.98L750.44 732.44L750.44 732.44Z"/><path d="M750.44 732.44L750.44 732.44L754.73 718.69L754.73 732.44Z"/><path d="M754.73 745.33L754.73 718.69L759.03 745.33L759.03 745.33Z"/><path d="M759.03 745.33L759.03 745.33L763.5 732.44L763.5 745.33Z"/><path d="M763.5 732.44L763.5 732.44L767.62 725.56L767.62 732.44Z"/><path d="M767.62 725.56L767.62 725.56L772.09 708.38L772.09 725.56Z"/><path d="M772.09 730.72L772.09 708.38L776.22 730.72L776.22 730.72Z"/><path d="M776.22 734.16L776.22 730.72L780.17 734.16L780.17 734.16Z"/><path d="M780.17 734.16L780.17 734.16L784.47 730.72L784.47 734.16Z"/><path d="M784.47 735.02L784.47 730.72L788.77 735.02L788.77 735.02Z"/><path d="M788.77 735.02L788.77 735.02L793.06 727.62L793.06 735.02Z"/><path d="M793.06 729.34L793.06 727.62L797.88 729.34L797.88 729.34Z"/><path d="M797.88 729.34L797.88 729.34L802 728.66L802 729.34Z"/><path d="M802 734.5L802 728.66L805.95 734.5L805.95 734.5Z"/><path d="M805.95 734.5L805.95 734.5L809.91 723.5L809.91 734.5Z"/><path d="M809.91 735.53L809.91 723.5L814.55 735.53L814.55 735.53Z"/><path d="M814.55 735.53L814.55 735.53L818.84 731.58L818.84 735.53Z"/><path d="M818.84 731.58L818.84 731.58L822.62 726.42L822.62 731.58Z"/><path d="M822.62 729.86L822.62 726.42L827.09 729.86L827.09 729.86Z"/><path d="M827.09 743.61L827.09 729.86L831.73 743.61L831.73 743.61Z"/><path d="M831.73 743.61L831.73 743.61L836.03 737.59L836.03 743.61Z"/><path d="M836.03 737.59L836.03 737.59L840.33 731.58L840.33 737.59Z"/><path d="M840.33 733.81L840.33 731.58L844.97 733.81L844.97 733.81Z"/><path d="M844.97 733.81L844.97 733.81L849.44 732.78L849.44 733.81Z"/><path d="M849.44 733.3L849.44 732.78L853.56 733.3L853.56 733.3Z"/><path d="M853.56 733.3L853.56 733.3L857.52 729L857.52 733.3Z"/><path d="M857.52 729L857.52 729L860.95 718.34L860.95 729Z"/><path d="M860.95 719.55L860.95 718.34L866.11 719.55L866.11 719.55Z"/><path d="M866.11 719.55L866.11 719.55L870.41 719.03L870.41 719.55Z"/><path d="M870.41 719.03L870.41 719.03L873.5 712.16L873.5 719.03Z"/><path d="M873.5 720.75L873.5 712.16L877.28 720.75L877.28 720.75Z"/><path d="M877.28 720.75L877.28 720.75L882.09 698.41L882.09 720.75Z"/><path d="M882.09 698.41L882.09 698.41L885.88 696L885.88 698.41Z"/><path d="M885.88 708.38L885.88 696L890.11 708.38L890.11 708.38Z"/><path d="M890.11 708.38L890.11 708.38L894.06 705.8L894.06 708.38Z"/><path d="M894.06 705.8L894.06 705.8L898.7 682.59L898.7 705.8Z"/><path d="M898.7 713.19L898.7 682.59L903 713.19L903 713.19Z"/><path d="M903 713.88L903 713.19L907.3 713.88L907.3 713.88Z"/><path d="M907.3 713.88L907.3 713.88L911.59 703.22L911.59 713.88Z"/><path d="M911.59 714.91L911.59 703.22L915.38 714.91L915.38 714.91Z"/><path d="M915.38 720.06L915.38 714.91L919.33 720.06L919.33 720.06Z"/><path d="M919.33 736.22L919.33 720.06L923.62 736.22L923.62 736.22Z"/><path d="M923.62 736.22L923.62 736.22L927.92 729.86L927.92 736.22Z"/><path d="M927.92 729.86L927.92 729.86L932.22 729L932.22 729.86Z"/><path d="M932.22 729L932.22 729L936.52 719.55L936.52 729Z"/><path d="M936.52 721.27L936.52 719.55L940.81 721.27L940.81 721.27Z"/><path d="M940.81 721.27L940.81 721.27L945.11 718.34L945.11 721.27Z"/><path d="M945.11 721.27L945.11 718.34L949.41 721.27L949.41 721.27Z"/><path d="M949.41 733.3L949.41 721.27L953.19 733.3L953.19 733.3Z"/><path d="M953.19 733.3L953.19 733.3L957.14 727.62L957.14 733.3Z"/><path d="M957.14 727.62L957.14 727.62L961.09 726.42L961.09 727.62Z"/><path d="M961.09 732.09L961.09 726.42L965.73 732.09L965.73 732.09Z"/><path d="M965.73 732.09L965.73 732.09L970.03 730.38L970.03 732.09Z"/><path d="M970.03 730.38L970.03 730.38L974.84 727.62L974.84 730.38Z"/><path d="M974.84 730.38L974.84 727.62L978.97 730.38L978.97 730.38Z"/><path d="M978.97 730.38L978.97 730.38L982.92 725.56L982.92 730.38Z"/><path d="M982.92 729.34L982.92 725.56L987.22 729.34L987.22 729.34Z"/><path d="M987.22 729.34L987.22 729.34L991.52 728.66L991.52 729.34Z"/><path d="M991.52 728.66L991.52 728.66L995.81 727.28L995.81 728.66Z"/><path d="M995.81 727.28L995.81 727.28L1000.11 725.56L1000.11 727.28Z"/><path d="M1000.11 725.56L1000.11 725.56L1004.41 720.41L1004.41 725.56Z"/><path d="M1004.41 728.66L1004.41 720.41L1008.7 728.66L1008.7 728.66Z"/><path d="M1008.7 728.66L1008.7 728.66L1012.66 727.62L1012.66 728.66Z"/></g>
<polygon points="556.03,784 556.03,739.31 559.81,695.48 564.97,735.53 569.27,685.17 573.56,741.38 577.52,732.44 581.47,721.27 585.25,693.77 589.55,729.86 593.84,742.75 598.66,740.69 602.78,689.47 607.25,742.75 611.38,696.34 616.19,742.75 619.62,744.47 623.06,743.09 627.88,773.69 632.52,769.39 636.81,780.56 641.11,762.52 645.41,768.53 648.84,768.19 653.14,759.59 657.09,766.81 661.73,747.56 666.03,765.09 670.33,767.67 674.62,768.88 678.92,771.11 683.22,754.78 687,754.78 690.95,765.95 695.25,758.22 700.41,728.66 704.19,726.42 708.66,736.73 712.78,729.86 716.73,741.89 720.53,735.53 724.66,744.47 729.12,741.03 733.25,742.75 738.06,749.28 742.36,716.11 746.31,722.98 750.44,732.44 754.73,718.69 759.03,745.33 763.5,732.44 767.62,725.56 772.09,708.38 776.22,730.72 780.17,734.16 784.47,730.72 788.77,735.02 793.06,727.62 797.88,729.34 802,728.66 805.95,734.5 809.91,723.5 814.55,735.53 818.84,731.58 822.62,726.42 827.09,729.86 831.73,743.61 836.03,737.59 840.33,731.58 844.97,733.81 849.44,732.78 853.56,733.3 857.52,729 860.95,718.34 866.11,719.55 870.41,719.03 873.5,712.16 877.28,720.75 882.09,698.41 885.88,696 890.11,708.38 894.06,705.8 898.7,682.59 903,713.19 907.3,713.88 911.59,703.22 915.38,714.91 919.33,720.06 923.62,736.22 927.92,729.86 932.22,729 936.52,719.55 940.81,721.27 945.11,718.34 949.41,721.27 953.19,733.3 957.14,727.62 961.09,726.42 965.73,732.09 970.03,730.38 974.84,727.62 978.97,730.38 982.92,725.56 987.22,729.34 991.52,728.66 995.81,727.28 1000.11,725.56 1004.41,720.41 1008.7,728.66 1012.66,727.62 1012.66,784" fill="none" stroke="#f2a2a8" stroke-width="1.1" stroke-linejoin="round"/>
<text transform="translate(619.34,707.2) scale(0.86,1)" x="0" y="0" font-size="34.01" font-weight="bold" fill="#b07ba0" letter-spacing="1.12" style="font-kerning:none">FANTASY</text>
<text x="44.73" y="803.5" font-size="10" fill="#a8a8a8" textLength="22.36" lengthAdjust="spacingAndGlyphs">1910</text>
<text x="549.13" y="803.5" font-size="10" fill="#a8a8a8" textLength="22.36" lengthAdjust="spacingAndGlyphs">1910</text>
<text x="83.03" y="803.5" font-size="10" fill="#a8a8a8" textLength="22.36" lengthAdjust="spacingAndGlyphs">1920</text>
<text x="587.23" y="803.5" font-size="10" fill="#a8a8a8" textLength="22.36" lengthAdjust="spacingAndGlyphs">1920</text>
<text x="125.23" y="803.5" font-size="10" fill="#a8a8a8" textLength="22.36" lengthAdjust="spacingAndGlyphs">1930</text>
<text x="629.43" y="803.5" font-size="10" fill="#a8a8a8" textLength="22.36" lengthAdjust="spacingAndGlyphs">1930</text>
<text x="167.43" y="803.5" font-size="10" fill="#a8a8a8" textLength="22.36" lengthAdjust="spacingAndGlyphs">1940</text>
<text x="671.63" y="803.5" font-size="10" fill="#a8a8a8" textLength="22.36" lengthAdjust="spacingAndGlyphs">1940</text>
<text x="209.63" y="803.5" font-size="10" fill="#a8a8a8" textLength="22.36" lengthAdjust="spacingAndGlyphs">1950</text>
<text x="713.83" y="803.5" font-size="10" fill="#a8a8a8" textLength="22.36" lengthAdjust="spacingAndGlyphs">1950</text>
<text x="251.83" y="803.5" font-size="10" fill="#a8a8a8" textLength="22.36" lengthAdjust="spacingAndGlyphs">1960</text>
<text x="756.03" y="803.5" font-size="10" fill="#a8a8a8" textLength="22.36" lengthAdjust="spacingAndGlyphs">1960</text>
<text x="294.03" y="803.5" font-size="10" fill="#a8a8a8" textLength="22.36" lengthAdjust="spacingAndGlyphs">1970</text>
<text x="798.23" y="803.5" font-size="10" fill="#a8a8a8" textLength="22.36" lengthAdjust="spacingAndGlyphs">1970</text>
<text x="336.23" y="803.5" font-size="10" fill="#a8a8a8" textLength="22.36" lengthAdjust="spacingAndGlyphs">1980</text>
<text x="840.43" y="803.5" font-size="10" fill="#a8a8a8" textLength="22.36" lengthAdjust="spacingAndGlyphs">1980</text>
<text x="378.43" y="803.5" font-size="10" fill="#a8a8a8" textLength="22.36" lengthAdjust="spacingAndGlyphs">1990</text>
<text x="882.63" y="803.5" font-size="10" fill="#a8a8a8" textLength="22.36" lengthAdjust="spacingAndGlyphs">1990</text>
<text x="420.9" y="803.5" font-size="10" fill="#a8a8a8" textLength="22.09" lengthAdjust="spacingAndGlyphs">2000</text>
<text x="925.1" y="803.5" font-size="10" fill="#a8a8a8" textLength="22.09" lengthAdjust="spacingAndGlyphs">2000</text>
<text x="463.1" y="803.5" font-size="10" fill="#a8a8a8" textLength="22.09" lengthAdjust="spacingAndGlyphs">2010</text>
<text x="967.3" y="803.5" font-size="10" fill="#a8a8a8" textLength="22.09" lengthAdjust="spacingAndGlyphs">2010</text>
</svg>
</body></html>
